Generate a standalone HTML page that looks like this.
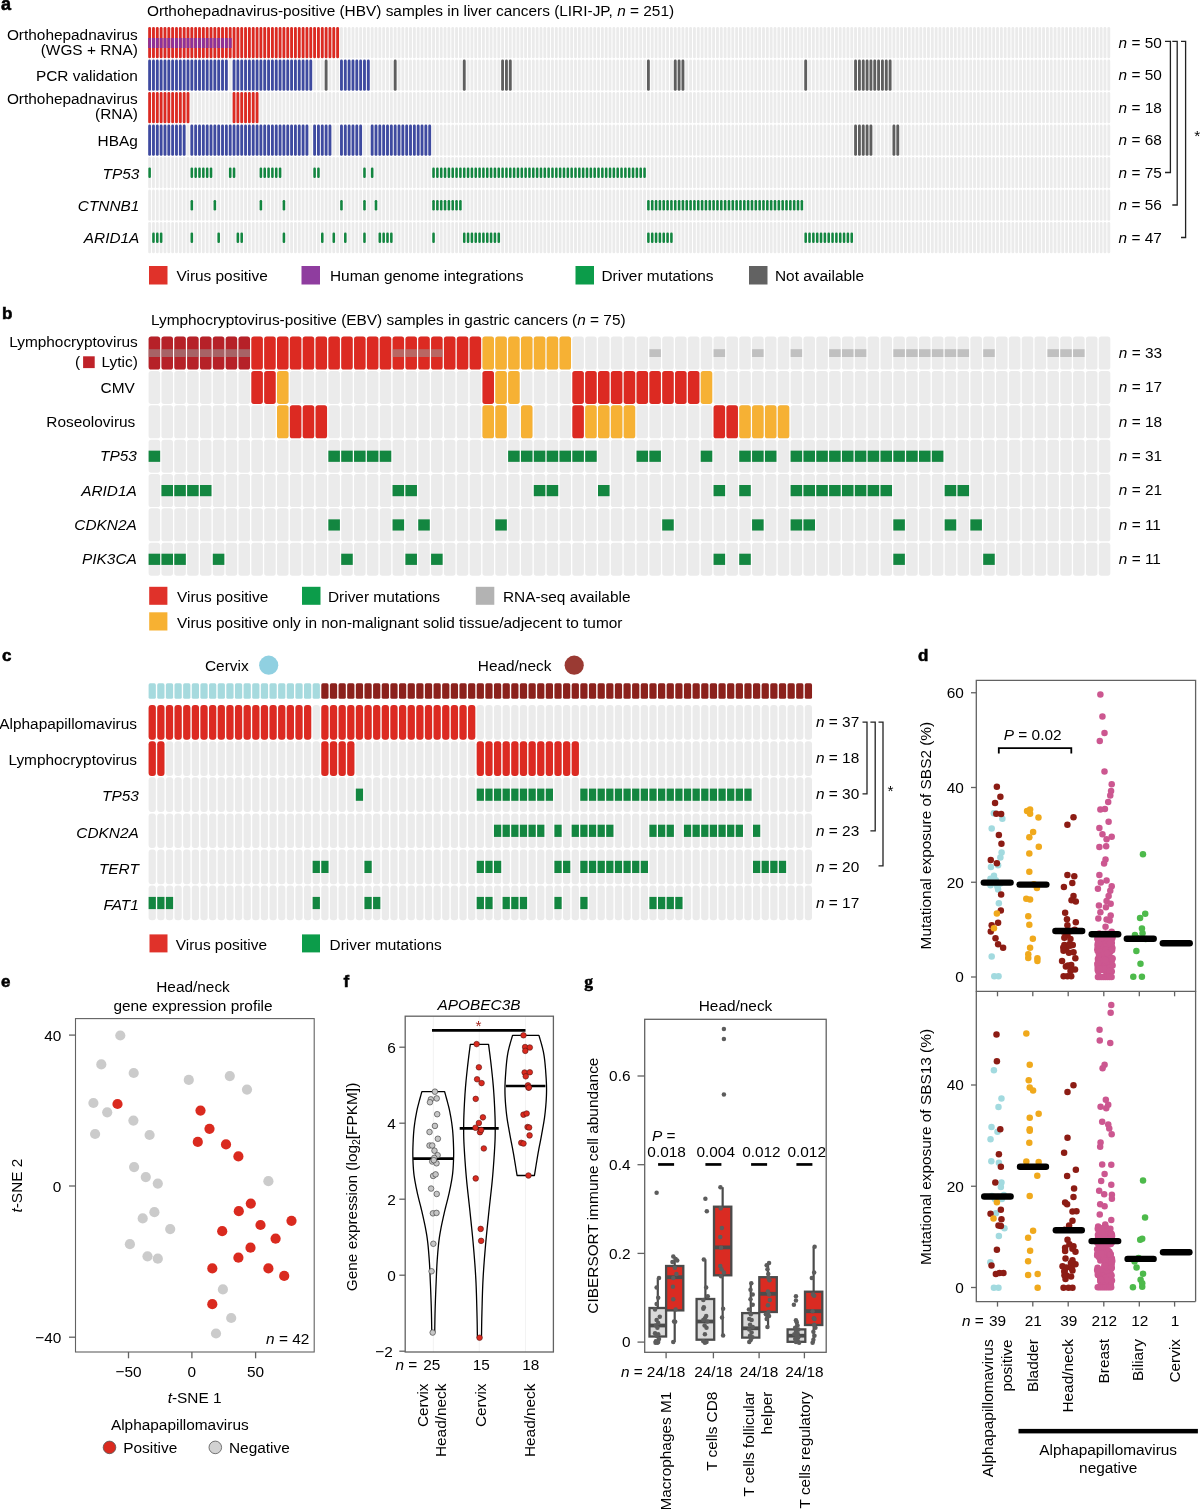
<!DOCTYPE html>
<html><head><meta charset="utf-8"><style>
*{margin:0;padding:0}
html,body{width:1200px;height:1509px;background:#fff;overflow:hidden}
svg{display:block;will-change:transform;font-family:"Liberation Sans",sans-serif;font-size:15.4px}
.ba{width:2.85px;height:31.3px;rx:1.42px;ry:1.42px;fill:#ebebeb}
.am{width:2.55px;height:10.4px;rx:1.2px;ry:1.2px;fill:#138640}
.bb{width:11.55px;height:33px;rx:2.6px;ry:2.6px;fill:#ebebeb}
.bm{width:11.55px;height:11.2px;fill:#138640}
.cb{width:7.25px;height:34.7px;rx:3px;ry:3px;fill:#ebebeb}
.cm{width:7.25px;height:12.2px;fill:#138640}
.dd{r:3.25px}
.fg{r:2.8px;fill:#c6c6c6;stroke:#333;stroke-width:.6px}
.fr{r:2.8px;fill:#da2a1f;stroke:#5a1410;stroke-width:.6px}
.gp{r:2.25px;fill:#5c5c5c}
.k0{fill:#dc2a22}.k1{fill:#3e4aa0}.k2{fill:#5e5e5e}.k3{fill:#b62128}.k4{fill:#f6b134}.k5{fill:#a2dadf}.k6{fill:#8c1c14}.k7{fill:#f0a91c}.k8{fill:#cc5790}.k9{fill:#4dba4b}</style></head><body>
<svg width="1200" height="1509" viewBox="0 0 1200 1509">
<text x="1" y="10" font-size="18" font-weight="bold" stroke="#000" stroke-width="0.55">a</text>
<text x="147" y="16.3">Orthohepadnavirus-positive (HBV) samples in liver cancers (LIRI-JP, <tspan font-style="italic">n</tspan> = 251)</text>
<rect class="ba" x="148.2" y="27"/>
<rect class="ba" x="152.04" y="27"/>
<rect class="ba" x="155.87" y="27"/>
<rect class="ba" x="159.71" y="27"/>
<rect class="ba" x="163.55" y="27"/>
<rect class="ba" x="167.38" y="27"/>
<rect class="ba" x="171.22" y="27"/>
<rect class="ba" x="175.06" y="27"/>
<rect class="ba" x="178.89" y="27"/>
<rect class="ba" x="182.73" y="27"/>
<rect class="ba" x="186.57" y="27"/>
<rect class="ba" x="190.4" y="27"/>
<rect class="ba" x="194.24" y="27"/>
<rect class="ba" x="198.08" y="27"/>
<rect class="ba" x="201.91" y="27"/>
<rect class="ba" x="205.75" y="27"/>
<rect class="ba" x="209.59" y="27"/>
<rect class="ba" x="213.42" y="27"/>
<rect class="ba" x="217.26" y="27"/>
<rect class="ba" x="221.1" y="27"/>
<rect class="ba" x="224.93" y="27"/>
<rect class="ba" x="228.77" y="27"/>
<rect class="ba" x="232.61" y="27"/>
<rect class="ba" x="236.44" y="27"/>
<rect class="ba" x="240.28" y="27"/>
<rect class="ba" x="244.12" y="27"/>
<rect class="ba" x="247.95" y="27"/>
<rect class="ba" x="251.79" y="27"/>
<rect class="ba" x="255.63" y="27"/>
<rect class="ba" x="259.46" y="27"/>
<rect class="ba" x="263.3" y="27"/>
<rect class="ba" x="267.14" y="27"/>
<rect class="ba" x="270.97" y="27"/>
<rect class="ba" x="274.81" y="27"/>
<rect class="ba" x="278.65" y="27"/>
<rect class="ba" x="282.48" y="27"/>
<rect class="ba" x="286.32" y="27"/>
<rect class="ba" x="290.16" y="27"/>
<rect class="ba" x="293.99" y="27"/>
<rect class="ba" x="297.83" y="27"/>
<rect class="ba" x="301.67" y="27"/>
<rect class="ba" x="305.5" y="27"/>
<rect class="ba" x="309.34" y="27"/>
<rect class="ba" x="313.18" y="27"/>
<rect class="ba" x="317.01" y="27"/>
<rect class="ba" x="320.85" y="27"/>
<rect class="ba" x="324.69" y="27"/>
<rect class="ba" x="328.52" y="27"/>
<rect class="ba" x="332.36" y="27"/>
<rect class="ba" x="336.2" y="27"/>
<rect class="ba" x="340.03" y="27"/>
<rect class="ba" x="343.87" y="27"/>
<rect class="ba" x="347.71" y="27"/>
<rect class="ba" x="351.54" y="27"/>
<rect class="ba" x="355.38" y="27"/>
<rect class="ba" x="359.22" y="27"/>
<rect class="ba" x="363.05" y="27"/>
<rect class="ba" x="366.89" y="27"/>
<rect class="ba" x="370.73" y="27"/>
<rect class="ba" x="374.56" y="27"/>
<rect class="ba" x="378.4" y="27"/>
<rect class="ba" x="382.24" y="27"/>
<rect class="ba" x="386.07" y="27"/>
<rect class="ba" x="389.91" y="27"/>
<rect class="ba" x="393.75" y="27"/>
<rect class="ba" x="397.58" y="27"/>
<rect class="ba" x="401.42" y="27"/>
<rect class="ba" x="405.26" y="27"/>
<rect class="ba" x="409.09" y="27"/>
<rect class="ba" x="412.93" y="27"/>
<rect class="ba" x="416.77" y="27"/>
<rect class="ba" x="420.6" y="27"/>
<rect class="ba" x="424.44" y="27"/>
<rect class="ba" x="428.28" y="27"/>
<rect class="ba" x="432.11" y="27"/>
<rect class="ba" x="435.95" y="27"/>
<rect class="ba" x="439.79" y="27"/>
<rect class="ba" x="443.62" y="27"/>
<rect class="ba" x="447.46" y="27"/>
<rect class="ba" x="451.3" y="27"/>
<rect class="ba" x="455.13" y="27"/>
<rect class="ba" x="458.97" y="27"/>
<rect class="ba" x="462.81" y="27"/>
<rect class="ba" x="466.64" y="27"/>
<rect class="ba" x="470.48" y="27"/>
<rect class="ba" x="474.32" y="27"/>
<rect class="ba" x="478.15" y="27"/>
<rect class="ba" x="481.99" y="27"/>
<rect class="ba" x="485.83" y="27"/>
<rect class="ba" x="489.66" y="27"/>
<rect class="ba" x="493.5" y="27"/>
<rect class="ba" x="497.34" y="27"/>
<rect class="ba" x="501.17" y="27"/>
<rect class="ba" x="505.01" y="27"/>
<rect class="ba" x="508.85" y="27"/>
<rect class="ba" x="512.68" y="27"/>
<rect class="ba" x="516.52" y="27"/>
<rect class="ba" x="520.36" y="27"/>
<rect class="ba" x="524.19" y="27"/>
<rect class="ba" x="528.03" y="27"/>
<rect class="ba" x="531.87" y="27"/>
<rect class="ba" x="535.7" y="27"/>
<rect class="ba" x="539.54" y="27"/>
<rect class="ba" x="543.38" y="27"/>
<rect class="ba" x="547.21" y="27"/>
<rect class="ba" x="551.05" y="27"/>
<rect class="ba" x="554.89" y="27"/>
<rect class="ba" x="558.72" y="27"/>
<rect class="ba" x="562.56" y="27"/>
<rect class="ba" x="566.4" y="27"/>
<rect class="ba" x="570.23" y="27"/>
<rect class="ba" x="574.07" y="27"/>
<rect class="ba" x="577.91" y="27"/>
<rect class="ba" x="581.74" y="27"/>
<rect class="ba" x="585.58" y="27"/>
<rect class="ba" x="589.42" y="27"/>
<rect class="ba" x="593.25" y="27"/>
<rect class="ba" x="597.09" y="27"/>
<rect class="ba" x="600.93" y="27"/>
<rect class="ba" x="604.76" y="27"/>
<rect class="ba" x="608.6" y="27"/>
<rect class="ba" x="612.44" y="27"/>
<rect class="ba" x="616.27" y="27"/>
<rect class="ba" x="620.11" y="27"/>
<rect class="ba" x="623.95" y="27"/>
<rect class="ba" x="627.78" y="27"/>
<rect class="ba" x="631.62" y="27"/>
<rect class="ba" x="635.45" y="27"/>
<rect class="ba" x="639.29" y="27"/>
<rect class="ba" x="643.13" y="27"/>
<rect class="ba" x="646.96" y="27"/>
<rect class="ba" x="650.8" y="27"/>
<rect class="ba" x="654.64" y="27"/>
<rect class="ba" x="658.47" y="27"/>
<rect class="ba" x="662.31" y="27"/>
<rect class="ba" x="666.15" y="27"/>
<rect class="ba" x="669.98" y="27"/>
<rect class="ba" x="673.82" y="27"/>
<rect class="ba" x="677.66" y="27"/>
<rect class="ba" x="681.49" y="27"/>
<rect class="ba" x="685.33" y="27"/>
<rect class="ba" x="689.17" y="27"/>
<rect class="ba" x="693" y="27"/>
<rect class="ba" x="696.84" y="27"/>
<rect class="ba" x="700.68" y="27"/>
<rect class="ba" x="704.51" y="27"/>
<rect class="ba" x="708.35" y="27"/>
<rect class="ba" x="712.19" y="27"/>
<rect class="ba" x="716.02" y="27"/>
<rect class="ba" x="719.86" y="27"/>
<rect class="ba" x="723.7" y="27"/>
<rect class="ba" x="727.53" y="27"/>
<rect class="ba" x="731.37" y="27"/>
<rect class="ba" x="735.21" y="27"/>
<rect class="ba" x="739.04" y="27"/>
<rect class="ba" x="742.88" y="27"/>
<rect class="ba" x="746.72" y="27"/>
<rect class="ba" x="750.55" y="27"/>
<rect class="ba" x="754.39" y="27"/>
<rect class="ba" x="758.23" y="27"/>
<rect class="ba" x="762.06" y="27"/>
<rect class="ba" x="765.9" y="27"/>
<rect class="ba" x="769.74" y="27"/>
<rect class="ba" x="773.57" y="27"/>
<rect class="ba" x="777.41" y="27"/>
<rect class="ba" x="781.25" y="27"/>
<rect class="ba" x="785.08" y="27"/>
<rect class="ba" x="788.92" y="27"/>
<rect class="ba" x="792.76" y="27"/>
<rect class="ba" x="796.59" y="27"/>
<rect class="ba" x="800.43" y="27"/>
<rect class="ba" x="804.27" y="27"/>
<rect class="ba" x="808.1" y="27"/>
<rect class="ba" x="811.94" y="27"/>
<rect class="ba" x="815.78" y="27"/>
<rect class="ba" x="819.61" y="27"/>
<rect class="ba" x="823.45" y="27"/>
<rect class="ba" x="827.29" y="27"/>
<rect class="ba" x="831.12" y="27"/>
<rect class="ba" x="834.96" y="27"/>
<rect class="ba" x="838.8" y="27"/>
<rect class="ba" x="842.63" y="27"/>
<rect class="ba" x="846.47" y="27"/>
<rect class="ba" x="850.31" y="27"/>
<rect class="ba" x="854.14" y="27"/>
<rect class="ba" x="857.98" y="27"/>
<rect class="ba" x="861.82" y="27"/>
<rect class="ba" x="865.65" y="27"/>
<rect class="ba" x="869.49" y="27"/>
<rect class="ba" x="873.33" y="27"/>
<rect class="ba" x="877.16" y="27"/>
<rect class="ba" x="881" y="27"/>
<rect class="ba" x="884.84" y="27"/>
<rect class="ba" x="888.67" y="27"/>
<rect class="ba" x="892.51" y="27"/>
<rect class="ba" x="896.35" y="27"/>
<rect class="ba" x="900.18" y="27"/>
<rect class="ba" x="904.02" y="27"/>
<rect class="ba" x="907.86" y="27"/>
<rect class="ba" x="911.69" y="27"/>
<rect class="ba" x="915.53" y="27"/>
<rect class="ba" x="919.37" y="27"/>
<rect class="ba" x="923.2" y="27"/>
<rect class="ba" x="927.04" y="27"/>
<rect class="ba" x="930.88" y="27"/>
<rect class="ba" x="934.71" y="27"/>
<rect class="ba" x="938.55" y="27"/>
<rect class="ba" x="942.39" y="27"/>
<rect class="ba" x="946.22" y="27"/>
<rect class="ba" x="950.06" y="27"/>
<rect class="ba" x="953.9" y="27"/>
<rect class="ba" x="957.73" y="27"/>
<rect class="ba" x="961.57" y="27"/>
<rect class="ba" x="965.41" y="27"/>
<rect class="ba" x="969.24" y="27"/>
<rect class="ba" x="973.08" y="27"/>
<rect class="ba" x="976.92" y="27"/>
<rect class="ba" x="980.75" y="27"/>
<rect class="ba" x="984.59" y="27"/>
<rect class="ba" x="988.43" y="27"/>
<rect class="ba" x="992.26" y="27"/>
<rect class="ba" x="996.1" y="27"/>
<rect class="ba" x="999.94" y="27"/>
<rect class="ba" x="1003.77" y="27"/>
<rect class="ba" x="1007.61" y="27"/>
<rect class="ba" x="1011.45" y="27"/>
<rect class="ba" x="1015.28" y="27"/>
<rect class="ba" x="1019.12" y="27"/>
<rect class="ba" x="1022.96" y="27"/>
<rect class="ba" x="1026.79" y="27"/>
<rect class="ba" x="1030.63" y="27"/>
<rect class="ba" x="1034.47" y="27"/>
<rect class="ba" x="1038.3" y="27"/>
<rect class="ba" x="1042.14" y="27"/>
<rect class="ba" x="1045.98" y="27"/>
<rect class="ba" x="1049.81" y="27"/>
<rect class="ba" x="1053.65" y="27"/>
<rect class="ba" x="1057.49" y="27"/>
<rect class="ba" x="1061.32" y="27"/>
<rect class="ba" x="1065.16" y="27"/>
<rect class="ba" x="1069" y="27"/>
<rect class="ba" x="1072.83" y="27"/>
<rect class="ba" x="1076.67" y="27"/>
<rect class="ba" x="1080.51" y="27"/>
<rect class="ba" x="1084.34" y="27"/>
<rect class="ba" x="1088.18" y="27"/>
<rect class="ba" x="1092.02" y="27"/>
<rect class="ba" x="1095.85" y="27"/>
<rect class="ba" x="1099.69" y="27"/>
<rect class="ba" x="1103.53" y="27"/>
<rect class="ba" x="1107.36" y="27"/>
<rect class="ba" x="148.2" y="59.5"/>
<rect class="ba" x="152.04" y="59.5"/>
<rect class="ba" x="155.87" y="59.5"/>
<rect class="ba" x="159.71" y="59.5"/>
<rect class="ba" x="163.55" y="59.5"/>
<rect class="ba" x="167.38" y="59.5"/>
<rect class="ba" x="171.22" y="59.5"/>
<rect class="ba" x="175.06" y="59.5"/>
<rect class="ba" x="178.89" y="59.5"/>
<rect class="ba" x="182.73" y="59.5"/>
<rect class="ba" x="186.57" y="59.5"/>
<rect class="ba" x="190.4" y="59.5"/>
<rect class="ba" x="194.24" y="59.5"/>
<rect class="ba" x="198.08" y="59.5"/>
<rect class="ba" x="201.91" y="59.5"/>
<rect class="ba" x="205.75" y="59.5"/>
<rect class="ba" x="209.59" y="59.5"/>
<rect class="ba" x="213.42" y="59.5"/>
<rect class="ba" x="217.26" y="59.5"/>
<rect class="ba" x="221.1" y="59.5"/>
<rect class="ba" x="224.93" y="59.5"/>
<rect class="ba" x="228.77" y="59.5"/>
<rect class="ba" x="232.61" y="59.5"/>
<rect class="ba" x="236.44" y="59.5"/>
<rect class="ba" x="240.28" y="59.5"/>
<rect class="ba" x="244.12" y="59.5"/>
<rect class="ba" x="247.95" y="59.5"/>
<rect class="ba" x="251.79" y="59.5"/>
<rect class="ba" x="255.63" y="59.5"/>
<rect class="ba" x="259.46" y="59.5"/>
<rect class="ba" x="263.3" y="59.5"/>
<rect class="ba" x="267.14" y="59.5"/>
<rect class="ba" x="270.97" y="59.5"/>
<rect class="ba" x="274.81" y="59.5"/>
<rect class="ba" x="278.65" y="59.5"/>
<rect class="ba" x="282.48" y="59.5"/>
<rect class="ba" x="286.32" y="59.5"/>
<rect class="ba" x="290.16" y="59.5"/>
<rect class="ba" x="293.99" y="59.5"/>
<rect class="ba" x="297.83" y="59.5"/>
<rect class="ba" x="301.67" y="59.5"/>
<rect class="ba" x="305.5" y="59.5"/>
<rect class="ba" x="309.34" y="59.5"/>
<rect class="ba" x="313.18" y="59.5"/>
<rect class="ba" x="317.01" y="59.5"/>
<rect class="ba" x="320.85" y="59.5"/>
<rect class="ba" x="324.69" y="59.5"/>
<rect class="ba" x="328.52" y="59.5"/>
<rect class="ba" x="332.36" y="59.5"/>
<rect class="ba" x="336.2" y="59.5"/>
<rect class="ba" x="340.03" y="59.5"/>
<rect class="ba" x="343.87" y="59.5"/>
<rect class="ba" x="347.71" y="59.5"/>
<rect class="ba" x="351.54" y="59.5"/>
<rect class="ba" x="355.38" y="59.5"/>
<rect class="ba" x="359.22" y="59.5"/>
<rect class="ba" x="363.05" y="59.5"/>
<rect class="ba" x="366.89" y="59.5"/>
<rect class="ba" x="370.73" y="59.5"/>
<rect class="ba" x="374.56" y="59.5"/>
<rect class="ba" x="378.4" y="59.5"/>
<rect class="ba" x="382.24" y="59.5"/>
<rect class="ba" x="386.07" y="59.5"/>
<rect class="ba" x="389.91" y="59.5"/>
<rect class="ba" x="393.75" y="59.5"/>
<rect class="ba" x="397.58" y="59.5"/>
<rect class="ba" x="401.42" y="59.5"/>
<rect class="ba" x="405.26" y="59.5"/>
<rect class="ba" x="409.09" y="59.5"/>
<rect class="ba" x="412.93" y="59.5"/>
<rect class="ba" x="416.77" y="59.5"/>
<rect class="ba" x="420.6" y="59.5"/>
<rect class="ba" x="424.44" y="59.5"/>
<rect class="ba" x="428.28" y="59.5"/>
<rect class="ba" x="432.11" y="59.5"/>
<rect class="ba" x="435.95" y="59.5"/>
<rect class="ba" x="439.79" y="59.5"/>
<rect class="ba" x="443.62" y="59.5"/>
<rect class="ba" x="447.46" y="59.5"/>
<rect class="ba" x="451.3" y="59.5"/>
<rect class="ba" x="455.13" y="59.5"/>
<rect class="ba" x="458.97" y="59.5"/>
<rect class="ba" x="462.81" y="59.5"/>
<rect class="ba" x="466.64" y="59.5"/>
<rect class="ba" x="470.48" y="59.5"/>
<rect class="ba" x="474.32" y="59.5"/>
<rect class="ba" x="478.15" y="59.5"/>
<rect class="ba" x="481.99" y="59.5"/>
<rect class="ba" x="485.83" y="59.5"/>
<rect class="ba" x="489.66" y="59.5"/>
<rect class="ba" x="493.5" y="59.5"/>
<rect class="ba" x="497.34" y="59.5"/>
<rect class="ba" x="501.17" y="59.5"/>
<rect class="ba" x="505.01" y="59.5"/>
<rect class="ba" x="508.85" y="59.5"/>
<rect class="ba" x="512.68" y="59.5"/>
<rect class="ba" x="516.52" y="59.5"/>
<rect class="ba" x="520.36" y="59.5"/>
<rect class="ba" x="524.19" y="59.5"/>
<rect class="ba" x="528.03" y="59.5"/>
<rect class="ba" x="531.87" y="59.5"/>
<rect class="ba" x="535.7" y="59.5"/>
<rect class="ba" x="539.54" y="59.5"/>
<rect class="ba" x="543.38" y="59.5"/>
<rect class="ba" x="547.21" y="59.5"/>
<rect class="ba" x="551.05" y="59.5"/>
<rect class="ba" x="554.89" y="59.5"/>
<rect class="ba" x="558.72" y="59.5"/>
<rect class="ba" x="562.56" y="59.5"/>
<rect class="ba" x="566.4" y="59.5"/>
<rect class="ba" x="570.23" y="59.5"/>
<rect class="ba" x="574.07" y="59.5"/>
<rect class="ba" x="577.91" y="59.5"/>
<rect class="ba" x="581.74" y="59.5"/>
<rect class="ba" x="585.58" y="59.5"/>
<rect class="ba" x="589.42" y="59.5"/>
<rect class="ba" x="593.25" y="59.5"/>
<rect class="ba" x="597.09" y="59.5"/>
<rect class="ba" x="600.93" y="59.5"/>
<rect class="ba" x="604.76" y="59.5"/>
<rect class="ba" x="608.6" y="59.5"/>
<rect class="ba" x="612.44" y="59.5"/>
<rect class="ba" x="616.27" y="59.5"/>
<rect class="ba" x="620.11" y="59.5"/>
<rect class="ba" x="623.95" y="59.5"/>
<rect class="ba" x="627.78" y="59.5"/>
<rect class="ba" x="631.62" y="59.5"/>
<rect class="ba" x="635.45" y="59.5"/>
<rect class="ba" x="639.29" y="59.5"/>
<rect class="ba" x="643.13" y="59.5"/>
<rect class="ba" x="646.96" y="59.5"/>
<rect class="ba" x="650.8" y="59.5"/>
<rect class="ba" x="654.64" y="59.5"/>
<rect class="ba" x="658.47" y="59.5"/>
<rect class="ba" x="662.31" y="59.5"/>
<rect class="ba" x="666.15" y="59.5"/>
<rect class="ba" x="669.98" y="59.5"/>
<rect class="ba" x="673.82" y="59.5"/>
<rect class="ba" x="677.66" y="59.5"/>
<rect class="ba" x="681.49" y="59.5"/>
<rect class="ba" x="685.33" y="59.5"/>
<rect class="ba" x="689.17" y="59.5"/>
<rect class="ba" x="693" y="59.5"/>
<rect class="ba" x="696.84" y="59.5"/>
<rect class="ba" x="700.68" y="59.5"/>
<rect class="ba" x="704.51" y="59.5"/>
<rect class="ba" x="708.35" y="59.5"/>
<rect class="ba" x="712.19" y="59.5"/>
<rect class="ba" x="716.02" y="59.5"/>
<rect class="ba" x="719.86" y="59.5"/>
<rect class="ba" x="723.7" y="59.5"/>
<rect class="ba" x="727.53" y="59.5"/>
<rect class="ba" x="731.37" y="59.5"/>
<rect class="ba" x="735.21" y="59.5"/>
<rect class="ba" x="739.04" y="59.5"/>
<rect class="ba" x="742.88" y="59.5"/>
<rect class="ba" x="746.72" y="59.5"/>
<rect class="ba" x="750.55" y="59.5"/>
<rect class="ba" x="754.39" y="59.5"/>
<rect class="ba" x="758.23" y="59.5"/>
<rect class="ba" x="762.06" y="59.5"/>
<rect class="ba" x="765.9" y="59.5"/>
<rect class="ba" x="769.74" y="59.5"/>
<rect class="ba" x="773.57" y="59.5"/>
<rect class="ba" x="777.41" y="59.5"/>
<rect class="ba" x="781.25" y="59.5"/>
<rect class="ba" x="785.08" y="59.5"/>
<rect class="ba" x="788.92" y="59.5"/>
<rect class="ba" x="792.76" y="59.5"/>
<rect class="ba" x="796.59" y="59.5"/>
<rect class="ba" x="800.43" y="59.5"/>
<rect class="ba" x="804.27" y="59.5"/>
<rect class="ba" x="808.1" y="59.5"/>
<rect class="ba" x="811.94" y="59.5"/>
<rect class="ba" x="815.78" y="59.5"/>
<rect class="ba" x="819.61" y="59.5"/>
<rect class="ba" x="823.45" y="59.5"/>
<rect class="ba" x="827.29" y="59.5"/>
<rect class="ba" x="831.12" y="59.5"/>
<rect class="ba" x="834.96" y="59.5"/>
<rect class="ba" x="838.8" y="59.5"/>
<rect class="ba" x="842.63" y="59.5"/>
<rect class="ba" x="846.47" y="59.5"/>
<rect class="ba" x="850.31" y="59.5"/>
<rect class="ba" x="854.14" y="59.5"/>
<rect class="ba" x="857.98" y="59.5"/>
<rect class="ba" x="861.82" y="59.5"/>
<rect class="ba" x="865.65" y="59.5"/>
<rect class="ba" x="869.49" y="59.5"/>
<rect class="ba" x="873.33" y="59.5"/>
<rect class="ba" x="877.16" y="59.5"/>
<rect class="ba" x="881" y="59.5"/>
<rect class="ba" x="884.84" y="59.5"/>
<rect class="ba" x="888.67" y="59.5"/>
<rect class="ba" x="892.51" y="59.5"/>
<rect class="ba" x="896.35" y="59.5"/>
<rect class="ba" x="900.18" y="59.5"/>
<rect class="ba" x="904.02" y="59.5"/>
<rect class="ba" x="907.86" y="59.5"/>
<rect class="ba" x="911.69" y="59.5"/>
<rect class="ba" x="915.53" y="59.5"/>
<rect class="ba" x="919.37" y="59.5"/>
<rect class="ba" x="923.2" y="59.5"/>
<rect class="ba" x="927.04" y="59.5"/>
<rect class="ba" x="930.88" y="59.5"/>
<rect class="ba" x="934.71" y="59.5"/>
<rect class="ba" x="938.55" y="59.5"/>
<rect class="ba" x="942.39" y="59.5"/>
<rect class="ba" x="946.22" y="59.5"/>
<rect class="ba" x="950.06" y="59.5"/>
<rect class="ba" x="953.9" y="59.5"/>
<rect class="ba" x="957.73" y="59.5"/>
<rect class="ba" x="961.57" y="59.5"/>
<rect class="ba" x="965.41" y="59.5"/>
<rect class="ba" x="969.24" y="59.5"/>
<rect class="ba" x="973.08" y="59.5"/>
<rect class="ba" x="976.92" y="59.5"/>
<rect class="ba" x="980.75" y="59.5"/>
<rect class="ba" x="984.59" y="59.5"/>
<rect class="ba" x="988.43" y="59.5"/>
<rect class="ba" x="992.26" y="59.5"/>
<rect class="ba" x="996.1" y="59.5"/>
<rect class="ba" x="999.94" y="59.5"/>
<rect class="ba" x="1003.77" y="59.5"/>
<rect class="ba" x="1007.61" y="59.5"/>
<rect class="ba" x="1011.45" y="59.5"/>
<rect class="ba" x="1015.28" y="59.5"/>
<rect class="ba" x="1019.12" y="59.5"/>
<rect class="ba" x="1022.96" y="59.5"/>
<rect class="ba" x="1026.79" y="59.5"/>
<rect class="ba" x="1030.63" y="59.5"/>
<rect class="ba" x="1034.47" y="59.5"/>
<rect class="ba" x="1038.3" y="59.5"/>
<rect class="ba" x="1042.14" y="59.5"/>
<rect class="ba" x="1045.98" y="59.5"/>
<rect class="ba" x="1049.81" y="59.5"/>
<rect class="ba" x="1053.65" y="59.5"/>
<rect class="ba" x="1057.49" y="59.5"/>
<rect class="ba" x="1061.32" y="59.5"/>
<rect class="ba" x="1065.16" y="59.5"/>
<rect class="ba" x="1069" y="59.5"/>
<rect class="ba" x="1072.83" y="59.5"/>
<rect class="ba" x="1076.67" y="59.5"/>
<rect class="ba" x="1080.51" y="59.5"/>
<rect class="ba" x="1084.34" y="59.5"/>
<rect class="ba" x="1088.18" y="59.5"/>
<rect class="ba" x="1092.02" y="59.5"/>
<rect class="ba" x="1095.85" y="59.5"/>
<rect class="ba" x="1099.69" y="59.5"/>
<rect class="ba" x="1103.53" y="59.5"/>
<rect class="ba" x="1107.36" y="59.5"/>
<rect class="ba" x="148.2" y="92"/>
<rect class="ba" x="152.04" y="92"/>
<rect class="ba" x="155.87" y="92"/>
<rect class="ba" x="159.71" y="92"/>
<rect class="ba" x="163.55" y="92"/>
<rect class="ba" x="167.38" y="92"/>
<rect class="ba" x="171.22" y="92"/>
<rect class="ba" x="175.06" y="92"/>
<rect class="ba" x="178.89" y="92"/>
<rect class="ba" x="182.73" y="92"/>
<rect class="ba" x="186.57" y="92"/>
<rect class="ba" x="190.4" y="92"/>
<rect class="ba" x="194.24" y="92"/>
<rect class="ba" x="198.08" y="92"/>
<rect class="ba" x="201.91" y="92"/>
<rect class="ba" x="205.75" y="92"/>
<rect class="ba" x="209.59" y="92"/>
<rect class="ba" x="213.42" y="92"/>
<rect class="ba" x="217.26" y="92"/>
<rect class="ba" x="221.1" y="92"/>
<rect class="ba" x="224.93" y="92"/>
<rect class="ba" x="228.77" y="92"/>
<rect class="ba" x="232.61" y="92"/>
<rect class="ba" x="236.44" y="92"/>
<rect class="ba" x="240.28" y="92"/>
<rect class="ba" x="244.12" y="92"/>
<rect class="ba" x="247.95" y="92"/>
<rect class="ba" x="251.79" y="92"/>
<rect class="ba" x="255.63" y="92"/>
<rect class="ba" x="259.46" y="92"/>
<rect class="ba" x="263.3" y="92"/>
<rect class="ba" x="267.14" y="92"/>
<rect class="ba" x="270.97" y="92"/>
<rect class="ba" x="274.81" y="92"/>
<rect class="ba" x="278.65" y="92"/>
<rect class="ba" x="282.48" y="92"/>
<rect class="ba" x="286.32" y="92"/>
<rect class="ba" x="290.16" y="92"/>
<rect class="ba" x="293.99" y="92"/>
<rect class="ba" x="297.83" y="92"/>
<rect class="ba" x="301.67" y="92"/>
<rect class="ba" x="305.5" y="92"/>
<rect class="ba" x="309.34" y="92"/>
<rect class="ba" x="313.18" y="92"/>
<rect class="ba" x="317.01" y="92"/>
<rect class="ba" x="320.85" y="92"/>
<rect class="ba" x="324.69" y="92"/>
<rect class="ba" x="328.52" y="92"/>
<rect class="ba" x="332.36" y="92"/>
<rect class="ba" x="336.2" y="92"/>
<rect class="ba" x="340.03" y="92"/>
<rect class="ba" x="343.87" y="92"/>
<rect class="ba" x="347.71" y="92"/>
<rect class="ba" x="351.54" y="92"/>
<rect class="ba" x="355.38" y="92"/>
<rect class="ba" x="359.22" y="92"/>
<rect class="ba" x="363.05" y="92"/>
<rect class="ba" x="366.89" y="92"/>
<rect class="ba" x="370.73" y="92"/>
<rect class="ba" x="374.56" y="92"/>
<rect class="ba" x="378.4" y="92"/>
<rect class="ba" x="382.24" y="92"/>
<rect class="ba" x="386.07" y="92"/>
<rect class="ba" x="389.91" y="92"/>
<rect class="ba" x="393.75" y="92"/>
<rect class="ba" x="397.58" y="92"/>
<rect class="ba" x="401.42" y="92"/>
<rect class="ba" x="405.26" y="92"/>
<rect class="ba" x="409.09" y="92"/>
<rect class="ba" x="412.93" y="92"/>
<rect class="ba" x="416.77" y="92"/>
<rect class="ba" x="420.6" y="92"/>
<rect class="ba" x="424.44" y="92"/>
<rect class="ba" x="428.28" y="92"/>
<rect class="ba" x="432.11" y="92"/>
<rect class="ba" x="435.95" y="92"/>
<rect class="ba" x="439.79" y="92"/>
<rect class="ba" x="443.62" y="92"/>
<rect class="ba" x="447.46" y="92"/>
<rect class="ba" x="451.3" y="92"/>
<rect class="ba" x="455.13" y="92"/>
<rect class="ba" x="458.97" y="92"/>
<rect class="ba" x="462.81" y="92"/>
<rect class="ba" x="466.64" y="92"/>
<rect class="ba" x="470.48" y="92"/>
<rect class="ba" x="474.32" y="92"/>
<rect class="ba" x="478.15" y="92"/>
<rect class="ba" x="481.99" y="92"/>
<rect class="ba" x="485.83" y="92"/>
<rect class="ba" x="489.66" y="92"/>
<rect class="ba" x="493.5" y="92"/>
<rect class="ba" x="497.34" y="92"/>
<rect class="ba" x="501.17" y="92"/>
<rect class="ba" x="505.01" y="92"/>
<rect class="ba" x="508.85" y="92"/>
<rect class="ba" x="512.68" y="92"/>
<rect class="ba" x="516.52" y="92"/>
<rect class="ba" x="520.36" y="92"/>
<rect class="ba" x="524.19" y="92"/>
<rect class="ba" x="528.03" y="92"/>
<rect class="ba" x="531.87" y="92"/>
<rect class="ba" x="535.7" y="92"/>
<rect class="ba" x="539.54" y="92"/>
<rect class="ba" x="543.38" y="92"/>
<rect class="ba" x="547.21" y="92"/>
<rect class="ba" x="551.05" y="92"/>
<rect class="ba" x="554.89" y="92"/>
<rect class="ba" x="558.72" y="92"/>
<rect class="ba" x="562.56" y="92"/>
<rect class="ba" x="566.4" y="92"/>
<rect class="ba" x="570.23" y="92"/>
<rect class="ba" x="574.07" y="92"/>
<rect class="ba" x="577.91" y="92"/>
<rect class="ba" x="581.74" y="92"/>
<rect class="ba" x="585.58" y="92"/>
<rect class="ba" x="589.42" y="92"/>
<rect class="ba" x="593.25" y="92"/>
<rect class="ba" x="597.09" y="92"/>
<rect class="ba" x="600.93" y="92"/>
<rect class="ba" x="604.76" y="92"/>
<rect class="ba" x="608.6" y="92"/>
<rect class="ba" x="612.44" y="92"/>
<rect class="ba" x="616.27" y="92"/>
<rect class="ba" x="620.11" y="92"/>
<rect class="ba" x="623.95" y="92"/>
<rect class="ba" x="627.78" y="92"/>
<rect class="ba" x="631.62" y="92"/>
<rect class="ba" x="635.45" y="92"/>
<rect class="ba" x="639.29" y="92"/>
<rect class="ba" x="643.13" y="92"/>
<rect class="ba" x="646.96" y="92"/>
<rect class="ba" x="650.8" y="92"/>
<rect class="ba" x="654.64" y="92"/>
<rect class="ba" x="658.47" y="92"/>
<rect class="ba" x="662.31" y="92"/>
<rect class="ba" x="666.15" y="92"/>
<rect class="ba" x="669.98" y="92"/>
<rect class="ba" x="673.82" y="92"/>
<rect class="ba" x="677.66" y="92"/>
<rect class="ba" x="681.49" y="92"/>
<rect class="ba" x="685.33" y="92"/>
<rect class="ba" x="689.17" y="92"/>
<rect class="ba" x="693" y="92"/>
<rect class="ba" x="696.84" y="92"/>
<rect class="ba" x="700.68" y="92"/>
<rect class="ba" x="704.51" y="92"/>
<rect class="ba" x="708.35" y="92"/>
<rect class="ba" x="712.19" y="92"/>
<rect class="ba" x="716.02" y="92"/>
<rect class="ba" x="719.86" y="92"/>
<rect class="ba" x="723.7" y="92"/>
<rect class="ba" x="727.53" y="92"/>
<rect class="ba" x="731.37" y="92"/>
<rect class="ba" x="735.21" y="92"/>
<rect class="ba" x="739.04" y="92"/>
<rect class="ba" x="742.88" y="92"/>
<rect class="ba" x="746.72" y="92"/>
<rect class="ba" x="750.55" y="92"/>
<rect class="ba" x="754.39" y="92"/>
<rect class="ba" x="758.23" y="92"/>
<rect class="ba" x="762.06" y="92"/>
<rect class="ba" x="765.9" y="92"/>
<rect class="ba" x="769.74" y="92"/>
<rect class="ba" x="773.57" y="92"/>
<rect class="ba" x="777.41" y="92"/>
<rect class="ba" x="781.25" y="92"/>
<rect class="ba" x="785.08" y="92"/>
<rect class="ba" x="788.92" y="92"/>
<rect class="ba" x="792.76" y="92"/>
<rect class="ba" x="796.59" y="92"/>
<rect class="ba" x="800.43" y="92"/>
<rect class="ba" x="804.27" y="92"/>
<rect class="ba" x="808.1" y="92"/>
<rect class="ba" x="811.94" y="92"/>
<rect class="ba" x="815.78" y="92"/>
<rect class="ba" x="819.61" y="92"/>
<rect class="ba" x="823.45" y="92"/>
<rect class="ba" x="827.29" y="92"/>
<rect class="ba" x="831.12" y="92"/>
<rect class="ba" x="834.96" y="92"/>
<rect class="ba" x="838.8" y="92"/>
<rect class="ba" x="842.63" y="92"/>
<rect class="ba" x="846.47" y="92"/>
<rect class="ba" x="850.31" y="92"/>
<rect class="ba" x="854.14" y="92"/>
<rect class="ba" x="857.98" y="92"/>
<rect class="ba" x="861.82" y="92"/>
<rect class="ba" x="865.65" y="92"/>
<rect class="ba" x="869.49" y="92"/>
<rect class="ba" x="873.33" y="92"/>
<rect class="ba" x="877.16" y="92"/>
<rect class="ba" x="881" y="92"/>
<rect class="ba" x="884.84" y="92"/>
<rect class="ba" x="888.67" y="92"/>
<rect class="ba" x="892.51" y="92"/>
<rect class="ba" x="896.35" y="92"/>
<rect class="ba" x="900.18" y="92"/>
<rect class="ba" x="904.02" y="92"/>
<rect class="ba" x="907.86" y="92"/>
<rect class="ba" x="911.69" y="92"/>
<rect class="ba" x="915.53" y="92"/>
<rect class="ba" x="919.37" y="92"/>
<rect class="ba" x="923.2" y="92"/>
<rect class="ba" x="927.04" y="92"/>
<rect class="ba" x="930.88" y="92"/>
<rect class="ba" x="934.71" y="92"/>
<rect class="ba" x="938.55" y="92"/>
<rect class="ba" x="942.39" y="92"/>
<rect class="ba" x="946.22" y="92"/>
<rect class="ba" x="950.06" y="92"/>
<rect class="ba" x="953.9" y="92"/>
<rect class="ba" x="957.73" y="92"/>
<rect class="ba" x="961.57" y="92"/>
<rect class="ba" x="965.41" y="92"/>
<rect class="ba" x="969.24" y="92"/>
<rect class="ba" x="973.08" y="92"/>
<rect class="ba" x="976.92" y="92"/>
<rect class="ba" x="980.75" y="92"/>
<rect class="ba" x="984.59" y="92"/>
<rect class="ba" x="988.43" y="92"/>
<rect class="ba" x="992.26" y="92"/>
<rect class="ba" x="996.1" y="92"/>
<rect class="ba" x="999.94" y="92"/>
<rect class="ba" x="1003.77" y="92"/>
<rect class="ba" x="1007.61" y="92"/>
<rect class="ba" x="1011.45" y="92"/>
<rect class="ba" x="1015.28" y="92"/>
<rect class="ba" x="1019.12" y="92"/>
<rect class="ba" x="1022.96" y="92"/>
<rect class="ba" x="1026.79" y="92"/>
<rect class="ba" x="1030.63" y="92"/>
<rect class="ba" x="1034.47" y="92"/>
<rect class="ba" x="1038.3" y="92"/>
<rect class="ba" x="1042.14" y="92"/>
<rect class="ba" x="1045.98" y="92"/>
<rect class="ba" x="1049.81" y="92"/>
<rect class="ba" x="1053.65" y="92"/>
<rect class="ba" x="1057.49" y="92"/>
<rect class="ba" x="1061.32" y="92"/>
<rect class="ba" x="1065.16" y="92"/>
<rect class="ba" x="1069" y="92"/>
<rect class="ba" x="1072.83" y="92"/>
<rect class="ba" x="1076.67" y="92"/>
<rect class="ba" x="1080.51" y="92"/>
<rect class="ba" x="1084.34" y="92"/>
<rect class="ba" x="1088.18" y="92"/>
<rect class="ba" x="1092.02" y="92"/>
<rect class="ba" x="1095.85" y="92"/>
<rect class="ba" x="1099.69" y="92"/>
<rect class="ba" x="1103.53" y="92"/>
<rect class="ba" x="1107.36" y="92"/>
<rect class="ba" x="148.2" y="124.5"/>
<rect class="ba" x="152.04" y="124.5"/>
<rect class="ba" x="155.87" y="124.5"/>
<rect class="ba" x="159.71" y="124.5"/>
<rect class="ba" x="163.55" y="124.5"/>
<rect class="ba" x="167.38" y="124.5"/>
<rect class="ba" x="171.22" y="124.5"/>
<rect class="ba" x="175.06" y="124.5"/>
<rect class="ba" x="178.89" y="124.5"/>
<rect class="ba" x="182.73" y="124.5"/>
<rect class="ba" x="186.57" y="124.5"/>
<rect class="ba" x="190.4" y="124.5"/>
<rect class="ba" x="194.24" y="124.5"/>
<rect class="ba" x="198.08" y="124.5"/>
<rect class="ba" x="201.91" y="124.5"/>
<rect class="ba" x="205.75" y="124.5"/>
<rect class="ba" x="209.59" y="124.5"/>
<rect class="ba" x="213.42" y="124.5"/>
<rect class="ba" x="217.26" y="124.5"/>
<rect class="ba" x="221.1" y="124.5"/>
<rect class="ba" x="224.93" y="124.5"/>
<rect class="ba" x="228.77" y="124.5"/>
<rect class="ba" x="232.61" y="124.5"/>
<rect class="ba" x="236.44" y="124.5"/>
<rect class="ba" x="240.28" y="124.5"/>
<rect class="ba" x="244.12" y="124.5"/>
<rect class="ba" x="247.95" y="124.5"/>
<rect class="ba" x="251.79" y="124.5"/>
<rect class="ba" x="255.63" y="124.5"/>
<rect class="ba" x="259.46" y="124.5"/>
<rect class="ba" x="263.3" y="124.5"/>
<rect class="ba" x="267.14" y="124.5"/>
<rect class="ba" x="270.97" y="124.5"/>
<rect class="ba" x="274.81" y="124.5"/>
<rect class="ba" x="278.65" y="124.5"/>
<rect class="ba" x="282.48" y="124.5"/>
<rect class="ba" x="286.32" y="124.5"/>
<rect class="ba" x="290.16" y="124.5"/>
<rect class="ba" x="293.99" y="124.5"/>
<rect class="ba" x="297.83" y="124.5"/>
<rect class="ba" x="301.67" y="124.5"/>
<rect class="ba" x="305.5" y="124.5"/>
<rect class="ba" x="309.34" y="124.5"/>
<rect class="ba" x="313.18" y="124.5"/>
<rect class="ba" x="317.01" y="124.5"/>
<rect class="ba" x="320.85" y="124.5"/>
<rect class="ba" x="324.69" y="124.5"/>
<rect class="ba" x="328.52" y="124.5"/>
<rect class="ba" x="332.36" y="124.5"/>
<rect class="ba" x="336.2" y="124.5"/>
<rect class="ba" x="340.03" y="124.5"/>
<rect class="ba" x="343.87" y="124.5"/>
<rect class="ba" x="347.71" y="124.5"/>
<rect class="ba" x="351.54" y="124.5"/>
<rect class="ba" x="355.38" y="124.5"/>
<rect class="ba" x="359.22" y="124.5"/>
<rect class="ba" x="363.05" y="124.5"/>
<rect class="ba" x="366.89" y="124.5"/>
<rect class="ba" x="370.73" y="124.5"/>
<rect class="ba" x="374.56" y="124.5"/>
<rect class="ba" x="378.4" y="124.5"/>
<rect class="ba" x="382.24" y="124.5"/>
<rect class="ba" x="386.07" y="124.5"/>
<rect class="ba" x="389.91" y="124.5"/>
<rect class="ba" x="393.75" y="124.5"/>
<rect class="ba" x="397.58" y="124.5"/>
<rect class="ba" x="401.42" y="124.5"/>
<rect class="ba" x="405.26" y="124.5"/>
<rect class="ba" x="409.09" y="124.5"/>
<rect class="ba" x="412.93" y="124.5"/>
<rect class="ba" x="416.77" y="124.5"/>
<rect class="ba" x="420.6" y="124.5"/>
<rect class="ba" x="424.44" y="124.5"/>
<rect class="ba" x="428.28" y="124.5"/>
<rect class="ba" x="432.11" y="124.5"/>
<rect class="ba" x="435.95" y="124.5"/>
<rect class="ba" x="439.79" y="124.5"/>
<rect class="ba" x="443.62" y="124.5"/>
<rect class="ba" x="447.46" y="124.5"/>
<rect class="ba" x="451.3" y="124.5"/>
<rect class="ba" x="455.13" y="124.5"/>
<rect class="ba" x="458.97" y="124.5"/>
<rect class="ba" x="462.81" y="124.5"/>
<rect class="ba" x="466.64" y="124.5"/>
<rect class="ba" x="470.48" y="124.5"/>
<rect class="ba" x="474.32" y="124.5"/>
<rect class="ba" x="478.15" y="124.5"/>
<rect class="ba" x="481.99" y="124.5"/>
<rect class="ba" x="485.83" y="124.5"/>
<rect class="ba" x="489.66" y="124.5"/>
<rect class="ba" x="493.5" y="124.5"/>
<rect class="ba" x="497.34" y="124.5"/>
<rect class="ba" x="501.17" y="124.5"/>
<rect class="ba" x="505.01" y="124.5"/>
<rect class="ba" x="508.85" y="124.5"/>
<rect class="ba" x="512.68" y="124.5"/>
<rect class="ba" x="516.52" y="124.5"/>
<rect class="ba" x="520.36" y="124.5"/>
<rect class="ba" x="524.19" y="124.5"/>
<rect class="ba" x="528.03" y="124.5"/>
<rect class="ba" x="531.87" y="124.5"/>
<rect class="ba" x="535.7" y="124.5"/>
<rect class="ba" x="539.54" y="124.5"/>
<rect class="ba" x="543.38" y="124.5"/>
<rect class="ba" x="547.21" y="124.5"/>
<rect class="ba" x="551.05" y="124.5"/>
<rect class="ba" x="554.89" y="124.5"/>
<rect class="ba" x="558.72" y="124.5"/>
<rect class="ba" x="562.56" y="124.5"/>
<rect class="ba" x="566.4" y="124.5"/>
<rect class="ba" x="570.23" y="124.5"/>
<rect class="ba" x="574.07" y="124.5"/>
<rect class="ba" x="577.91" y="124.5"/>
<rect class="ba" x="581.74" y="124.5"/>
<rect class="ba" x="585.58" y="124.5"/>
<rect class="ba" x="589.42" y="124.5"/>
<rect class="ba" x="593.25" y="124.5"/>
<rect class="ba" x="597.09" y="124.5"/>
<rect class="ba" x="600.93" y="124.5"/>
<rect class="ba" x="604.76" y="124.5"/>
<rect class="ba" x="608.6" y="124.5"/>
<rect class="ba" x="612.44" y="124.5"/>
<rect class="ba" x="616.27" y="124.5"/>
<rect class="ba" x="620.11" y="124.5"/>
<rect class="ba" x="623.95" y="124.5"/>
<rect class="ba" x="627.78" y="124.5"/>
<rect class="ba" x="631.62" y="124.5"/>
<rect class="ba" x="635.45" y="124.5"/>
<rect class="ba" x="639.29" y="124.5"/>
<rect class="ba" x="643.13" y="124.5"/>
<rect class="ba" x="646.96" y="124.5"/>
<rect class="ba" x="650.8" y="124.5"/>
<rect class="ba" x="654.64" y="124.5"/>
<rect class="ba" x="658.47" y="124.5"/>
<rect class="ba" x="662.31" y="124.5"/>
<rect class="ba" x="666.15" y="124.5"/>
<rect class="ba" x="669.98" y="124.5"/>
<rect class="ba" x="673.82" y="124.5"/>
<rect class="ba" x="677.66" y="124.5"/>
<rect class="ba" x="681.49" y="124.5"/>
<rect class="ba" x="685.33" y="124.5"/>
<rect class="ba" x="689.17" y="124.5"/>
<rect class="ba" x="693" y="124.5"/>
<rect class="ba" x="696.84" y="124.5"/>
<rect class="ba" x="700.68" y="124.5"/>
<rect class="ba" x="704.51" y="124.5"/>
<rect class="ba" x="708.35" y="124.5"/>
<rect class="ba" x="712.19" y="124.5"/>
<rect class="ba" x="716.02" y="124.5"/>
<rect class="ba" x="719.86" y="124.5"/>
<rect class="ba" x="723.7" y="124.5"/>
<rect class="ba" x="727.53" y="124.5"/>
<rect class="ba" x="731.37" y="124.5"/>
<rect class="ba" x="735.21" y="124.5"/>
<rect class="ba" x="739.04" y="124.5"/>
<rect class="ba" x="742.88" y="124.5"/>
<rect class="ba" x="746.72" y="124.5"/>
<rect class="ba" x="750.55" y="124.5"/>
<rect class="ba" x="754.39" y="124.5"/>
<rect class="ba" x="758.23" y="124.5"/>
<rect class="ba" x="762.06" y="124.5"/>
<rect class="ba" x="765.9" y="124.5"/>
<rect class="ba" x="769.74" y="124.5"/>
<rect class="ba" x="773.57" y="124.5"/>
<rect class="ba" x="777.41" y="124.5"/>
<rect class="ba" x="781.25" y="124.5"/>
<rect class="ba" x="785.08" y="124.5"/>
<rect class="ba" x="788.92" y="124.5"/>
<rect class="ba" x="792.76" y="124.5"/>
<rect class="ba" x="796.59" y="124.5"/>
<rect class="ba" x="800.43" y="124.5"/>
<rect class="ba" x="804.27" y="124.5"/>
<rect class="ba" x="808.1" y="124.5"/>
<rect class="ba" x="811.94" y="124.5"/>
<rect class="ba" x="815.78" y="124.5"/>
<rect class="ba" x="819.61" y="124.5"/>
<rect class="ba" x="823.45" y="124.5"/>
<rect class="ba" x="827.29" y="124.5"/>
<rect class="ba" x="831.12" y="124.5"/>
<rect class="ba" x="834.96" y="124.5"/>
<rect class="ba" x="838.8" y="124.5"/>
<rect class="ba" x="842.63" y="124.5"/>
<rect class="ba" x="846.47" y="124.5"/>
<rect class="ba" x="850.31" y="124.5"/>
<rect class="ba" x="854.14" y="124.5"/>
<rect class="ba" x="857.98" y="124.5"/>
<rect class="ba" x="861.82" y="124.5"/>
<rect class="ba" x="865.65" y="124.5"/>
<rect class="ba" x="869.49" y="124.5"/>
<rect class="ba" x="873.33" y="124.5"/>
<rect class="ba" x="877.16" y="124.5"/>
<rect class="ba" x="881" y="124.5"/>
<rect class="ba" x="884.84" y="124.5"/>
<rect class="ba" x="888.67" y="124.5"/>
<rect class="ba" x="892.51" y="124.5"/>
<rect class="ba" x="896.35" y="124.5"/>
<rect class="ba" x="900.18" y="124.5"/>
<rect class="ba" x="904.02" y="124.5"/>
<rect class="ba" x="907.86" y="124.5"/>
<rect class="ba" x="911.69" y="124.5"/>
<rect class="ba" x="915.53" y="124.5"/>
<rect class="ba" x="919.37" y="124.5"/>
<rect class="ba" x="923.2" y="124.5"/>
<rect class="ba" x="927.04" y="124.5"/>
<rect class="ba" x="930.88" y="124.5"/>
<rect class="ba" x="934.71" y="124.5"/>
<rect class="ba" x="938.55" y="124.5"/>
<rect class="ba" x="942.39" y="124.5"/>
<rect class="ba" x="946.22" y="124.5"/>
<rect class="ba" x="950.06" y="124.5"/>
<rect class="ba" x="953.9" y="124.5"/>
<rect class="ba" x="957.73" y="124.5"/>
<rect class="ba" x="961.57" y="124.5"/>
<rect class="ba" x="965.41" y="124.5"/>
<rect class="ba" x="969.24" y="124.5"/>
<rect class="ba" x="973.08" y="124.5"/>
<rect class="ba" x="976.92" y="124.5"/>
<rect class="ba" x="980.75" y="124.5"/>
<rect class="ba" x="984.59" y="124.5"/>
<rect class="ba" x="988.43" y="124.5"/>
<rect class="ba" x="992.26" y="124.5"/>
<rect class="ba" x="996.1" y="124.5"/>
<rect class="ba" x="999.94" y="124.5"/>
<rect class="ba" x="1003.77" y="124.5"/>
<rect class="ba" x="1007.61" y="124.5"/>
<rect class="ba" x="1011.45" y="124.5"/>
<rect class="ba" x="1015.28" y="124.5"/>
<rect class="ba" x="1019.12" y="124.5"/>
<rect class="ba" x="1022.96" y="124.5"/>
<rect class="ba" x="1026.79" y="124.5"/>
<rect class="ba" x="1030.63" y="124.5"/>
<rect class="ba" x="1034.47" y="124.5"/>
<rect class="ba" x="1038.3" y="124.5"/>
<rect class="ba" x="1042.14" y="124.5"/>
<rect class="ba" x="1045.98" y="124.5"/>
<rect class="ba" x="1049.81" y="124.5"/>
<rect class="ba" x="1053.65" y="124.5"/>
<rect class="ba" x="1057.49" y="124.5"/>
<rect class="ba" x="1061.32" y="124.5"/>
<rect class="ba" x="1065.16" y="124.5"/>
<rect class="ba" x="1069" y="124.5"/>
<rect class="ba" x="1072.83" y="124.5"/>
<rect class="ba" x="1076.67" y="124.5"/>
<rect class="ba" x="1080.51" y="124.5"/>
<rect class="ba" x="1084.34" y="124.5"/>
<rect class="ba" x="1088.18" y="124.5"/>
<rect class="ba" x="1092.02" y="124.5"/>
<rect class="ba" x="1095.85" y="124.5"/>
<rect class="ba" x="1099.69" y="124.5"/>
<rect class="ba" x="1103.53" y="124.5"/>
<rect class="ba" x="1107.36" y="124.5"/>
<rect class="ba" x="148.2" y="157"/>
<rect class="ba" x="152.04" y="157"/>
<rect class="ba" x="155.87" y="157"/>
<rect class="ba" x="159.71" y="157"/>
<rect class="ba" x="163.55" y="157"/>
<rect class="ba" x="167.38" y="157"/>
<rect class="ba" x="171.22" y="157"/>
<rect class="ba" x="175.06" y="157"/>
<rect class="ba" x="178.89" y="157"/>
<rect class="ba" x="182.73" y="157"/>
<rect class="ba" x="186.57" y="157"/>
<rect class="ba" x="190.4" y="157"/>
<rect class="ba" x="194.24" y="157"/>
<rect class="ba" x="198.08" y="157"/>
<rect class="ba" x="201.91" y="157"/>
<rect class="ba" x="205.75" y="157"/>
<rect class="ba" x="209.59" y="157"/>
<rect class="ba" x="213.42" y="157"/>
<rect class="ba" x="217.26" y="157"/>
<rect class="ba" x="221.1" y="157"/>
<rect class="ba" x="224.93" y="157"/>
<rect class="ba" x="228.77" y="157"/>
<rect class="ba" x="232.61" y="157"/>
<rect class="ba" x="236.44" y="157"/>
<rect class="ba" x="240.28" y="157"/>
<rect class="ba" x="244.12" y="157"/>
<rect class="ba" x="247.95" y="157"/>
<rect class="ba" x="251.79" y="157"/>
<rect class="ba" x="255.63" y="157"/>
<rect class="ba" x="259.46" y="157"/>
<rect class="ba" x="263.3" y="157"/>
<rect class="ba" x="267.14" y="157"/>
<rect class="ba" x="270.97" y="157"/>
<rect class="ba" x="274.81" y="157"/>
<rect class="ba" x="278.65" y="157"/>
<rect class="ba" x="282.48" y="157"/>
<rect class="ba" x="286.32" y="157"/>
<rect class="ba" x="290.16" y="157"/>
<rect class="ba" x="293.99" y="157"/>
<rect class="ba" x="297.83" y="157"/>
<rect class="ba" x="301.67" y="157"/>
<rect class="ba" x="305.5" y="157"/>
<rect class="ba" x="309.34" y="157"/>
<rect class="ba" x="313.18" y="157"/>
<rect class="ba" x="317.01" y="157"/>
<rect class="ba" x="320.85" y="157"/>
<rect class="ba" x="324.69" y="157"/>
<rect class="ba" x="328.52" y="157"/>
<rect class="ba" x="332.36" y="157"/>
<rect class="ba" x="336.2" y="157"/>
<rect class="ba" x="340.03" y="157"/>
<rect class="ba" x="343.87" y="157"/>
<rect class="ba" x="347.71" y="157"/>
<rect class="ba" x="351.54" y="157"/>
<rect class="ba" x="355.38" y="157"/>
<rect class="ba" x="359.22" y="157"/>
<rect class="ba" x="363.05" y="157"/>
<rect class="ba" x="366.89" y="157"/>
<rect class="ba" x="370.73" y="157"/>
<rect class="ba" x="374.56" y="157"/>
<rect class="ba" x="378.4" y="157"/>
<rect class="ba" x="382.24" y="157"/>
<rect class="ba" x="386.07" y="157"/>
<rect class="ba" x="389.91" y="157"/>
<rect class="ba" x="393.75" y="157"/>
<rect class="ba" x="397.58" y="157"/>
<rect class="ba" x="401.42" y="157"/>
<rect class="ba" x="405.26" y="157"/>
<rect class="ba" x="409.09" y="157"/>
<rect class="ba" x="412.93" y="157"/>
<rect class="ba" x="416.77" y="157"/>
<rect class="ba" x="420.6" y="157"/>
<rect class="ba" x="424.44" y="157"/>
<rect class="ba" x="428.28" y="157"/>
<rect class="ba" x="432.11" y="157"/>
<rect class="ba" x="435.95" y="157"/>
<rect class="ba" x="439.79" y="157"/>
<rect class="ba" x="443.62" y="157"/>
<rect class="ba" x="447.46" y="157"/>
<rect class="ba" x="451.3" y="157"/>
<rect class="ba" x="455.13" y="157"/>
<rect class="ba" x="458.97" y="157"/>
<rect class="ba" x="462.81" y="157"/>
<rect class="ba" x="466.64" y="157"/>
<rect class="ba" x="470.48" y="157"/>
<rect class="ba" x="474.32" y="157"/>
<rect class="ba" x="478.15" y="157"/>
<rect class="ba" x="481.99" y="157"/>
<rect class="ba" x="485.83" y="157"/>
<rect class="ba" x="489.66" y="157"/>
<rect class="ba" x="493.5" y="157"/>
<rect class="ba" x="497.34" y="157"/>
<rect class="ba" x="501.17" y="157"/>
<rect class="ba" x="505.01" y="157"/>
<rect class="ba" x="508.85" y="157"/>
<rect class="ba" x="512.68" y="157"/>
<rect class="ba" x="516.52" y="157"/>
<rect class="ba" x="520.36" y="157"/>
<rect class="ba" x="524.19" y="157"/>
<rect class="ba" x="528.03" y="157"/>
<rect class="ba" x="531.87" y="157"/>
<rect class="ba" x="535.7" y="157"/>
<rect class="ba" x="539.54" y="157"/>
<rect class="ba" x="543.38" y="157"/>
<rect class="ba" x="547.21" y="157"/>
<rect class="ba" x="551.05" y="157"/>
<rect class="ba" x="554.89" y="157"/>
<rect class="ba" x="558.72" y="157"/>
<rect class="ba" x="562.56" y="157"/>
<rect class="ba" x="566.4" y="157"/>
<rect class="ba" x="570.23" y="157"/>
<rect class="ba" x="574.07" y="157"/>
<rect class="ba" x="577.91" y="157"/>
<rect class="ba" x="581.74" y="157"/>
<rect class="ba" x="585.58" y="157"/>
<rect class="ba" x="589.42" y="157"/>
<rect class="ba" x="593.25" y="157"/>
<rect class="ba" x="597.09" y="157"/>
<rect class="ba" x="600.93" y="157"/>
<rect class="ba" x="604.76" y="157"/>
<rect class="ba" x="608.6" y="157"/>
<rect class="ba" x="612.44" y="157"/>
<rect class="ba" x="616.27" y="157"/>
<rect class="ba" x="620.11" y="157"/>
<rect class="ba" x="623.95" y="157"/>
<rect class="ba" x="627.78" y="157"/>
<rect class="ba" x="631.62" y="157"/>
<rect class="ba" x="635.45" y="157"/>
<rect class="ba" x="639.29" y="157"/>
<rect class="ba" x="643.13" y="157"/>
<rect class="ba" x="646.96" y="157"/>
<rect class="ba" x="650.8" y="157"/>
<rect class="ba" x="654.64" y="157"/>
<rect class="ba" x="658.47" y="157"/>
<rect class="ba" x="662.31" y="157"/>
<rect class="ba" x="666.15" y="157"/>
<rect class="ba" x="669.98" y="157"/>
<rect class="ba" x="673.82" y="157"/>
<rect class="ba" x="677.66" y="157"/>
<rect class="ba" x="681.49" y="157"/>
<rect class="ba" x="685.33" y="157"/>
<rect class="ba" x="689.17" y="157"/>
<rect class="ba" x="693" y="157"/>
<rect class="ba" x="696.84" y="157"/>
<rect class="ba" x="700.68" y="157"/>
<rect class="ba" x="704.51" y="157"/>
<rect class="ba" x="708.35" y="157"/>
<rect class="ba" x="712.19" y="157"/>
<rect class="ba" x="716.02" y="157"/>
<rect class="ba" x="719.86" y="157"/>
<rect class="ba" x="723.7" y="157"/>
<rect class="ba" x="727.53" y="157"/>
<rect class="ba" x="731.37" y="157"/>
<rect class="ba" x="735.21" y="157"/>
<rect class="ba" x="739.04" y="157"/>
<rect class="ba" x="742.88" y="157"/>
<rect class="ba" x="746.72" y="157"/>
<rect class="ba" x="750.55" y="157"/>
<rect class="ba" x="754.39" y="157"/>
<rect class="ba" x="758.23" y="157"/>
<rect class="ba" x="762.06" y="157"/>
<rect class="ba" x="765.9" y="157"/>
<rect class="ba" x="769.74" y="157"/>
<rect class="ba" x="773.57" y="157"/>
<rect class="ba" x="777.41" y="157"/>
<rect class="ba" x="781.25" y="157"/>
<rect class="ba" x="785.08" y="157"/>
<rect class="ba" x="788.92" y="157"/>
<rect class="ba" x="792.76" y="157"/>
<rect class="ba" x="796.59" y="157"/>
<rect class="ba" x="800.43" y="157"/>
<rect class="ba" x="804.27" y="157"/>
<rect class="ba" x="808.1" y="157"/>
<rect class="ba" x="811.94" y="157"/>
<rect class="ba" x="815.78" y="157"/>
<rect class="ba" x="819.61" y="157"/>
<rect class="ba" x="823.45" y="157"/>
<rect class="ba" x="827.29" y="157"/>
<rect class="ba" x="831.12" y="157"/>
<rect class="ba" x="834.96" y="157"/>
<rect class="ba" x="838.8" y="157"/>
<rect class="ba" x="842.63" y="157"/>
<rect class="ba" x="846.47" y="157"/>
<rect class="ba" x="850.31" y="157"/>
<rect class="ba" x="854.14" y="157"/>
<rect class="ba" x="857.98" y="157"/>
<rect class="ba" x="861.82" y="157"/>
<rect class="ba" x="865.65" y="157"/>
<rect class="ba" x="869.49" y="157"/>
<rect class="ba" x="873.33" y="157"/>
<rect class="ba" x="877.16" y="157"/>
<rect class="ba" x="881" y="157"/>
<rect class="ba" x="884.84" y="157"/>
<rect class="ba" x="888.67" y="157"/>
<rect class="ba" x="892.51" y="157"/>
<rect class="ba" x="896.35" y="157"/>
<rect class="ba" x="900.18" y="157"/>
<rect class="ba" x="904.02" y="157"/>
<rect class="ba" x="907.86" y="157"/>
<rect class="ba" x="911.69" y="157"/>
<rect class="ba" x="915.53" y="157"/>
<rect class="ba" x="919.37" y="157"/>
<rect class="ba" x="923.2" y="157"/>
<rect class="ba" x="927.04" y="157"/>
<rect class="ba" x="930.88" y="157"/>
<rect class="ba" x="934.71" y="157"/>
<rect class="ba" x="938.55" y="157"/>
<rect class="ba" x="942.39" y="157"/>
<rect class="ba" x="946.22" y="157"/>
<rect class="ba" x="950.06" y="157"/>
<rect class="ba" x="953.9" y="157"/>
<rect class="ba" x="957.73" y="157"/>
<rect class="ba" x="961.57" y="157"/>
<rect class="ba" x="965.41" y="157"/>
<rect class="ba" x="969.24" y="157"/>
<rect class="ba" x="973.08" y="157"/>
<rect class="ba" x="976.92" y="157"/>
<rect class="ba" x="980.75" y="157"/>
<rect class="ba" x="984.59" y="157"/>
<rect class="ba" x="988.43" y="157"/>
<rect class="ba" x="992.26" y="157"/>
<rect class="ba" x="996.1" y="157"/>
<rect class="ba" x="999.94" y="157"/>
<rect class="ba" x="1003.77" y="157"/>
<rect class="ba" x="1007.61" y="157"/>
<rect class="ba" x="1011.45" y="157"/>
<rect class="ba" x="1015.28" y="157"/>
<rect class="ba" x="1019.12" y="157"/>
<rect class="ba" x="1022.96" y="157"/>
<rect class="ba" x="1026.79" y="157"/>
<rect class="ba" x="1030.63" y="157"/>
<rect class="ba" x="1034.47" y="157"/>
<rect class="ba" x="1038.3" y="157"/>
<rect class="ba" x="1042.14" y="157"/>
<rect class="ba" x="1045.98" y="157"/>
<rect class="ba" x="1049.81" y="157"/>
<rect class="ba" x="1053.65" y="157"/>
<rect class="ba" x="1057.49" y="157"/>
<rect class="ba" x="1061.32" y="157"/>
<rect class="ba" x="1065.16" y="157"/>
<rect class="ba" x="1069" y="157"/>
<rect class="ba" x="1072.83" y="157"/>
<rect class="ba" x="1076.67" y="157"/>
<rect class="ba" x="1080.51" y="157"/>
<rect class="ba" x="1084.34" y="157"/>
<rect class="ba" x="1088.18" y="157"/>
<rect class="ba" x="1092.02" y="157"/>
<rect class="ba" x="1095.85" y="157"/>
<rect class="ba" x="1099.69" y="157"/>
<rect class="ba" x="1103.53" y="157"/>
<rect class="ba" x="1107.36" y="157"/>
<rect class="ba" x="148.2" y="189.5"/>
<rect class="ba" x="152.04" y="189.5"/>
<rect class="ba" x="155.87" y="189.5"/>
<rect class="ba" x="159.71" y="189.5"/>
<rect class="ba" x="163.55" y="189.5"/>
<rect class="ba" x="167.38" y="189.5"/>
<rect class="ba" x="171.22" y="189.5"/>
<rect class="ba" x="175.06" y="189.5"/>
<rect class="ba" x="178.89" y="189.5"/>
<rect class="ba" x="182.73" y="189.5"/>
<rect class="ba" x="186.57" y="189.5"/>
<rect class="ba" x="190.4" y="189.5"/>
<rect class="ba" x="194.24" y="189.5"/>
<rect class="ba" x="198.08" y="189.5"/>
<rect class="ba" x="201.91" y="189.5"/>
<rect class="ba" x="205.75" y="189.5"/>
<rect class="ba" x="209.59" y="189.5"/>
<rect class="ba" x="213.42" y="189.5"/>
<rect class="ba" x="217.26" y="189.5"/>
<rect class="ba" x="221.1" y="189.5"/>
<rect class="ba" x="224.93" y="189.5"/>
<rect class="ba" x="228.77" y="189.5"/>
<rect class="ba" x="232.61" y="189.5"/>
<rect class="ba" x="236.44" y="189.5"/>
<rect class="ba" x="240.28" y="189.5"/>
<rect class="ba" x="244.12" y="189.5"/>
<rect class="ba" x="247.95" y="189.5"/>
<rect class="ba" x="251.79" y="189.5"/>
<rect class="ba" x="255.63" y="189.5"/>
<rect class="ba" x="259.46" y="189.5"/>
<rect class="ba" x="263.3" y="189.5"/>
<rect class="ba" x="267.14" y="189.5"/>
<rect class="ba" x="270.97" y="189.5"/>
<rect class="ba" x="274.81" y="189.5"/>
<rect class="ba" x="278.65" y="189.5"/>
<rect class="ba" x="282.48" y="189.5"/>
<rect class="ba" x="286.32" y="189.5"/>
<rect class="ba" x="290.16" y="189.5"/>
<rect class="ba" x="293.99" y="189.5"/>
<rect class="ba" x="297.83" y="189.5"/>
<rect class="ba" x="301.67" y="189.5"/>
<rect class="ba" x="305.5" y="189.5"/>
<rect class="ba" x="309.34" y="189.5"/>
<rect class="ba" x="313.18" y="189.5"/>
<rect class="ba" x="317.01" y="189.5"/>
<rect class="ba" x="320.85" y="189.5"/>
<rect class="ba" x="324.69" y="189.5"/>
<rect class="ba" x="328.52" y="189.5"/>
<rect class="ba" x="332.36" y="189.5"/>
<rect class="ba" x="336.2" y="189.5"/>
<rect class="ba" x="340.03" y="189.5"/>
<rect class="ba" x="343.87" y="189.5"/>
<rect class="ba" x="347.71" y="189.5"/>
<rect class="ba" x="351.54" y="189.5"/>
<rect class="ba" x="355.38" y="189.5"/>
<rect class="ba" x="359.22" y="189.5"/>
<rect class="ba" x="363.05" y="189.5"/>
<rect class="ba" x="366.89" y="189.5"/>
<rect class="ba" x="370.73" y="189.5"/>
<rect class="ba" x="374.56" y="189.5"/>
<rect class="ba" x="378.4" y="189.5"/>
<rect class="ba" x="382.24" y="189.5"/>
<rect class="ba" x="386.07" y="189.5"/>
<rect class="ba" x="389.91" y="189.5"/>
<rect class="ba" x="393.75" y="189.5"/>
<rect class="ba" x="397.58" y="189.5"/>
<rect class="ba" x="401.42" y="189.5"/>
<rect class="ba" x="405.26" y="189.5"/>
<rect class="ba" x="409.09" y="189.5"/>
<rect class="ba" x="412.93" y="189.5"/>
<rect class="ba" x="416.77" y="189.5"/>
<rect class="ba" x="420.6" y="189.5"/>
<rect class="ba" x="424.44" y="189.5"/>
<rect class="ba" x="428.28" y="189.5"/>
<rect class="ba" x="432.11" y="189.5"/>
<rect class="ba" x="435.95" y="189.5"/>
<rect class="ba" x="439.79" y="189.5"/>
<rect class="ba" x="443.62" y="189.5"/>
<rect class="ba" x="447.46" y="189.5"/>
<rect class="ba" x="451.3" y="189.5"/>
<rect class="ba" x="455.13" y="189.5"/>
<rect class="ba" x="458.97" y="189.5"/>
<rect class="ba" x="462.81" y="189.5"/>
<rect class="ba" x="466.64" y="189.5"/>
<rect class="ba" x="470.48" y="189.5"/>
<rect class="ba" x="474.32" y="189.5"/>
<rect class="ba" x="478.15" y="189.5"/>
<rect class="ba" x="481.99" y="189.5"/>
<rect class="ba" x="485.83" y="189.5"/>
<rect class="ba" x="489.66" y="189.5"/>
<rect class="ba" x="493.5" y="189.5"/>
<rect class="ba" x="497.34" y="189.5"/>
<rect class="ba" x="501.17" y="189.5"/>
<rect class="ba" x="505.01" y="189.5"/>
<rect class="ba" x="508.85" y="189.5"/>
<rect class="ba" x="512.68" y="189.5"/>
<rect class="ba" x="516.52" y="189.5"/>
<rect class="ba" x="520.36" y="189.5"/>
<rect class="ba" x="524.19" y="189.5"/>
<rect class="ba" x="528.03" y="189.5"/>
<rect class="ba" x="531.87" y="189.5"/>
<rect class="ba" x="535.7" y="189.5"/>
<rect class="ba" x="539.54" y="189.5"/>
<rect class="ba" x="543.38" y="189.5"/>
<rect class="ba" x="547.21" y="189.5"/>
<rect class="ba" x="551.05" y="189.5"/>
<rect class="ba" x="554.89" y="189.5"/>
<rect class="ba" x="558.72" y="189.5"/>
<rect class="ba" x="562.56" y="189.5"/>
<rect class="ba" x="566.4" y="189.5"/>
<rect class="ba" x="570.23" y="189.5"/>
<rect class="ba" x="574.07" y="189.5"/>
<rect class="ba" x="577.91" y="189.5"/>
<rect class="ba" x="581.74" y="189.5"/>
<rect class="ba" x="585.58" y="189.5"/>
<rect class="ba" x="589.42" y="189.5"/>
<rect class="ba" x="593.25" y="189.5"/>
<rect class="ba" x="597.09" y="189.5"/>
<rect class="ba" x="600.93" y="189.5"/>
<rect class="ba" x="604.76" y="189.5"/>
<rect class="ba" x="608.6" y="189.5"/>
<rect class="ba" x="612.44" y="189.5"/>
<rect class="ba" x="616.27" y="189.5"/>
<rect class="ba" x="620.11" y="189.5"/>
<rect class="ba" x="623.95" y="189.5"/>
<rect class="ba" x="627.78" y="189.5"/>
<rect class="ba" x="631.62" y="189.5"/>
<rect class="ba" x="635.45" y="189.5"/>
<rect class="ba" x="639.29" y="189.5"/>
<rect class="ba" x="643.13" y="189.5"/>
<rect class="ba" x="646.96" y="189.5"/>
<rect class="ba" x="650.8" y="189.5"/>
<rect class="ba" x="654.64" y="189.5"/>
<rect class="ba" x="658.47" y="189.5"/>
<rect class="ba" x="662.31" y="189.5"/>
<rect class="ba" x="666.15" y="189.5"/>
<rect class="ba" x="669.98" y="189.5"/>
<rect class="ba" x="673.82" y="189.5"/>
<rect class="ba" x="677.66" y="189.5"/>
<rect class="ba" x="681.49" y="189.5"/>
<rect class="ba" x="685.33" y="189.5"/>
<rect class="ba" x="689.17" y="189.5"/>
<rect class="ba" x="693" y="189.5"/>
<rect class="ba" x="696.84" y="189.5"/>
<rect class="ba" x="700.68" y="189.5"/>
<rect class="ba" x="704.51" y="189.5"/>
<rect class="ba" x="708.35" y="189.5"/>
<rect class="ba" x="712.19" y="189.5"/>
<rect class="ba" x="716.02" y="189.5"/>
<rect class="ba" x="719.86" y="189.5"/>
<rect class="ba" x="723.7" y="189.5"/>
<rect class="ba" x="727.53" y="189.5"/>
<rect class="ba" x="731.37" y="189.5"/>
<rect class="ba" x="735.21" y="189.5"/>
<rect class="ba" x="739.04" y="189.5"/>
<rect class="ba" x="742.88" y="189.5"/>
<rect class="ba" x="746.72" y="189.5"/>
<rect class="ba" x="750.55" y="189.5"/>
<rect class="ba" x="754.39" y="189.5"/>
<rect class="ba" x="758.23" y="189.5"/>
<rect class="ba" x="762.06" y="189.5"/>
<rect class="ba" x="765.9" y="189.5"/>
<rect class="ba" x="769.74" y="189.5"/>
<rect class="ba" x="773.57" y="189.5"/>
<rect class="ba" x="777.41" y="189.5"/>
<rect class="ba" x="781.25" y="189.5"/>
<rect class="ba" x="785.08" y="189.5"/>
<rect class="ba" x="788.92" y="189.5"/>
<rect class="ba" x="792.76" y="189.5"/>
<rect class="ba" x="796.59" y="189.5"/>
<rect class="ba" x="800.43" y="189.5"/>
<rect class="ba" x="804.27" y="189.5"/>
<rect class="ba" x="808.1" y="189.5"/>
<rect class="ba" x="811.94" y="189.5"/>
<rect class="ba" x="815.78" y="189.5"/>
<rect class="ba" x="819.61" y="189.5"/>
<rect class="ba" x="823.45" y="189.5"/>
<rect class="ba" x="827.29" y="189.5"/>
<rect class="ba" x="831.12" y="189.5"/>
<rect class="ba" x="834.96" y="189.5"/>
<rect class="ba" x="838.8" y="189.5"/>
<rect class="ba" x="842.63" y="189.5"/>
<rect class="ba" x="846.47" y="189.5"/>
<rect class="ba" x="850.31" y="189.5"/>
<rect class="ba" x="854.14" y="189.5"/>
<rect class="ba" x="857.98" y="189.5"/>
<rect class="ba" x="861.82" y="189.5"/>
<rect class="ba" x="865.65" y="189.5"/>
<rect class="ba" x="869.49" y="189.5"/>
<rect class="ba" x="873.33" y="189.5"/>
<rect class="ba" x="877.16" y="189.5"/>
<rect class="ba" x="881" y="189.5"/>
<rect class="ba" x="884.84" y="189.5"/>
<rect class="ba" x="888.67" y="189.5"/>
<rect class="ba" x="892.51" y="189.5"/>
<rect class="ba" x="896.35" y="189.5"/>
<rect class="ba" x="900.18" y="189.5"/>
<rect class="ba" x="904.02" y="189.5"/>
<rect class="ba" x="907.86" y="189.5"/>
<rect class="ba" x="911.69" y="189.5"/>
<rect class="ba" x="915.53" y="189.5"/>
<rect class="ba" x="919.37" y="189.5"/>
<rect class="ba" x="923.2" y="189.5"/>
<rect class="ba" x="927.04" y="189.5"/>
<rect class="ba" x="930.88" y="189.5"/>
<rect class="ba" x="934.71" y="189.5"/>
<rect class="ba" x="938.55" y="189.5"/>
<rect class="ba" x="942.39" y="189.5"/>
<rect class="ba" x="946.22" y="189.5"/>
<rect class="ba" x="950.06" y="189.5"/>
<rect class="ba" x="953.9" y="189.5"/>
<rect class="ba" x="957.73" y="189.5"/>
<rect class="ba" x="961.57" y="189.5"/>
<rect class="ba" x="965.41" y="189.5"/>
<rect class="ba" x="969.24" y="189.5"/>
<rect class="ba" x="973.08" y="189.5"/>
<rect class="ba" x="976.92" y="189.5"/>
<rect class="ba" x="980.75" y="189.5"/>
<rect class="ba" x="984.59" y="189.5"/>
<rect class="ba" x="988.43" y="189.5"/>
<rect class="ba" x="992.26" y="189.5"/>
<rect class="ba" x="996.1" y="189.5"/>
<rect class="ba" x="999.94" y="189.5"/>
<rect class="ba" x="1003.77" y="189.5"/>
<rect class="ba" x="1007.61" y="189.5"/>
<rect class="ba" x="1011.45" y="189.5"/>
<rect class="ba" x="1015.28" y="189.5"/>
<rect class="ba" x="1019.12" y="189.5"/>
<rect class="ba" x="1022.96" y="189.5"/>
<rect class="ba" x="1026.79" y="189.5"/>
<rect class="ba" x="1030.63" y="189.5"/>
<rect class="ba" x="1034.47" y="189.5"/>
<rect class="ba" x="1038.3" y="189.5"/>
<rect class="ba" x="1042.14" y="189.5"/>
<rect class="ba" x="1045.98" y="189.5"/>
<rect class="ba" x="1049.81" y="189.5"/>
<rect class="ba" x="1053.65" y="189.5"/>
<rect class="ba" x="1057.49" y="189.5"/>
<rect class="ba" x="1061.32" y="189.5"/>
<rect class="ba" x="1065.16" y="189.5"/>
<rect class="ba" x="1069" y="189.5"/>
<rect class="ba" x="1072.83" y="189.5"/>
<rect class="ba" x="1076.67" y="189.5"/>
<rect class="ba" x="1080.51" y="189.5"/>
<rect class="ba" x="1084.34" y="189.5"/>
<rect class="ba" x="1088.18" y="189.5"/>
<rect class="ba" x="1092.02" y="189.5"/>
<rect class="ba" x="1095.85" y="189.5"/>
<rect class="ba" x="1099.69" y="189.5"/>
<rect class="ba" x="1103.53" y="189.5"/>
<rect class="ba" x="1107.36" y="189.5"/>
<rect class="ba" x="148.2" y="222"/>
<rect class="ba" x="152.04" y="222"/>
<rect class="ba" x="155.87" y="222"/>
<rect class="ba" x="159.71" y="222"/>
<rect class="ba" x="163.55" y="222"/>
<rect class="ba" x="167.38" y="222"/>
<rect class="ba" x="171.22" y="222"/>
<rect class="ba" x="175.06" y="222"/>
<rect class="ba" x="178.89" y="222"/>
<rect class="ba" x="182.73" y="222"/>
<rect class="ba" x="186.57" y="222"/>
<rect class="ba" x="190.4" y="222"/>
<rect class="ba" x="194.24" y="222"/>
<rect class="ba" x="198.08" y="222"/>
<rect class="ba" x="201.91" y="222"/>
<rect class="ba" x="205.75" y="222"/>
<rect class="ba" x="209.59" y="222"/>
<rect class="ba" x="213.42" y="222"/>
<rect class="ba" x="217.26" y="222"/>
<rect class="ba" x="221.1" y="222"/>
<rect class="ba" x="224.93" y="222"/>
<rect class="ba" x="228.77" y="222"/>
<rect class="ba" x="232.61" y="222"/>
<rect class="ba" x="236.44" y="222"/>
<rect class="ba" x="240.28" y="222"/>
<rect class="ba" x="244.12" y="222"/>
<rect class="ba" x="247.95" y="222"/>
<rect class="ba" x="251.79" y="222"/>
<rect class="ba" x="255.63" y="222"/>
<rect class="ba" x="259.46" y="222"/>
<rect class="ba" x="263.3" y="222"/>
<rect class="ba" x="267.14" y="222"/>
<rect class="ba" x="270.97" y="222"/>
<rect class="ba" x="274.81" y="222"/>
<rect class="ba" x="278.65" y="222"/>
<rect class="ba" x="282.48" y="222"/>
<rect class="ba" x="286.32" y="222"/>
<rect class="ba" x="290.16" y="222"/>
<rect class="ba" x="293.99" y="222"/>
<rect class="ba" x="297.83" y="222"/>
<rect class="ba" x="301.67" y="222"/>
<rect class="ba" x="305.5" y="222"/>
<rect class="ba" x="309.34" y="222"/>
<rect class="ba" x="313.18" y="222"/>
<rect class="ba" x="317.01" y="222"/>
<rect class="ba" x="320.85" y="222"/>
<rect class="ba" x="324.69" y="222"/>
<rect class="ba" x="328.52" y="222"/>
<rect class="ba" x="332.36" y="222"/>
<rect class="ba" x="336.2" y="222"/>
<rect class="ba" x="340.03" y="222"/>
<rect class="ba" x="343.87" y="222"/>
<rect class="ba" x="347.71" y="222"/>
<rect class="ba" x="351.54" y="222"/>
<rect class="ba" x="355.38" y="222"/>
<rect class="ba" x="359.22" y="222"/>
<rect class="ba" x="363.05" y="222"/>
<rect class="ba" x="366.89" y="222"/>
<rect class="ba" x="370.73" y="222"/>
<rect class="ba" x="374.56" y="222"/>
<rect class="ba" x="378.4" y="222"/>
<rect class="ba" x="382.24" y="222"/>
<rect class="ba" x="386.07" y="222"/>
<rect class="ba" x="389.91" y="222"/>
<rect class="ba" x="393.75" y="222"/>
<rect class="ba" x="397.58" y="222"/>
<rect class="ba" x="401.42" y="222"/>
<rect class="ba" x="405.26" y="222"/>
<rect class="ba" x="409.09" y="222"/>
<rect class="ba" x="412.93" y="222"/>
<rect class="ba" x="416.77" y="222"/>
<rect class="ba" x="420.6" y="222"/>
<rect class="ba" x="424.44" y="222"/>
<rect class="ba" x="428.28" y="222"/>
<rect class="ba" x="432.11" y="222"/>
<rect class="ba" x="435.95" y="222"/>
<rect class="ba" x="439.79" y="222"/>
<rect class="ba" x="443.62" y="222"/>
<rect class="ba" x="447.46" y="222"/>
<rect class="ba" x="451.3" y="222"/>
<rect class="ba" x="455.13" y="222"/>
<rect class="ba" x="458.97" y="222"/>
<rect class="ba" x="462.81" y="222"/>
<rect class="ba" x="466.64" y="222"/>
<rect class="ba" x="470.48" y="222"/>
<rect class="ba" x="474.32" y="222"/>
<rect class="ba" x="478.15" y="222"/>
<rect class="ba" x="481.99" y="222"/>
<rect class="ba" x="485.83" y="222"/>
<rect class="ba" x="489.66" y="222"/>
<rect class="ba" x="493.5" y="222"/>
<rect class="ba" x="497.34" y="222"/>
<rect class="ba" x="501.17" y="222"/>
<rect class="ba" x="505.01" y="222"/>
<rect class="ba" x="508.85" y="222"/>
<rect class="ba" x="512.68" y="222"/>
<rect class="ba" x="516.52" y="222"/>
<rect class="ba" x="520.36" y="222"/>
<rect class="ba" x="524.19" y="222"/>
<rect class="ba" x="528.03" y="222"/>
<rect class="ba" x="531.87" y="222"/>
<rect class="ba" x="535.7" y="222"/>
<rect class="ba" x="539.54" y="222"/>
<rect class="ba" x="543.38" y="222"/>
<rect class="ba" x="547.21" y="222"/>
<rect class="ba" x="551.05" y="222"/>
<rect class="ba" x="554.89" y="222"/>
<rect class="ba" x="558.72" y="222"/>
<rect class="ba" x="562.56" y="222"/>
<rect class="ba" x="566.4" y="222"/>
<rect class="ba" x="570.23" y="222"/>
<rect class="ba" x="574.07" y="222"/>
<rect class="ba" x="577.91" y="222"/>
<rect class="ba" x="581.74" y="222"/>
<rect class="ba" x="585.58" y="222"/>
<rect class="ba" x="589.42" y="222"/>
<rect class="ba" x="593.25" y="222"/>
<rect class="ba" x="597.09" y="222"/>
<rect class="ba" x="600.93" y="222"/>
<rect class="ba" x="604.76" y="222"/>
<rect class="ba" x="608.6" y="222"/>
<rect class="ba" x="612.44" y="222"/>
<rect class="ba" x="616.27" y="222"/>
<rect class="ba" x="620.11" y="222"/>
<rect class="ba" x="623.95" y="222"/>
<rect class="ba" x="627.78" y="222"/>
<rect class="ba" x="631.62" y="222"/>
<rect class="ba" x="635.45" y="222"/>
<rect class="ba" x="639.29" y="222"/>
<rect class="ba" x="643.13" y="222"/>
<rect class="ba" x="646.96" y="222"/>
<rect class="ba" x="650.8" y="222"/>
<rect class="ba" x="654.64" y="222"/>
<rect class="ba" x="658.47" y="222"/>
<rect class="ba" x="662.31" y="222"/>
<rect class="ba" x="666.15" y="222"/>
<rect class="ba" x="669.98" y="222"/>
<rect class="ba" x="673.82" y="222"/>
<rect class="ba" x="677.66" y="222"/>
<rect class="ba" x="681.49" y="222"/>
<rect class="ba" x="685.33" y="222"/>
<rect class="ba" x="689.17" y="222"/>
<rect class="ba" x="693" y="222"/>
<rect class="ba" x="696.84" y="222"/>
<rect class="ba" x="700.68" y="222"/>
<rect class="ba" x="704.51" y="222"/>
<rect class="ba" x="708.35" y="222"/>
<rect class="ba" x="712.19" y="222"/>
<rect class="ba" x="716.02" y="222"/>
<rect class="ba" x="719.86" y="222"/>
<rect class="ba" x="723.7" y="222"/>
<rect class="ba" x="727.53" y="222"/>
<rect class="ba" x="731.37" y="222"/>
<rect class="ba" x="735.21" y="222"/>
<rect class="ba" x="739.04" y="222"/>
<rect class="ba" x="742.88" y="222"/>
<rect class="ba" x="746.72" y="222"/>
<rect class="ba" x="750.55" y="222"/>
<rect class="ba" x="754.39" y="222"/>
<rect class="ba" x="758.23" y="222"/>
<rect class="ba" x="762.06" y="222"/>
<rect class="ba" x="765.9" y="222"/>
<rect class="ba" x="769.74" y="222"/>
<rect class="ba" x="773.57" y="222"/>
<rect class="ba" x="777.41" y="222"/>
<rect class="ba" x="781.25" y="222"/>
<rect class="ba" x="785.08" y="222"/>
<rect class="ba" x="788.92" y="222"/>
<rect class="ba" x="792.76" y="222"/>
<rect class="ba" x="796.59" y="222"/>
<rect class="ba" x="800.43" y="222"/>
<rect class="ba" x="804.27" y="222"/>
<rect class="ba" x="808.1" y="222"/>
<rect class="ba" x="811.94" y="222"/>
<rect class="ba" x="815.78" y="222"/>
<rect class="ba" x="819.61" y="222"/>
<rect class="ba" x="823.45" y="222"/>
<rect class="ba" x="827.29" y="222"/>
<rect class="ba" x="831.12" y="222"/>
<rect class="ba" x="834.96" y="222"/>
<rect class="ba" x="838.8" y="222"/>
<rect class="ba" x="842.63" y="222"/>
<rect class="ba" x="846.47" y="222"/>
<rect class="ba" x="850.31" y="222"/>
<rect class="ba" x="854.14" y="222"/>
<rect class="ba" x="857.98" y="222"/>
<rect class="ba" x="861.82" y="222"/>
<rect class="ba" x="865.65" y="222"/>
<rect class="ba" x="869.49" y="222"/>
<rect class="ba" x="873.33" y="222"/>
<rect class="ba" x="877.16" y="222"/>
<rect class="ba" x="881" y="222"/>
<rect class="ba" x="884.84" y="222"/>
<rect class="ba" x="888.67" y="222"/>
<rect class="ba" x="892.51" y="222"/>
<rect class="ba" x="896.35" y="222"/>
<rect class="ba" x="900.18" y="222"/>
<rect class="ba" x="904.02" y="222"/>
<rect class="ba" x="907.86" y="222"/>
<rect class="ba" x="911.69" y="222"/>
<rect class="ba" x="915.53" y="222"/>
<rect class="ba" x="919.37" y="222"/>
<rect class="ba" x="923.2" y="222"/>
<rect class="ba" x="927.04" y="222"/>
<rect class="ba" x="930.88" y="222"/>
<rect class="ba" x="934.71" y="222"/>
<rect class="ba" x="938.55" y="222"/>
<rect class="ba" x="942.39" y="222"/>
<rect class="ba" x="946.22" y="222"/>
<rect class="ba" x="950.06" y="222"/>
<rect class="ba" x="953.9" y="222"/>
<rect class="ba" x="957.73" y="222"/>
<rect class="ba" x="961.57" y="222"/>
<rect class="ba" x="965.41" y="222"/>
<rect class="ba" x="969.24" y="222"/>
<rect class="ba" x="973.08" y="222"/>
<rect class="ba" x="976.92" y="222"/>
<rect class="ba" x="980.75" y="222"/>
<rect class="ba" x="984.59" y="222"/>
<rect class="ba" x="988.43" y="222"/>
<rect class="ba" x="992.26" y="222"/>
<rect class="ba" x="996.1" y="222"/>
<rect class="ba" x="999.94" y="222"/>
<rect class="ba" x="1003.77" y="222"/>
<rect class="ba" x="1007.61" y="222"/>
<rect class="ba" x="1011.45" y="222"/>
<rect class="ba" x="1015.28" y="222"/>
<rect class="ba" x="1019.12" y="222"/>
<rect class="ba" x="1022.96" y="222"/>
<rect class="ba" x="1026.79" y="222"/>
<rect class="ba" x="1030.63" y="222"/>
<rect class="ba" x="1034.47" y="222"/>
<rect class="ba" x="1038.3" y="222"/>
<rect class="ba" x="1042.14" y="222"/>
<rect class="ba" x="1045.98" y="222"/>
<rect class="ba" x="1049.81" y="222"/>
<rect class="ba" x="1053.65" y="222"/>
<rect class="ba" x="1057.49" y="222"/>
<rect class="ba" x="1061.32" y="222"/>
<rect class="ba" x="1065.16" y="222"/>
<rect class="ba" x="1069" y="222"/>
<rect class="ba" x="1072.83" y="222"/>
<rect class="ba" x="1076.67" y="222"/>
<rect class="ba" x="1080.51" y="222"/>
<rect class="ba" x="1084.34" y="222"/>
<rect class="ba" x="1088.18" y="222"/>
<rect class="ba" x="1092.02" y="222"/>
<rect class="ba" x="1095.85" y="222"/>
<rect class="ba" x="1099.69" y="222"/>
<rect class="ba" x="1103.53" y="222"/>
<rect class="ba" x="1107.36" y="222"/>
<rect class="ba k0" x="148.2" y="27"/>
<rect class="ba k0" x="152.04" y="27"/>
<rect class="ba k0" x="155.87" y="27"/>
<rect class="ba k0" x="159.71" y="27"/>
<rect class="ba k0" x="163.55" y="27"/>
<rect class="ba k0" x="167.38" y="27"/>
<rect class="ba k0" x="171.22" y="27"/>
<rect class="ba k0" x="175.06" y="27"/>
<rect class="ba k0" x="178.89" y="27"/>
<rect class="ba k0" x="182.73" y="27"/>
<rect class="ba k0" x="186.57" y="27"/>
<rect class="ba k0" x="190.4" y="27"/>
<rect class="ba k0" x="194.24" y="27"/>
<rect class="ba k0" x="198.08" y="27"/>
<rect class="ba k0" x="201.91" y="27"/>
<rect class="ba k0" x="205.75" y="27"/>
<rect class="ba k0" x="209.59" y="27"/>
<rect class="ba k0" x="213.42" y="27"/>
<rect class="ba k0" x="217.26" y="27"/>
<rect class="ba k0" x="221.1" y="27"/>
<rect class="ba k0" x="224.93" y="27"/>
<rect class="ba k0" x="228.77" y="27"/>
<rect class="ba k0" x="232.61" y="27"/>
<rect class="ba k0" x="236.44" y="27"/>
<rect class="ba k0" x="240.28" y="27"/>
<rect class="ba k0" x="244.12" y="27"/>
<rect class="ba k0" x="247.95" y="27"/>
<rect class="ba k0" x="251.79" y="27"/>
<rect class="ba k0" x="255.63" y="27"/>
<rect class="ba k0" x="259.46" y="27"/>
<rect class="ba k0" x="263.3" y="27"/>
<rect class="ba k0" x="267.14" y="27"/>
<rect class="ba k0" x="270.97" y="27"/>
<rect class="ba k0" x="274.81" y="27"/>
<rect class="ba k0" x="278.65" y="27"/>
<rect class="ba k0" x="282.48" y="27"/>
<rect class="ba k0" x="286.32" y="27"/>
<rect class="ba k0" x="290.16" y="27"/>
<rect class="ba k0" x="293.99" y="27"/>
<rect class="ba k0" x="297.83" y="27"/>
<rect class="ba k0" x="301.67" y="27"/>
<rect class="ba k0" x="305.5" y="27"/>
<rect class="ba k0" x="309.34" y="27"/>
<rect class="ba k0" x="313.18" y="27"/>
<rect class="ba k0" x="317.01" y="27"/>
<rect class="ba k0" x="320.85" y="27"/>
<rect class="ba k0" x="324.69" y="27"/>
<rect class="ba k0" x="328.52" y="27"/>
<rect class="ba k0" x="332.36" y="27"/>
<rect class="ba k0" x="336.2" y="27"/>
<rect x="148.2" y="38" width="2.85" height="10" fill="#8c3199"/>
<rect x="152.04" y="38" width="2.85" height="10" fill="#8c3199"/>
<rect x="155.87" y="38" width="2.85" height="10" fill="#8c3199"/>
<rect x="159.71" y="38" width="2.85" height="10" fill="#8c3199"/>
<rect x="163.55" y="38" width="2.85" height="10" fill="#8c3199"/>
<rect x="167.38" y="38" width="2.85" height="10" fill="#8c3199"/>
<rect x="171.22" y="38" width="2.85" height="10" fill="#8c3199"/>
<rect x="175.06" y="38" width="2.85" height="10" fill="#8c3199"/>
<rect x="178.89" y="38" width="2.85" height="10" fill="#8c3199"/>
<rect x="182.73" y="38" width="2.85" height="10" fill="#8c3199"/>
<rect x="186.57" y="38" width="2.85" height="10" fill="#8c3199"/>
<rect x="190.4" y="38" width="2.85" height="10" fill="#8c3199"/>
<rect x="194.24" y="38" width="2.85" height="10" fill="#8c3199"/>
<rect x="198.08" y="38" width="2.85" height="10" fill="#8c3199"/>
<rect x="201.91" y="38" width="2.85" height="10" fill="#8c3199"/>
<rect x="205.75" y="38" width="2.85" height="10" fill="#8c3199"/>
<rect x="209.59" y="38" width="2.85" height="10" fill="#8c3199"/>
<rect x="213.42" y="38" width="2.85" height="10" fill="#8c3199"/>
<rect x="217.26" y="38" width="2.85" height="10" fill="#8c3199"/>
<rect x="221.1" y="38" width="2.85" height="10" fill="#8c3199"/>
<rect x="224.93" y="38" width="2.85" height="10" fill="#8c3199"/>
<rect x="228.77" y="38" width="2.85" height="10" fill="#8c3199"/>
<rect class="ba k1" x="148.2" y="59.5"/>
<rect class="ba k1" x="152.04" y="59.5"/>
<rect class="ba k1" x="155.87" y="59.5"/>
<rect class="ba k1" x="159.71" y="59.5"/>
<rect class="ba k1" x="163.55" y="59.5"/>
<rect class="ba k1" x="167.38" y="59.5"/>
<rect class="ba k1" x="171.22" y="59.5"/>
<rect class="ba k1" x="175.06" y="59.5"/>
<rect class="ba k1" x="178.89" y="59.5"/>
<rect class="ba k1" x="182.73" y="59.5"/>
<rect class="ba k1" x="186.57" y="59.5"/>
<rect class="ba k1" x="190.4" y="59.5"/>
<rect class="ba k1" x="194.24" y="59.5"/>
<rect class="ba k1" x="198.08" y="59.5"/>
<rect class="ba k1" x="201.91" y="59.5"/>
<rect class="ba k1" x="205.75" y="59.5"/>
<rect class="ba k1" x="209.59" y="59.5"/>
<rect class="ba k1" x="213.42" y="59.5"/>
<rect class="ba k1" x="217.26" y="59.5"/>
<rect class="ba k1" x="221.1" y="59.5"/>
<rect class="ba k1" x="224.93" y="59.5"/>
<rect class="ba k1" x="232.61" y="59.5"/>
<rect class="ba k1" x="236.44" y="59.5"/>
<rect class="ba k1" x="240.28" y="59.5"/>
<rect class="ba k1" x="244.12" y="59.5"/>
<rect class="ba k1" x="247.95" y="59.5"/>
<rect class="ba k1" x="251.79" y="59.5"/>
<rect class="ba k1" x="255.63" y="59.5"/>
<rect class="ba k1" x="259.46" y="59.5"/>
<rect class="ba k1" x="263.3" y="59.5"/>
<rect class="ba k1" x="267.14" y="59.5"/>
<rect class="ba k1" x="270.97" y="59.5"/>
<rect class="ba k1" x="274.81" y="59.5"/>
<rect class="ba k1" x="278.65" y="59.5"/>
<rect class="ba k1" x="282.48" y="59.5"/>
<rect class="ba k1" x="286.32" y="59.5"/>
<rect class="ba k1" x="290.16" y="59.5"/>
<rect class="ba k1" x="293.99" y="59.5"/>
<rect class="ba k1" x="297.83" y="59.5"/>
<rect class="ba k1" x="301.67" y="59.5"/>
<rect class="ba k1" x="305.5" y="59.5"/>
<rect class="ba k1" x="309.34" y="59.5"/>
<rect class="ba k1" x="340.03" y="59.5"/>
<rect class="ba k1" x="343.87" y="59.5"/>
<rect class="ba k1" x="347.71" y="59.5"/>
<rect class="ba k1" x="351.54" y="59.5"/>
<rect class="ba k1" x="355.38" y="59.5"/>
<rect class="ba k1" x="359.22" y="59.5"/>
<rect class="ba k1" x="363.05" y="59.5"/>
<rect class="ba k1" x="366.89" y="59.5"/>
<rect class="ba k2" x="324.69" y="59.5"/>
<rect class="ba k2" x="393.75" y="59.5"/>
<rect class="ba k2" x="462.81" y="59.5"/>
<rect class="ba k2" x="501.17" y="59.5"/>
<rect class="ba k2" x="505.01" y="59.5"/>
<rect class="ba k2" x="508.85" y="59.5"/>
<rect class="ba k2" x="646.96" y="59.5"/>
<rect class="ba k2" x="673.82" y="59.5"/>
<rect class="ba k2" x="677.66" y="59.5"/>
<rect class="ba k2" x="681.49" y="59.5"/>
<rect class="ba k2" x="804.27" y="59.5"/>
<rect class="ba k2" x="854.14" y="59.5"/>
<rect class="ba k2" x="857.98" y="59.5"/>
<rect class="ba k2" x="861.82" y="59.5"/>
<rect class="ba k2" x="865.65" y="59.5"/>
<rect class="ba k2" x="869.49" y="59.5"/>
<rect class="ba k2" x="873.33" y="59.5"/>
<rect class="ba k2" x="877.16" y="59.5"/>
<rect class="ba k2" x="881" y="59.5"/>
<rect class="ba k2" x="884.84" y="59.5"/>
<rect class="ba k2" x="888.67" y="59.5"/>
<rect class="ba k0" x="148.2" y="92"/>
<rect class="ba k0" x="152.04" y="92"/>
<rect class="ba k0" x="155.87" y="92"/>
<rect class="ba k0" x="159.71" y="92"/>
<rect class="ba k0" x="163.55" y="92"/>
<rect class="ba k0" x="167.38" y="92"/>
<rect class="ba k0" x="171.22" y="92"/>
<rect class="ba k0" x="175.06" y="92"/>
<rect class="ba k0" x="178.89" y="92"/>
<rect class="ba k0" x="182.73" y="92"/>
<rect class="ba k0" x="186.57" y="92"/>
<rect class="ba k0" x="232.61" y="92"/>
<rect class="ba k0" x="236.44" y="92"/>
<rect class="ba k0" x="240.28" y="92"/>
<rect class="ba k0" x="244.12" y="92"/>
<rect class="ba k0" x="247.95" y="92"/>
<rect class="ba k0" x="251.79" y="92"/>
<rect class="ba k0" x="255.63" y="92"/>
<rect class="ba k1" x="148.2" y="124.5"/>
<rect class="ba k1" x="152.04" y="124.5"/>
<rect class="ba k1" x="155.87" y="124.5"/>
<rect class="ba k1" x="159.71" y="124.5"/>
<rect class="ba k1" x="163.55" y="124.5"/>
<rect class="ba k1" x="167.38" y="124.5"/>
<rect class="ba k1" x="171.22" y="124.5"/>
<rect class="ba k1" x="175.06" y="124.5"/>
<rect class="ba k1" x="178.89" y="124.5"/>
<rect class="ba k1" x="182.73" y="124.5"/>
<rect class="ba k1" x="190.4" y="124.5"/>
<rect class="ba k1" x="194.24" y="124.5"/>
<rect class="ba k1" x="198.08" y="124.5"/>
<rect class="ba k1" x="201.91" y="124.5"/>
<rect class="ba k1" x="205.75" y="124.5"/>
<rect class="ba k1" x="209.59" y="124.5"/>
<rect class="ba k1" x="213.42" y="124.5"/>
<rect class="ba k1" x="217.26" y="124.5"/>
<rect class="ba k1" x="221.1" y="124.5"/>
<rect class="ba k1" x="224.93" y="124.5"/>
<rect class="ba k1" x="228.77" y="124.5"/>
<rect class="ba k1" x="232.61" y="124.5"/>
<rect class="ba k1" x="236.44" y="124.5"/>
<rect class="ba k1" x="240.28" y="124.5"/>
<rect class="ba k1" x="244.12" y="124.5"/>
<rect class="ba k1" x="247.95" y="124.5"/>
<rect class="ba k1" x="251.79" y="124.5"/>
<rect class="ba k1" x="255.63" y="124.5"/>
<rect class="ba k1" x="259.46" y="124.5"/>
<rect class="ba k1" x="263.3" y="124.5"/>
<rect class="ba k1" x="267.14" y="124.5"/>
<rect class="ba k1" x="270.97" y="124.5"/>
<rect class="ba k1" x="274.81" y="124.5"/>
<rect class="ba k1" x="278.65" y="124.5"/>
<rect class="ba k1" x="282.48" y="124.5"/>
<rect class="ba k1" x="286.32" y="124.5"/>
<rect class="ba k1" x="290.16" y="124.5"/>
<rect class="ba k1" x="293.99" y="124.5"/>
<rect class="ba k1" x="297.83" y="124.5"/>
<rect class="ba k1" x="301.67" y="124.5"/>
<rect class="ba k1" x="305.5" y="124.5"/>
<rect class="ba k1" x="313.18" y="124.5"/>
<rect class="ba k1" x="317.01" y="124.5"/>
<rect class="ba k1" x="320.85" y="124.5"/>
<rect class="ba k1" x="324.69" y="124.5"/>
<rect class="ba k1" x="328.52" y="124.5"/>
<rect class="ba k1" x="340.03" y="124.5"/>
<rect class="ba k1" x="343.87" y="124.5"/>
<rect class="ba k1" x="347.71" y="124.5"/>
<rect class="ba k1" x="351.54" y="124.5"/>
<rect class="ba k1" x="355.38" y="124.5"/>
<rect class="ba k1" x="359.22" y="124.5"/>
<rect class="ba k1" x="370.73" y="124.5"/>
<rect class="ba k1" x="374.56" y="124.5"/>
<rect class="ba k1" x="378.4" y="124.5"/>
<rect class="ba k1" x="382.24" y="124.5"/>
<rect class="ba k1" x="386.07" y="124.5"/>
<rect class="ba k1" x="389.91" y="124.5"/>
<rect class="ba k1" x="393.75" y="124.5"/>
<rect class="ba k1" x="397.58" y="124.5"/>
<rect class="ba k1" x="401.42" y="124.5"/>
<rect class="ba k1" x="405.26" y="124.5"/>
<rect class="ba k1" x="409.09" y="124.5"/>
<rect class="ba k1" x="412.93" y="124.5"/>
<rect class="ba k1" x="416.77" y="124.5"/>
<rect class="ba k1" x="420.6" y="124.5"/>
<rect class="ba k1" x="424.44" y="124.5"/>
<rect class="ba k1" x="428.28" y="124.5"/>
<rect class="ba k2" x="854.14" y="124.5"/>
<rect class="ba k2" x="857.98" y="124.5"/>
<rect class="ba k2" x="861.82" y="124.5"/>
<rect class="ba k2" x="865.65" y="124.5"/>
<rect class="ba k2" x="869.49" y="124.5"/>
<rect class="ba k2" x="892.51" y="124.5"/>
<rect class="ba k2" x="896.35" y="124.5"/>
<rect class="am" x="148.35" y="167.6"/>
<rect class="am" x="190.55" y="167.6"/>
<rect class="am" x="194.39" y="167.6"/>
<rect class="am" x="198.23" y="167.6"/>
<rect class="am" x="202.06" y="167.6"/>
<rect class="am" x="205.9" y="167.6"/>
<rect class="am" x="209.74" y="167.6"/>
<rect class="am" x="228.92" y="167.6"/>
<rect class="am" x="232.76" y="167.6"/>
<rect class="am" x="259.61" y="167.6"/>
<rect class="am" x="263.45" y="167.6"/>
<rect class="am" x="267.29" y="167.6"/>
<rect class="am" x="271.12" y="167.6"/>
<rect class="am" x="274.96" y="167.6"/>
<rect class="am" x="278.8" y="167.6"/>
<rect class="am" x="313.33" y="167.6"/>
<rect class="am" x="317.16" y="167.6"/>
<rect class="am" x="363.2" y="167.6"/>
<rect class="am" x="370.88" y="167.6"/>
<rect class="am" x="432.26" y="167.6"/>
<rect class="am" x="436.1" y="167.6"/>
<rect class="am" x="439.94" y="167.6"/>
<rect class="am" x="443.77" y="167.6"/>
<rect class="am" x="447.61" y="167.6"/>
<rect class="am" x="451.45" y="167.6"/>
<rect class="am" x="455.28" y="167.6"/>
<rect class="am" x="459.12" y="167.6"/>
<rect class="am" x="462.96" y="167.6"/>
<rect class="am" x="466.79" y="167.6"/>
<rect class="am" x="470.63" y="167.6"/>
<rect class="am" x="474.47" y="167.6"/>
<rect class="am" x="478.3" y="167.6"/>
<rect class="am" x="482.14" y="167.6"/>
<rect class="am" x="485.98" y="167.6"/>
<rect class="am" x="489.81" y="167.6"/>
<rect class="am" x="493.65" y="167.6"/>
<rect class="am" x="497.49" y="167.6"/>
<rect class="am" x="501.32" y="167.6"/>
<rect class="am" x="505.16" y="167.6"/>
<rect class="am" x="509" y="167.6"/>
<rect class="am" x="512.83" y="167.6"/>
<rect class="am" x="516.67" y="167.6"/>
<rect class="am" x="520.51" y="167.6"/>
<rect class="am" x="524.34" y="167.6"/>
<rect class="am" x="528.18" y="167.6"/>
<rect class="am" x="532.02" y="167.6"/>
<rect class="am" x="535.85" y="167.6"/>
<rect class="am" x="539.69" y="167.6"/>
<rect class="am" x="543.53" y="167.6"/>
<rect class="am" x="547.36" y="167.6"/>
<rect class="am" x="551.2" y="167.6"/>
<rect class="am" x="555.04" y="167.6"/>
<rect class="am" x="558.87" y="167.6"/>
<rect class="am" x="562.71" y="167.6"/>
<rect class="am" x="566.55" y="167.6"/>
<rect class="am" x="570.38" y="167.6"/>
<rect class="am" x="574.22" y="167.6"/>
<rect class="am" x="578.06" y="167.6"/>
<rect class="am" x="581.89" y="167.6"/>
<rect class="am" x="585.73" y="167.6"/>
<rect class="am" x="589.57" y="167.6"/>
<rect class="am" x="593.4" y="167.6"/>
<rect class="am" x="597.24" y="167.6"/>
<rect class="am" x="601.08" y="167.6"/>
<rect class="am" x="604.91" y="167.6"/>
<rect class="am" x="608.75" y="167.6"/>
<rect class="am" x="612.59" y="167.6"/>
<rect class="am" x="616.42" y="167.6"/>
<rect class="am" x="620.26" y="167.6"/>
<rect class="am" x="624.1" y="167.6"/>
<rect class="am" x="627.93" y="167.6"/>
<rect class="am" x="631.77" y="167.6"/>
<rect class="am" x="635.6" y="167.6"/>
<rect class="am" x="639.44" y="167.6"/>
<rect class="am" x="643.28" y="167.6"/>
<rect class="am" x="190.55" y="200.1"/>
<rect class="am" x="213.57" y="200.1"/>
<rect class="am" x="259.61" y="200.1"/>
<rect class="am" x="282.63" y="200.1"/>
<rect class="am" x="340.18" y="200.1"/>
<rect class="am" x="363.2" y="200.1"/>
<rect class="am" x="374.71" y="200.1"/>
<rect class="am" x="432.26" y="200.1"/>
<rect class="am" x="436.1" y="200.1"/>
<rect class="am" x="439.94" y="200.1"/>
<rect class="am" x="443.77" y="200.1"/>
<rect class="am" x="447.61" y="200.1"/>
<rect class="am" x="451.45" y="200.1"/>
<rect class="am" x="455.28" y="200.1"/>
<rect class="am" x="459.12" y="200.1"/>
<rect class="am" x="647.11" y="200.1"/>
<rect class="am" x="650.95" y="200.1"/>
<rect class="am" x="654.79" y="200.1"/>
<rect class="am" x="658.62" y="200.1"/>
<rect class="am" x="662.46" y="200.1"/>
<rect class="am" x="666.3" y="200.1"/>
<rect class="am" x="670.13" y="200.1"/>
<rect class="am" x="673.97" y="200.1"/>
<rect class="am" x="677.81" y="200.1"/>
<rect class="am" x="681.64" y="200.1"/>
<rect class="am" x="685.48" y="200.1"/>
<rect class="am" x="689.32" y="200.1"/>
<rect class="am" x="693.15" y="200.1"/>
<rect class="am" x="696.99" y="200.1"/>
<rect class="am" x="700.83" y="200.1"/>
<rect class="am" x="704.66" y="200.1"/>
<rect class="am" x="708.5" y="200.1"/>
<rect class="am" x="712.34" y="200.1"/>
<rect class="am" x="716.17" y="200.1"/>
<rect class="am" x="720.01" y="200.1"/>
<rect class="am" x="723.85" y="200.1"/>
<rect class="am" x="727.68" y="200.1"/>
<rect class="am" x="731.52" y="200.1"/>
<rect class="am" x="735.36" y="200.1"/>
<rect class="am" x="739.19" y="200.1"/>
<rect class="am" x="743.03" y="200.1"/>
<rect class="am" x="746.87" y="200.1"/>
<rect class="am" x="750.7" y="200.1"/>
<rect class="am" x="754.54" y="200.1"/>
<rect class="am" x="758.38" y="200.1"/>
<rect class="am" x="762.21" y="200.1"/>
<rect class="am" x="766.05" y="200.1"/>
<rect class="am" x="769.89" y="200.1"/>
<rect class="am" x="773.72" y="200.1"/>
<rect class="am" x="777.56" y="200.1"/>
<rect class="am" x="781.4" y="200.1"/>
<rect class="am" x="785.23" y="200.1"/>
<rect class="am" x="789.07" y="200.1"/>
<rect class="am" x="792.91" y="200.1"/>
<rect class="am" x="796.74" y="200.1"/>
<rect class="am" x="800.58" y="200.1"/>
<rect class="am" x="152.19" y="232.6"/>
<rect class="am" x="156.02" y="232.6"/>
<rect class="am" x="159.86" y="232.6"/>
<rect class="am" x="190.55" y="232.6"/>
<rect class="am" x="217.41" y="232.6"/>
<rect class="am" x="236.59" y="232.6"/>
<rect class="am" x="240.43" y="232.6"/>
<rect class="am" x="282.63" y="232.6"/>
<rect class="am" x="321" y="232.6"/>
<rect class="am" x="332.51" y="232.6"/>
<rect class="am" x="344.02" y="232.6"/>
<rect class="am" x="363.2" y="232.6"/>
<rect class="am" x="378.55" y="232.6"/>
<rect class="am" x="382.39" y="232.6"/>
<rect class="am" x="386.22" y="232.6"/>
<rect class="am" x="390.06" y="232.6"/>
<rect class="am" x="432.26" y="232.6"/>
<rect class="am" x="462.96" y="232.6"/>
<rect class="am" x="466.79" y="232.6"/>
<rect class="am" x="470.63" y="232.6"/>
<rect class="am" x="474.47" y="232.6"/>
<rect class="am" x="478.3" y="232.6"/>
<rect class="am" x="482.14" y="232.6"/>
<rect class="am" x="485.98" y="232.6"/>
<rect class="am" x="489.81" y="232.6"/>
<rect class="am" x="493.65" y="232.6"/>
<rect class="am" x="497.49" y="232.6"/>
<rect class="am" x="647.11" y="232.6"/>
<rect class="am" x="650.95" y="232.6"/>
<rect class="am" x="654.79" y="232.6"/>
<rect class="am" x="658.62" y="232.6"/>
<rect class="am" x="662.46" y="232.6"/>
<rect class="am" x="666.3" y="232.6"/>
<rect class="am" x="670.13" y="232.6"/>
<rect class="am" x="804.42" y="232.6"/>
<rect class="am" x="808.25" y="232.6"/>
<rect class="am" x="812.09" y="232.6"/>
<rect class="am" x="815.93" y="232.6"/>
<rect class="am" x="819.76" y="232.6"/>
<rect class="am" x="823.6" y="232.6"/>
<rect class="am" x="827.44" y="232.6"/>
<rect class="am" x="831.27" y="232.6"/>
<rect class="am" x="835.11" y="232.6"/>
<rect class="am" x="838.95" y="232.6"/>
<rect class="am" x="842.78" y="232.6"/>
<rect class="am" x="846.62" y="232.6"/>
<rect class="am" x="850.46" y="232.6"/>
<text x="137.8" y="40.3" text-anchor="end">Orthohepadnavirus</text>
<text x="137.8" y="54.8" text-anchor="end">(WGS + RNA)</text>
<text x="137.8" y="81.3" text-anchor="end">PCR validation</text>
<text x="137.8" y="103.8" text-anchor="end">Orthohepadnavirus</text>
<text x="137.8" y="118.6" text-anchor="end">(RNA)</text>
<text x="137.8" y="146.3" text-anchor="end">HBAg</text>
<text x="139.4" y="179.2" text-anchor="end" font-style="italic">TP53</text>
<text x="139.4" y="211.3" text-anchor="end" font-style="italic">CTNNB1</text>
<text x="139.4" y="243.3" text-anchor="end" font-style="italic">ARID1A</text>
<text x="1118.6" y="47.65"><tspan font-style="italic">n</tspan> = 50</text>
<text x="1118.6" y="80.15"><tspan font-style="italic">n</tspan> = 50</text>
<text x="1118.6" y="112.65"><tspan font-style="italic">n</tspan> = 18</text>
<text x="1118.6" y="145.15"><tspan font-style="italic">n</tspan> = 68</text>
<text x="1118.6" y="177.65"><tspan font-style="italic">n</tspan> = 75</text>
<text x="1118.6" y="210.15"><tspan font-style="italic">n</tspan> = 56</text>
<text x="1118.6" y="242.65"><tspan font-style="italic">n</tspan> = 47</text>
<path d="M1165 41.3H1170.4V172.5H1165" stroke="#222" stroke-width="1.3" fill="none"/>
<path d="M1172.3 41.3H1177.2V205H1172.3" stroke="#222" stroke-width="1.3" fill="none"/>
<path d="M1181 41.3H1185.6V237.5H1181" stroke="#222" stroke-width="1.3" fill="none"/>
<text x="1194.2" y="140.5">*</text>
<rect x="149" y="266" width="18.5" height="18.5" fill="#e0322a"/>
<text x="176.5" y="281.1">Virus positive</text>
<rect x="301.5" y="266" width="18.5" height="18.5" fill="#8f3d9f"/>
<text x="330" y="281.1">Human genome integrations</text>
<rect x="575.5" y="266" width="18.5" height="18.5" fill="#0c9c4a"/>
<text x="601.5" y="281.1">Driver mutations</text>
<rect x="749" y="266" width="18.5" height="18.5" fill="#626262"/>
<text x="775" y="281.1">Not available</text>
<text x="2" y="319" font-size="17" font-weight="bold" stroke="#000" stroke-width="0.55">b</text>
<text x="151" y="325.3">Lymphocryptovirus-positive (EBV) samples in gastric cancers (<tspan font-style="italic">n</tspan> = 75)</text>
<rect class="bb" x="148.6" y="336.6"/>
<rect class="bb" x="161.44" y="336.6"/>
<rect class="bb" x="174.28" y="336.6"/>
<rect class="bb" x="187.12" y="336.6"/>
<rect class="bb" x="199.96" y="336.6"/>
<rect class="bb" x="212.8" y="336.6"/>
<rect class="bb" x="225.64" y="336.6"/>
<rect class="bb" x="238.48" y="336.6"/>
<rect class="bb" x="251.32" y="336.6"/>
<rect class="bb" x="264.16" y="336.6"/>
<rect class="bb" x="277" y="336.6"/>
<rect class="bb" x="289.84" y="336.6"/>
<rect class="bb" x="302.68" y="336.6"/>
<rect class="bb" x="315.52" y="336.6"/>
<rect class="bb" x="328.36" y="336.6"/>
<rect class="bb" x="341.2" y="336.6"/>
<rect class="bb" x="354.04" y="336.6"/>
<rect class="bb" x="366.88" y="336.6"/>
<rect class="bb" x="379.72" y="336.6"/>
<rect class="bb" x="392.56" y="336.6"/>
<rect class="bb" x="405.4" y="336.6"/>
<rect class="bb" x="418.24" y="336.6"/>
<rect class="bb" x="431.08" y="336.6"/>
<rect class="bb" x="443.92" y="336.6"/>
<rect class="bb" x="456.76" y="336.6"/>
<rect class="bb" x="469.6" y="336.6"/>
<rect class="bb" x="482.44" y="336.6"/>
<rect class="bb" x="495.28" y="336.6"/>
<rect class="bb" x="508.12" y="336.6"/>
<rect class="bb" x="520.96" y="336.6"/>
<rect class="bb" x="533.8" y="336.6"/>
<rect class="bb" x="546.64" y="336.6"/>
<rect class="bb" x="559.48" y="336.6"/>
<rect class="bb" x="572.32" y="336.6"/>
<rect class="bb" x="585.16" y="336.6"/>
<rect class="bb" x="598" y="336.6"/>
<rect class="bb" x="610.84" y="336.6"/>
<rect class="bb" x="623.68" y="336.6"/>
<rect class="bb" x="636.52" y="336.6"/>
<rect class="bb" x="649.36" y="336.6"/>
<rect class="bb" x="662.2" y="336.6"/>
<rect class="bb" x="675.04" y="336.6"/>
<rect class="bb" x="687.88" y="336.6"/>
<rect class="bb" x="700.72" y="336.6"/>
<rect class="bb" x="713.56" y="336.6"/>
<rect class="bb" x="726.4" y="336.6"/>
<rect class="bb" x="739.24" y="336.6"/>
<rect class="bb" x="752.08" y="336.6"/>
<rect class="bb" x="764.92" y="336.6"/>
<rect class="bb" x="777.76" y="336.6"/>
<rect class="bb" x="790.6" y="336.6"/>
<rect class="bb" x="803.44" y="336.6"/>
<rect class="bb" x="816.28" y="336.6"/>
<rect class="bb" x="829.12" y="336.6"/>
<rect class="bb" x="841.96" y="336.6"/>
<rect class="bb" x="854.8" y="336.6"/>
<rect class="bb" x="867.64" y="336.6"/>
<rect class="bb" x="880.48" y="336.6"/>
<rect class="bb" x="893.32" y="336.6"/>
<rect class="bb" x="906.16" y="336.6"/>
<rect class="bb" x="919" y="336.6"/>
<rect class="bb" x="931.84" y="336.6"/>
<rect class="bb" x="944.68" y="336.6"/>
<rect class="bb" x="957.52" y="336.6"/>
<rect class="bb" x="970.36" y="336.6"/>
<rect class="bb" x="983.2" y="336.6"/>
<rect class="bb" x="996.04" y="336.6"/>
<rect class="bb" x="1008.88" y="336.6"/>
<rect class="bb" x="1021.72" y="336.6"/>
<rect class="bb" x="1034.56" y="336.6"/>
<rect class="bb" x="1047.4" y="336.6"/>
<rect class="bb" x="1060.24" y="336.6"/>
<rect class="bb" x="1073.08" y="336.6"/>
<rect class="bb" x="1085.92" y="336.6"/>
<rect class="bb" x="1098.76" y="336.6"/>
<rect class="bb" x="148.6" y="370.95"/>
<rect class="bb" x="161.44" y="370.95"/>
<rect class="bb" x="174.28" y="370.95"/>
<rect class="bb" x="187.12" y="370.95"/>
<rect class="bb" x="199.96" y="370.95"/>
<rect class="bb" x="212.8" y="370.95"/>
<rect class="bb" x="225.64" y="370.95"/>
<rect class="bb" x="238.48" y="370.95"/>
<rect class="bb" x="251.32" y="370.95"/>
<rect class="bb" x="264.16" y="370.95"/>
<rect class="bb" x="277" y="370.95"/>
<rect class="bb" x="289.84" y="370.95"/>
<rect class="bb" x="302.68" y="370.95"/>
<rect class="bb" x="315.52" y="370.95"/>
<rect class="bb" x="328.36" y="370.95"/>
<rect class="bb" x="341.2" y="370.95"/>
<rect class="bb" x="354.04" y="370.95"/>
<rect class="bb" x="366.88" y="370.95"/>
<rect class="bb" x="379.72" y="370.95"/>
<rect class="bb" x="392.56" y="370.95"/>
<rect class="bb" x="405.4" y="370.95"/>
<rect class="bb" x="418.24" y="370.95"/>
<rect class="bb" x="431.08" y="370.95"/>
<rect class="bb" x="443.92" y="370.95"/>
<rect class="bb" x="456.76" y="370.95"/>
<rect class="bb" x="469.6" y="370.95"/>
<rect class="bb" x="482.44" y="370.95"/>
<rect class="bb" x="495.28" y="370.95"/>
<rect class="bb" x="508.12" y="370.95"/>
<rect class="bb" x="520.96" y="370.95"/>
<rect class="bb" x="533.8" y="370.95"/>
<rect class="bb" x="546.64" y="370.95"/>
<rect class="bb" x="559.48" y="370.95"/>
<rect class="bb" x="572.32" y="370.95"/>
<rect class="bb" x="585.16" y="370.95"/>
<rect class="bb" x="598" y="370.95"/>
<rect class="bb" x="610.84" y="370.95"/>
<rect class="bb" x="623.68" y="370.95"/>
<rect class="bb" x="636.52" y="370.95"/>
<rect class="bb" x="649.36" y="370.95"/>
<rect class="bb" x="662.2" y="370.95"/>
<rect class="bb" x="675.04" y="370.95"/>
<rect class="bb" x="687.88" y="370.95"/>
<rect class="bb" x="700.72" y="370.95"/>
<rect class="bb" x="713.56" y="370.95"/>
<rect class="bb" x="726.4" y="370.95"/>
<rect class="bb" x="739.24" y="370.95"/>
<rect class="bb" x="752.08" y="370.95"/>
<rect class="bb" x="764.92" y="370.95"/>
<rect class="bb" x="777.76" y="370.95"/>
<rect class="bb" x="790.6" y="370.95"/>
<rect class="bb" x="803.44" y="370.95"/>
<rect class="bb" x="816.28" y="370.95"/>
<rect class="bb" x="829.12" y="370.95"/>
<rect class="bb" x="841.96" y="370.95"/>
<rect class="bb" x="854.8" y="370.95"/>
<rect class="bb" x="867.64" y="370.95"/>
<rect class="bb" x="880.48" y="370.95"/>
<rect class="bb" x="893.32" y="370.95"/>
<rect class="bb" x="906.16" y="370.95"/>
<rect class="bb" x="919" y="370.95"/>
<rect class="bb" x="931.84" y="370.95"/>
<rect class="bb" x="944.68" y="370.95"/>
<rect class="bb" x="957.52" y="370.95"/>
<rect class="bb" x="970.36" y="370.95"/>
<rect class="bb" x="983.2" y="370.95"/>
<rect class="bb" x="996.04" y="370.95"/>
<rect class="bb" x="1008.88" y="370.95"/>
<rect class="bb" x="1021.72" y="370.95"/>
<rect class="bb" x="1034.56" y="370.95"/>
<rect class="bb" x="1047.4" y="370.95"/>
<rect class="bb" x="1060.24" y="370.95"/>
<rect class="bb" x="1073.08" y="370.95"/>
<rect class="bb" x="1085.92" y="370.95"/>
<rect class="bb" x="1098.76" y="370.95"/>
<rect class="bb" x="148.6" y="405.3"/>
<rect class="bb" x="161.44" y="405.3"/>
<rect class="bb" x="174.28" y="405.3"/>
<rect class="bb" x="187.12" y="405.3"/>
<rect class="bb" x="199.96" y="405.3"/>
<rect class="bb" x="212.8" y="405.3"/>
<rect class="bb" x="225.64" y="405.3"/>
<rect class="bb" x="238.48" y="405.3"/>
<rect class="bb" x="251.32" y="405.3"/>
<rect class="bb" x="264.16" y="405.3"/>
<rect class="bb" x="277" y="405.3"/>
<rect class="bb" x="289.84" y="405.3"/>
<rect class="bb" x="302.68" y="405.3"/>
<rect class="bb" x="315.52" y="405.3"/>
<rect class="bb" x="328.36" y="405.3"/>
<rect class="bb" x="341.2" y="405.3"/>
<rect class="bb" x="354.04" y="405.3"/>
<rect class="bb" x="366.88" y="405.3"/>
<rect class="bb" x="379.72" y="405.3"/>
<rect class="bb" x="392.56" y="405.3"/>
<rect class="bb" x="405.4" y="405.3"/>
<rect class="bb" x="418.24" y="405.3"/>
<rect class="bb" x="431.08" y="405.3"/>
<rect class="bb" x="443.92" y="405.3"/>
<rect class="bb" x="456.76" y="405.3"/>
<rect class="bb" x="469.6" y="405.3"/>
<rect class="bb" x="482.44" y="405.3"/>
<rect class="bb" x="495.28" y="405.3"/>
<rect class="bb" x="508.12" y="405.3"/>
<rect class="bb" x="520.96" y="405.3"/>
<rect class="bb" x="533.8" y="405.3"/>
<rect class="bb" x="546.64" y="405.3"/>
<rect class="bb" x="559.48" y="405.3"/>
<rect class="bb" x="572.32" y="405.3"/>
<rect class="bb" x="585.16" y="405.3"/>
<rect class="bb" x="598" y="405.3"/>
<rect class="bb" x="610.84" y="405.3"/>
<rect class="bb" x="623.68" y="405.3"/>
<rect class="bb" x="636.52" y="405.3"/>
<rect class="bb" x="649.36" y="405.3"/>
<rect class="bb" x="662.2" y="405.3"/>
<rect class="bb" x="675.04" y="405.3"/>
<rect class="bb" x="687.88" y="405.3"/>
<rect class="bb" x="700.72" y="405.3"/>
<rect class="bb" x="713.56" y="405.3"/>
<rect class="bb" x="726.4" y="405.3"/>
<rect class="bb" x="739.24" y="405.3"/>
<rect class="bb" x="752.08" y="405.3"/>
<rect class="bb" x="764.92" y="405.3"/>
<rect class="bb" x="777.76" y="405.3"/>
<rect class="bb" x="790.6" y="405.3"/>
<rect class="bb" x="803.44" y="405.3"/>
<rect class="bb" x="816.28" y="405.3"/>
<rect class="bb" x="829.12" y="405.3"/>
<rect class="bb" x="841.96" y="405.3"/>
<rect class="bb" x="854.8" y="405.3"/>
<rect class="bb" x="867.64" y="405.3"/>
<rect class="bb" x="880.48" y="405.3"/>
<rect class="bb" x="893.32" y="405.3"/>
<rect class="bb" x="906.16" y="405.3"/>
<rect class="bb" x="919" y="405.3"/>
<rect class="bb" x="931.84" y="405.3"/>
<rect class="bb" x="944.68" y="405.3"/>
<rect class="bb" x="957.52" y="405.3"/>
<rect class="bb" x="970.36" y="405.3"/>
<rect class="bb" x="983.2" y="405.3"/>
<rect class="bb" x="996.04" y="405.3"/>
<rect class="bb" x="1008.88" y="405.3"/>
<rect class="bb" x="1021.72" y="405.3"/>
<rect class="bb" x="1034.56" y="405.3"/>
<rect class="bb" x="1047.4" y="405.3"/>
<rect class="bb" x="1060.24" y="405.3"/>
<rect class="bb" x="1073.08" y="405.3"/>
<rect class="bb" x="1085.92" y="405.3"/>
<rect class="bb" x="1098.76" y="405.3"/>
<rect class="bb" x="148.6" y="439.65"/>
<rect class="bb" x="161.44" y="439.65"/>
<rect class="bb" x="174.28" y="439.65"/>
<rect class="bb" x="187.12" y="439.65"/>
<rect class="bb" x="199.96" y="439.65"/>
<rect class="bb" x="212.8" y="439.65"/>
<rect class="bb" x="225.64" y="439.65"/>
<rect class="bb" x="238.48" y="439.65"/>
<rect class="bb" x="251.32" y="439.65"/>
<rect class="bb" x="264.16" y="439.65"/>
<rect class="bb" x="277" y="439.65"/>
<rect class="bb" x="289.84" y="439.65"/>
<rect class="bb" x="302.68" y="439.65"/>
<rect class="bb" x="315.52" y="439.65"/>
<rect class="bb" x="328.36" y="439.65"/>
<rect class="bb" x="341.2" y="439.65"/>
<rect class="bb" x="354.04" y="439.65"/>
<rect class="bb" x="366.88" y="439.65"/>
<rect class="bb" x="379.72" y="439.65"/>
<rect class="bb" x="392.56" y="439.65"/>
<rect class="bb" x="405.4" y="439.65"/>
<rect class="bb" x="418.24" y="439.65"/>
<rect class="bb" x="431.08" y="439.65"/>
<rect class="bb" x="443.92" y="439.65"/>
<rect class="bb" x="456.76" y="439.65"/>
<rect class="bb" x="469.6" y="439.65"/>
<rect class="bb" x="482.44" y="439.65"/>
<rect class="bb" x="495.28" y="439.65"/>
<rect class="bb" x="508.12" y="439.65"/>
<rect class="bb" x="520.96" y="439.65"/>
<rect class="bb" x="533.8" y="439.65"/>
<rect class="bb" x="546.64" y="439.65"/>
<rect class="bb" x="559.48" y="439.65"/>
<rect class="bb" x="572.32" y="439.65"/>
<rect class="bb" x="585.16" y="439.65"/>
<rect class="bb" x="598" y="439.65"/>
<rect class="bb" x="610.84" y="439.65"/>
<rect class="bb" x="623.68" y="439.65"/>
<rect class="bb" x="636.52" y="439.65"/>
<rect class="bb" x="649.36" y="439.65"/>
<rect class="bb" x="662.2" y="439.65"/>
<rect class="bb" x="675.04" y="439.65"/>
<rect class="bb" x="687.88" y="439.65"/>
<rect class="bb" x="700.72" y="439.65"/>
<rect class="bb" x="713.56" y="439.65"/>
<rect class="bb" x="726.4" y="439.65"/>
<rect class="bb" x="739.24" y="439.65"/>
<rect class="bb" x="752.08" y="439.65"/>
<rect class="bb" x="764.92" y="439.65"/>
<rect class="bb" x="777.76" y="439.65"/>
<rect class="bb" x="790.6" y="439.65"/>
<rect class="bb" x="803.44" y="439.65"/>
<rect class="bb" x="816.28" y="439.65"/>
<rect class="bb" x="829.12" y="439.65"/>
<rect class="bb" x="841.96" y="439.65"/>
<rect class="bb" x="854.8" y="439.65"/>
<rect class="bb" x="867.64" y="439.65"/>
<rect class="bb" x="880.48" y="439.65"/>
<rect class="bb" x="893.32" y="439.65"/>
<rect class="bb" x="906.16" y="439.65"/>
<rect class="bb" x="919" y="439.65"/>
<rect class="bb" x="931.84" y="439.65"/>
<rect class="bb" x="944.68" y="439.65"/>
<rect class="bb" x="957.52" y="439.65"/>
<rect class="bb" x="970.36" y="439.65"/>
<rect class="bb" x="983.2" y="439.65"/>
<rect class="bb" x="996.04" y="439.65"/>
<rect class="bb" x="1008.88" y="439.65"/>
<rect class="bb" x="1021.72" y="439.65"/>
<rect class="bb" x="1034.56" y="439.65"/>
<rect class="bb" x="1047.4" y="439.65"/>
<rect class="bb" x="1060.24" y="439.65"/>
<rect class="bb" x="1073.08" y="439.65"/>
<rect class="bb" x="1085.92" y="439.65"/>
<rect class="bb" x="1098.76" y="439.65"/>
<rect class="bb" x="148.6" y="474"/>
<rect class="bb" x="161.44" y="474"/>
<rect class="bb" x="174.28" y="474"/>
<rect class="bb" x="187.12" y="474"/>
<rect class="bb" x="199.96" y="474"/>
<rect class="bb" x="212.8" y="474"/>
<rect class="bb" x="225.64" y="474"/>
<rect class="bb" x="238.48" y="474"/>
<rect class="bb" x="251.32" y="474"/>
<rect class="bb" x="264.16" y="474"/>
<rect class="bb" x="277" y="474"/>
<rect class="bb" x="289.84" y="474"/>
<rect class="bb" x="302.68" y="474"/>
<rect class="bb" x="315.52" y="474"/>
<rect class="bb" x="328.36" y="474"/>
<rect class="bb" x="341.2" y="474"/>
<rect class="bb" x="354.04" y="474"/>
<rect class="bb" x="366.88" y="474"/>
<rect class="bb" x="379.72" y="474"/>
<rect class="bb" x="392.56" y="474"/>
<rect class="bb" x="405.4" y="474"/>
<rect class="bb" x="418.24" y="474"/>
<rect class="bb" x="431.08" y="474"/>
<rect class="bb" x="443.92" y="474"/>
<rect class="bb" x="456.76" y="474"/>
<rect class="bb" x="469.6" y="474"/>
<rect class="bb" x="482.44" y="474"/>
<rect class="bb" x="495.28" y="474"/>
<rect class="bb" x="508.12" y="474"/>
<rect class="bb" x="520.96" y="474"/>
<rect class="bb" x="533.8" y="474"/>
<rect class="bb" x="546.64" y="474"/>
<rect class="bb" x="559.48" y="474"/>
<rect class="bb" x="572.32" y="474"/>
<rect class="bb" x="585.16" y="474"/>
<rect class="bb" x="598" y="474"/>
<rect class="bb" x="610.84" y="474"/>
<rect class="bb" x="623.68" y="474"/>
<rect class="bb" x="636.52" y="474"/>
<rect class="bb" x="649.36" y="474"/>
<rect class="bb" x="662.2" y="474"/>
<rect class="bb" x="675.04" y="474"/>
<rect class="bb" x="687.88" y="474"/>
<rect class="bb" x="700.72" y="474"/>
<rect class="bb" x="713.56" y="474"/>
<rect class="bb" x="726.4" y="474"/>
<rect class="bb" x="739.24" y="474"/>
<rect class="bb" x="752.08" y="474"/>
<rect class="bb" x="764.92" y="474"/>
<rect class="bb" x="777.76" y="474"/>
<rect class="bb" x="790.6" y="474"/>
<rect class="bb" x="803.44" y="474"/>
<rect class="bb" x="816.28" y="474"/>
<rect class="bb" x="829.12" y="474"/>
<rect class="bb" x="841.96" y="474"/>
<rect class="bb" x="854.8" y="474"/>
<rect class="bb" x="867.64" y="474"/>
<rect class="bb" x="880.48" y="474"/>
<rect class="bb" x="893.32" y="474"/>
<rect class="bb" x="906.16" y="474"/>
<rect class="bb" x="919" y="474"/>
<rect class="bb" x="931.84" y="474"/>
<rect class="bb" x="944.68" y="474"/>
<rect class="bb" x="957.52" y="474"/>
<rect class="bb" x="970.36" y="474"/>
<rect class="bb" x="983.2" y="474"/>
<rect class="bb" x="996.04" y="474"/>
<rect class="bb" x="1008.88" y="474"/>
<rect class="bb" x="1021.72" y="474"/>
<rect class="bb" x="1034.56" y="474"/>
<rect class="bb" x="1047.4" y="474"/>
<rect class="bb" x="1060.24" y="474"/>
<rect class="bb" x="1073.08" y="474"/>
<rect class="bb" x="1085.92" y="474"/>
<rect class="bb" x="1098.76" y="474"/>
<rect class="bb" x="148.6" y="508.35"/>
<rect class="bb" x="161.44" y="508.35"/>
<rect class="bb" x="174.28" y="508.35"/>
<rect class="bb" x="187.12" y="508.35"/>
<rect class="bb" x="199.96" y="508.35"/>
<rect class="bb" x="212.8" y="508.35"/>
<rect class="bb" x="225.64" y="508.35"/>
<rect class="bb" x="238.48" y="508.35"/>
<rect class="bb" x="251.32" y="508.35"/>
<rect class="bb" x="264.16" y="508.35"/>
<rect class="bb" x="277" y="508.35"/>
<rect class="bb" x="289.84" y="508.35"/>
<rect class="bb" x="302.68" y="508.35"/>
<rect class="bb" x="315.52" y="508.35"/>
<rect class="bb" x="328.36" y="508.35"/>
<rect class="bb" x="341.2" y="508.35"/>
<rect class="bb" x="354.04" y="508.35"/>
<rect class="bb" x="366.88" y="508.35"/>
<rect class="bb" x="379.72" y="508.35"/>
<rect class="bb" x="392.56" y="508.35"/>
<rect class="bb" x="405.4" y="508.35"/>
<rect class="bb" x="418.24" y="508.35"/>
<rect class="bb" x="431.08" y="508.35"/>
<rect class="bb" x="443.92" y="508.35"/>
<rect class="bb" x="456.76" y="508.35"/>
<rect class="bb" x="469.6" y="508.35"/>
<rect class="bb" x="482.44" y="508.35"/>
<rect class="bb" x="495.28" y="508.35"/>
<rect class="bb" x="508.12" y="508.35"/>
<rect class="bb" x="520.96" y="508.35"/>
<rect class="bb" x="533.8" y="508.35"/>
<rect class="bb" x="546.64" y="508.35"/>
<rect class="bb" x="559.48" y="508.35"/>
<rect class="bb" x="572.32" y="508.35"/>
<rect class="bb" x="585.16" y="508.35"/>
<rect class="bb" x="598" y="508.35"/>
<rect class="bb" x="610.84" y="508.35"/>
<rect class="bb" x="623.68" y="508.35"/>
<rect class="bb" x="636.52" y="508.35"/>
<rect class="bb" x="649.36" y="508.35"/>
<rect class="bb" x="662.2" y="508.35"/>
<rect class="bb" x="675.04" y="508.35"/>
<rect class="bb" x="687.88" y="508.35"/>
<rect class="bb" x="700.72" y="508.35"/>
<rect class="bb" x="713.56" y="508.35"/>
<rect class="bb" x="726.4" y="508.35"/>
<rect class="bb" x="739.24" y="508.35"/>
<rect class="bb" x="752.08" y="508.35"/>
<rect class="bb" x="764.92" y="508.35"/>
<rect class="bb" x="777.76" y="508.35"/>
<rect class="bb" x="790.6" y="508.35"/>
<rect class="bb" x="803.44" y="508.35"/>
<rect class="bb" x="816.28" y="508.35"/>
<rect class="bb" x="829.12" y="508.35"/>
<rect class="bb" x="841.96" y="508.35"/>
<rect class="bb" x="854.8" y="508.35"/>
<rect class="bb" x="867.64" y="508.35"/>
<rect class="bb" x="880.48" y="508.35"/>
<rect class="bb" x="893.32" y="508.35"/>
<rect class="bb" x="906.16" y="508.35"/>
<rect class="bb" x="919" y="508.35"/>
<rect class="bb" x="931.84" y="508.35"/>
<rect class="bb" x="944.68" y="508.35"/>
<rect class="bb" x="957.52" y="508.35"/>
<rect class="bb" x="970.36" y="508.35"/>
<rect class="bb" x="983.2" y="508.35"/>
<rect class="bb" x="996.04" y="508.35"/>
<rect class="bb" x="1008.88" y="508.35"/>
<rect class="bb" x="1021.72" y="508.35"/>
<rect class="bb" x="1034.56" y="508.35"/>
<rect class="bb" x="1047.4" y="508.35"/>
<rect class="bb" x="1060.24" y="508.35"/>
<rect class="bb" x="1073.08" y="508.35"/>
<rect class="bb" x="1085.92" y="508.35"/>
<rect class="bb" x="1098.76" y="508.35"/>
<rect class="bb" x="148.6" y="542.7"/>
<rect class="bb" x="161.44" y="542.7"/>
<rect class="bb" x="174.28" y="542.7"/>
<rect class="bb" x="187.12" y="542.7"/>
<rect class="bb" x="199.96" y="542.7"/>
<rect class="bb" x="212.8" y="542.7"/>
<rect class="bb" x="225.64" y="542.7"/>
<rect class="bb" x="238.48" y="542.7"/>
<rect class="bb" x="251.32" y="542.7"/>
<rect class="bb" x="264.16" y="542.7"/>
<rect class="bb" x="277" y="542.7"/>
<rect class="bb" x="289.84" y="542.7"/>
<rect class="bb" x="302.68" y="542.7"/>
<rect class="bb" x="315.52" y="542.7"/>
<rect class="bb" x="328.36" y="542.7"/>
<rect class="bb" x="341.2" y="542.7"/>
<rect class="bb" x="354.04" y="542.7"/>
<rect class="bb" x="366.88" y="542.7"/>
<rect class="bb" x="379.72" y="542.7"/>
<rect class="bb" x="392.56" y="542.7"/>
<rect class="bb" x="405.4" y="542.7"/>
<rect class="bb" x="418.24" y="542.7"/>
<rect class="bb" x="431.08" y="542.7"/>
<rect class="bb" x="443.92" y="542.7"/>
<rect class="bb" x="456.76" y="542.7"/>
<rect class="bb" x="469.6" y="542.7"/>
<rect class="bb" x="482.44" y="542.7"/>
<rect class="bb" x="495.28" y="542.7"/>
<rect class="bb" x="508.12" y="542.7"/>
<rect class="bb" x="520.96" y="542.7"/>
<rect class="bb" x="533.8" y="542.7"/>
<rect class="bb" x="546.64" y="542.7"/>
<rect class="bb" x="559.48" y="542.7"/>
<rect class="bb" x="572.32" y="542.7"/>
<rect class="bb" x="585.16" y="542.7"/>
<rect class="bb" x="598" y="542.7"/>
<rect class="bb" x="610.84" y="542.7"/>
<rect class="bb" x="623.68" y="542.7"/>
<rect class="bb" x="636.52" y="542.7"/>
<rect class="bb" x="649.36" y="542.7"/>
<rect class="bb" x="662.2" y="542.7"/>
<rect class="bb" x="675.04" y="542.7"/>
<rect class="bb" x="687.88" y="542.7"/>
<rect class="bb" x="700.72" y="542.7"/>
<rect class="bb" x="713.56" y="542.7"/>
<rect class="bb" x="726.4" y="542.7"/>
<rect class="bb" x="739.24" y="542.7"/>
<rect class="bb" x="752.08" y="542.7"/>
<rect class="bb" x="764.92" y="542.7"/>
<rect class="bb" x="777.76" y="542.7"/>
<rect class="bb" x="790.6" y="542.7"/>
<rect class="bb" x="803.44" y="542.7"/>
<rect class="bb" x="816.28" y="542.7"/>
<rect class="bb" x="829.12" y="542.7"/>
<rect class="bb" x="841.96" y="542.7"/>
<rect class="bb" x="854.8" y="542.7"/>
<rect class="bb" x="867.64" y="542.7"/>
<rect class="bb" x="880.48" y="542.7"/>
<rect class="bb" x="893.32" y="542.7"/>
<rect class="bb" x="906.16" y="542.7"/>
<rect class="bb" x="919" y="542.7"/>
<rect class="bb" x="931.84" y="542.7"/>
<rect class="bb" x="944.68" y="542.7"/>
<rect class="bb" x="957.52" y="542.7"/>
<rect class="bb" x="970.36" y="542.7"/>
<rect class="bb" x="983.2" y="542.7"/>
<rect class="bb" x="996.04" y="542.7"/>
<rect class="bb" x="1008.88" y="542.7"/>
<rect class="bb" x="1021.72" y="542.7"/>
<rect class="bb" x="1034.56" y="542.7"/>
<rect class="bb" x="1047.4" y="542.7"/>
<rect class="bb" x="1060.24" y="542.7"/>
<rect class="bb" x="1073.08" y="542.7"/>
<rect class="bb" x="1085.92" y="542.7"/>
<rect class="bb" x="1098.76" y="542.7"/>
<rect class="bb k3" x="148.6" y="336.6"/>
<rect class="bb k3" x="161.44" y="336.6"/>
<rect class="bb k3" x="174.28" y="336.6"/>
<rect class="bb k3" x="187.12" y="336.6"/>
<rect class="bb k3" x="199.96" y="336.6"/>
<rect class="bb k3" x="212.8" y="336.6"/>
<rect class="bb k3" x="225.64" y="336.6"/>
<rect class="bb k3" x="238.48" y="336.6"/>
<rect class="bb k0" x="251.32" y="336.6"/>
<rect class="bb k0" x="264.16" y="336.6"/>
<rect class="bb k0" x="277" y="336.6"/>
<rect class="bb k0" x="289.84" y="336.6"/>
<rect class="bb k0" x="302.68" y="336.6"/>
<rect class="bb k0" x="315.52" y="336.6"/>
<rect class="bb k0" x="328.36" y="336.6"/>
<rect class="bb k0" x="341.2" y="336.6"/>
<rect class="bb k0" x="354.04" y="336.6"/>
<rect class="bb k0" x="366.88" y="336.6"/>
<rect class="bb k0" x="379.72" y="336.6"/>
<rect class="bb k0" x="392.56" y="336.6"/>
<rect class="bb k0" x="405.4" y="336.6"/>
<rect class="bb k0" x="418.24" y="336.6"/>
<rect class="bb k0" x="431.08" y="336.6"/>
<rect class="bb k0" x="443.92" y="336.6"/>
<rect class="bb k0" x="456.76" y="336.6"/>
<rect class="bb k0" x="469.6" y="336.6"/>
<rect class="bb k4" x="482.44" y="336.6"/>
<rect class="bb k4" x="495.28" y="336.6"/>
<rect class="bb k4" x="508.12" y="336.6"/>
<rect class="bb k4" x="520.96" y="336.6"/>
<rect class="bb k4" x="533.8" y="336.6"/>
<rect class="bb k4" x="546.64" y="336.6"/>
<rect class="bb k4" x="559.48" y="336.6"/>
<rect x="148.6" y="349.2" width="11.55" height="7.8" fill="#9b9b9b" fill-opacity="0.54"/>
<rect x="161.44" y="349.2" width="11.55" height="7.8" fill="#9b9b9b" fill-opacity="0.54"/>
<rect x="174.28" y="349.2" width="11.55" height="7.8" fill="#9b9b9b" fill-opacity="0.54"/>
<rect x="187.12" y="349.2" width="11.55" height="7.8" fill="#9b9b9b" fill-opacity="0.54"/>
<rect x="199.96" y="349.2" width="11.55" height="7.8" fill="#9b9b9b" fill-opacity="0.54"/>
<rect x="212.8" y="349.2" width="11.55" height="7.8" fill="#9b9b9b" fill-opacity="0.54"/>
<rect x="225.64" y="349.2" width="11.55" height="7.8" fill="#9b9b9b" fill-opacity="0.54"/>
<rect x="238.48" y="349.2" width="11.55" height="7.8" fill="#9b9b9b" fill-opacity="0.54"/>
<rect x="392.56" y="349.2" width="11.55" height="7.8" fill="#9b9b9b" fill-opacity="0.54"/>
<rect x="405.4" y="349.2" width="11.55" height="7.8" fill="#9b9b9b" fill-opacity="0.54"/>
<rect x="418.24" y="349.2" width="11.55" height="7.8" fill="#9b9b9b" fill-opacity="0.54"/>
<rect x="431.08" y="349.2" width="11.55" height="7.8" fill="#9b9b9b" fill-opacity="0.54"/>
<rect x="649.36" y="349.2" width="11.55" height="7.8" fill="#9b9b9b" fill-opacity="0.54"/>
<rect x="713.56" y="349.2" width="11.55" height="7.8" fill="#9b9b9b" fill-opacity="0.54"/>
<rect x="752.08" y="349.2" width="11.55" height="7.8" fill="#9b9b9b" fill-opacity="0.54"/>
<rect x="790.6" y="349.2" width="11.55" height="7.8" fill="#9b9b9b" fill-opacity="0.54"/>
<rect x="829.12" y="349.2" width="11.55" height="7.8" fill="#9b9b9b" fill-opacity="0.54"/>
<rect x="841.96" y="349.2" width="11.55" height="7.8" fill="#9b9b9b" fill-opacity="0.54"/>
<rect x="854.8" y="349.2" width="11.55" height="7.8" fill="#9b9b9b" fill-opacity="0.54"/>
<rect x="893.32" y="349.2" width="11.55" height="7.8" fill="#9b9b9b" fill-opacity="0.54"/>
<rect x="906.16" y="349.2" width="11.55" height="7.8" fill="#9b9b9b" fill-opacity="0.54"/>
<rect x="919" y="349.2" width="11.55" height="7.8" fill="#9b9b9b" fill-opacity="0.54"/>
<rect x="931.84" y="349.2" width="11.55" height="7.8" fill="#9b9b9b" fill-opacity="0.54"/>
<rect x="944.68" y="349.2" width="11.55" height="7.8" fill="#9b9b9b" fill-opacity="0.54"/>
<rect x="957.52" y="349.2" width="11.55" height="7.8" fill="#9b9b9b" fill-opacity="0.54"/>
<rect x="983.2" y="349.2" width="11.55" height="7.8" fill="#9b9b9b" fill-opacity="0.54"/>
<rect x="1047.4" y="349.2" width="11.55" height="7.8" fill="#9b9b9b" fill-opacity="0.54"/>
<rect x="1060.24" y="349.2" width="11.55" height="7.8" fill="#9b9b9b" fill-opacity="0.54"/>
<rect x="1073.08" y="349.2" width="11.55" height="7.8" fill="#9b9b9b" fill-opacity="0.54"/>
<rect class="bb k0" x="251.32" y="370.95"/>
<rect class="bb k0" x="264.16" y="370.95"/>
<rect class="bb k0" x="482.44" y="370.95"/>
<rect class="bb k0" x="572.32" y="370.95"/>
<rect class="bb k0" x="585.16" y="370.95"/>
<rect class="bb k0" x="598" y="370.95"/>
<rect class="bb k0" x="610.84" y="370.95"/>
<rect class="bb k0" x="623.68" y="370.95"/>
<rect class="bb k0" x="636.52" y="370.95"/>
<rect class="bb k0" x="649.36" y="370.95"/>
<rect class="bb k0" x="662.2" y="370.95"/>
<rect class="bb k0" x="675.04" y="370.95"/>
<rect class="bb k0" x="687.88" y="370.95"/>
<rect class="bb k4" x="277" y="370.95"/>
<rect class="bb k4" x="495.28" y="370.95"/>
<rect class="bb k4" x="508.12" y="370.95"/>
<rect class="bb k4" x="700.72" y="370.95"/>
<rect class="bb k0" x="289.84" y="405.3"/>
<rect class="bb k0" x="302.68" y="405.3"/>
<rect class="bb k0" x="315.52" y="405.3"/>
<rect class="bb k0" x="572.32" y="405.3"/>
<rect class="bb k0" x="713.56" y="405.3"/>
<rect class="bb k0" x="726.4" y="405.3"/>
<rect class="bb k4" x="277" y="405.3"/>
<rect class="bb k4" x="482.44" y="405.3"/>
<rect class="bb k4" x="495.28" y="405.3"/>
<rect class="bb k4" x="520.96" y="405.3"/>
<rect class="bb k4" x="585.16" y="405.3"/>
<rect class="bb k4" x="598" y="405.3"/>
<rect class="bb k4" x="610.84" y="405.3"/>
<rect class="bb k4" x="623.68" y="405.3"/>
<rect class="bb k4" x="739.24" y="405.3"/>
<rect class="bb k4" x="752.08" y="405.3"/>
<rect class="bb k4" x="764.92" y="405.3"/>
<rect class="bb k4" x="777.76" y="405.3"/>
<rect class="bm" x="148.6" y="450.65"/>
<rect class="bm" x="328.36" y="450.65"/>
<rect class="bm" x="341.2" y="450.65"/>
<rect class="bm" x="354.04" y="450.65"/>
<rect class="bm" x="366.88" y="450.65"/>
<rect class="bm" x="379.72" y="450.65"/>
<rect class="bm" x="508.12" y="450.65"/>
<rect class="bm" x="520.96" y="450.65"/>
<rect class="bm" x="533.8" y="450.65"/>
<rect class="bm" x="546.64" y="450.65"/>
<rect class="bm" x="559.48" y="450.65"/>
<rect class="bm" x="572.32" y="450.65"/>
<rect class="bm" x="585.16" y="450.65"/>
<rect class="bm" x="636.52" y="450.65"/>
<rect class="bm" x="649.36" y="450.65"/>
<rect class="bm" x="700.72" y="450.65"/>
<rect class="bm" x="739.24" y="450.65"/>
<rect class="bm" x="752.08" y="450.65"/>
<rect class="bm" x="764.92" y="450.65"/>
<rect class="bm" x="790.6" y="450.65"/>
<rect class="bm" x="803.44" y="450.65"/>
<rect class="bm" x="816.28" y="450.65"/>
<rect class="bm" x="829.12" y="450.65"/>
<rect class="bm" x="841.96" y="450.65"/>
<rect class="bm" x="854.8" y="450.65"/>
<rect class="bm" x="867.64" y="450.65"/>
<rect class="bm" x="880.48" y="450.65"/>
<rect class="bm" x="893.32" y="450.65"/>
<rect class="bm" x="906.16" y="450.65"/>
<rect class="bm" x="919" y="450.65"/>
<rect class="bm" x="931.84" y="450.65"/>
<rect class="bm" x="161.44" y="485"/>
<rect class="bm" x="174.28" y="485"/>
<rect class="bm" x="187.12" y="485"/>
<rect class="bm" x="199.96" y="485"/>
<rect class="bm" x="392.56" y="485"/>
<rect class="bm" x="405.4" y="485"/>
<rect class="bm" x="533.8" y="485"/>
<rect class="bm" x="546.64" y="485"/>
<rect class="bm" x="598" y="485"/>
<rect class="bm" x="713.56" y="485"/>
<rect class="bm" x="739.24" y="485"/>
<rect class="bm" x="790.6" y="485"/>
<rect class="bm" x="803.44" y="485"/>
<rect class="bm" x="816.28" y="485"/>
<rect class="bm" x="829.12" y="485"/>
<rect class="bm" x="841.96" y="485"/>
<rect class="bm" x="854.8" y="485"/>
<rect class="bm" x="867.64" y="485"/>
<rect class="bm" x="880.48" y="485"/>
<rect class="bm" x="944.68" y="485"/>
<rect class="bm" x="957.52" y="485"/>
<rect class="bm" x="328.36" y="519.35"/>
<rect class="bm" x="392.56" y="519.35"/>
<rect class="bm" x="418.24" y="519.35"/>
<rect class="bm" x="495.28" y="519.35"/>
<rect class="bm" x="662.2" y="519.35"/>
<rect class="bm" x="752.08" y="519.35"/>
<rect class="bm" x="790.6" y="519.35"/>
<rect class="bm" x="803.44" y="519.35"/>
<rect class="bm" x="893.32" y="519.35"/>
<rect class="bm" x="944.68" y="519.35"/>
<rect class="bm" x="970.36" y="519.35"/>
<rect class="bm" x="148.6" y="553.7"/>
<rect class="bm" x="161.44" y="553.7"/>
<rect class="bm" x="174.28" y="553.7"/>
<rect class="bm" x="212.8" y="553.7"/>
<rect class="bm" x="341.2" y="553.7"/>
<rect class="bm" x="405.4" y="553.7"/>
<rect class="bm" x="431.08" y="553.7"/>
<rect class="bm" x="713.56" y="553.7"/>
<rect class="bm" x="739.24" y="553.7"/>
<rect class="bm" x="893.32" y="553.7"/>
<rect class="bm" x="983.2" y="553.7"/>
<text x="137.8" y="346.8" text-anchor="end">Lymphocryptovirus</text>
<text x="137.8" y="367.1" text-anchor="end">Lytic)</text>
<text x="75" y="367.1">(</text>
<rect x="83.1" y="356.3" width="11.6" height="11.8" fill="#bf2229"/>
<text x="134.8" y="392.5" text-anchor="end">CMV</text>
<text x="135.3" y="426.9" text-anchor="end">Roseolovirus</text>
<text x="136.8" y="461.2" text-anchor="end" font-style="italic">TP53</text>
<text x="136.8" y="495.5" text-anchor="end" font-style="italic">ARID1A</text>
<text x="136.8" y="529.8" text-anchor="end" font-style="italic">CDKN2A</text>
<text x="136.8" y="564.2" text-anchor="end" font-style="italic">PIK3CA</text>
<text x="1118.8" y="357.9"><tspan font-style="italic">n</tspan> = 33</text>
<text x="1118.8" y="392.25"><tspan font-style="italic">n</tspan> = 17</text>
<text x="1118.8" y="426.6"><tspan font-style="italic">n</tspan> = 18</text>
<text x="1118.8" y="460.95"><tspan font-style="italic">n</tspan> = 31</text>
<text x="1118.8" y="495.3"><tspan font-style="italic">n</tspan> = 21</text>
<text x="1118.8" y="529.65"><tspan font-style="italic">n</tspan> = 11</text>
<text x="1118.8" y="564"><tspan font-style="italic">n</tspan> = 11</text>
<rect x="149.2" y="586.8" width="18.2" height="18" fill="#e0322a"/>
<text x="177" y="602.3">Virus positive</text>
<rect x="302" y="586.8" width="18.5" height="18" fill="#0c9c4a"/>
<text x="328" y="602.3">Driver mutations</text>
<rect x="475.8" y="586.8" width="18.5" height="18" fill="#b3b3b3"/>
<text x="503" y="602.3">RNA-seq available</text>
<rect x="149.2" y="612.3" width="18.2" height="18.2" fill="#f7b132"/>
<text x="177" y="628">Virus positive only in non-malignant solid tissue/adjecent to tumor</text>
<text x="2" y="661" font-size="17" font-weight="bold" stroke="#000" stroke-width="0.55">c</text>
<text x="205" y="670.8">Cervix</text>
<circle cx="268.7" cy="665.2" r="9.6" fill="#90d0e1"/>
<text x="477.8" y="670.8">Head/neck</text>
<circle cx="574.2" cy="665.2" r="9.6" fill="#9a3a33"/>
<rect x="148.6" y="683.3" width="7.25" height="15.5" rx="1.6" fill="#a6dade"/>
<rect x="157.23" y="683.3" width="7.25" height="15.5" rx="1.6" fill="#a6dade"/>
<rect x="165.87" y="683.3" width="7.25" height="15.5" rx="1.6" fill="#a6dade"/>
<rect x="174.5" y="683.3" width="7.25" height="15.5" rx="1.6" fill="#a6dade"/>
<rect x="183.14" y="683.3" width="7.25" height="15.5" rx="1.6" fill="#a6dade"/>
<rect x="191.77" y="683.3" width="7.25" height="15.5" rx="1.6" fill="#a6dade"/>
<rect x="200.4" y="683.3" width="7.25" height="15.5" rx="1.6" fill="#a6dade"/>
<rect x="209.04" y="683.3" width="7.25" height="15.5" rx="1.6" fill="#a6dade"/>
<rect x="217.67" y="683.3" width="7.25" height="15.5" rx="1.6" fill="#a6dade"/>
<rect x="226.31" y="683.3" width="7.25" height="15.5" rx="1.6" fill="#a6dade"/>
<rect x="234.94" y="683.3" width="7.25" height="15.5" rx="1.6" fill="#a6dade"/>
<rect x="243.57" y="683.3" width="7.25" height="15.5" rx="1.6" fill="#a6dade"/>
<rect x="252.21" y="683.3" width="7.25" height="15.5" rx="1.6" fill="#a6dade"/>
<rect x="260.84" y="683.3" width="7.25" height="15.5" rx="1.6" fill="#a6dade"/>
<rect x="269.48" y="683.3" width="7.25" height="15.5" rx="1.6" fill="#a6dade"/>
<rect x="278.11" y="683.3" width="7.25" height="15.5" rx="1.6" fill="#a6dade"/>
<rect x="286.74" y="683.3" width="7.25" height="15.5" rx="1.6" fill="#a6dade"/>
<rect x="295.38" y="683.3" width="7.25" height="15.5" rx="1.6" fill="#a6dade"/>
<rect x="304.01" y="683.3" width="7.25" height="15.5" rx="1.6" fill="#a6dade"/>
<rect x="312.65" y="683.3" width="7.25" height="15.5" rx="1.6" fill="#a6dade"/>
<rect x="321.28" y="683.3" width="7.25" height="15.5" rx="1.6" fill="#8b211c"/>
<rect x="329.91" y="683.3" width="7.25" height="15.5" rx="1.6" fill="#8b211c"/>
<rect x="338.55" y="683.3" width="7.25" height="15.5" rx="1.6" fill="#8b211c"/>
<rect x="347.18" y="683.3" width="7.25" height="15.5" rx="1.6" fill="#8b211c"/>
<rect x="355.82" y="683.3" width="7.25" height="15.5" rx="1.6" fill="#8b211c"/>
<rect x="364.45" y="683.3" width="7.25" height="15.5" rx="1.6" fill="#8b211c"/>
<rect x="373.08" y="683.3" width="7.25" height="15.5" rx="1.6" fill="#8b211c"/>
<rect x="381.72" y="683.3" width="7.25" height="15.5" rx="1.6" fill="#8b211c"/>
<rect x="390.35" y="683.3" width="7.25" height="15.5" rx="1.6" fill="#8b211c"/>
<rect x="398.99" y="683.3" width="7.25" height="15.5" rx="1.6" fill="#8b211c"/>
<rect x="407.62" y="683.3" width="7.25" height="15.5" rx="1.6" fill="#8b211c"/>
<rect x="416.25" y="683.3" width="7.25" height="15.5" rx="1.6" fill="#8b211c"/>
<rect x="424.89" y="683.3" width="7.25" height="15.5" rx="1.6" fill="#8b211c"/>
<rect x="433.52" y="683.3" width="7.25" height="15.5" rx="1.6" fill="#8b211c"/>
<rect x="442.16" y="683.3" width="7.25" height="15.5" rx="1.6" fill="#8b211c"/>
<rect x="450.79" y="683.3" width="7.25" height="15.5" rx="1.6" fill="#8b211c"/>
<rect x="459.42" y="683.3" width="7.25" height="15.5" rx="1.6" fill="#8b211c"/>
<rect x="468.06" y="683.3" width="7.25" height="15.5" rx="1.6" fill="#8b211c"/>
<rect x="476.69" y="683.3" width="7.25" height="15.5" rx="1.6" fill="#8b211c"/>
<rect x="485.33" y="683.3" width="7.25" height="15.5" rx="1.6" fill="#8b211c"/>
<rect x="493.96" y="683.3" width="7.25" height="15.5" rx="1.6" fill="#8b211c"/>
<rect x="502.59" y="683.3" width="7.25" height="15.5" rx="1.6" fill="#8b211c"/>
<rect x="511.23" y="683.3" width="7.25" height="15.5" rx="1.6" fill="#8b211c"/>
<rect x="519.86" y="683.3" width="7.25" height="15.5" rx="1.6" fill="#8b211c"/>
<rect x="528.5" y="683.3" width="7.25" height="15.5" rx="1.6" fill="#8b211c"/>
<rect x="537.13" y="683.3" width="7.25" height="15.5" rx="1.6" fill="#8b211c"/>
<rect x="545.76" y="683.3" width="7.25" height="15.5" rx="1.6" fill="#8b211c"/>
<rect x="554.4" y="683.3" width="7.25" height="15.5" rx="1.6" fill="#8b211c"/>
<rect x="563.03" y="683.3" width="7.25" height="15.5" rx="1.6" fill="#8b211c"/>
<rect x="571.67" y="683.3" width="7.25" height="15.5" rx="1.6" fill="#8b211c"/>
<rect x="580.3" y="683.3" width="7.25" height="15.5" rx="1.6" fill="#8b211c"/>
<rect x="588.93" y="683.3" width="7.25" height="15.5" rx="1.6" fill="#8b211c"/>
<rect x="597.57" y="683.3" width="7.25" height="15.5" rx="1.6" fill="#8b211c"/>
<rect x="606.2" y="683.3" width="7.25" height="15.5" rx="1.6" fill="#8b211c"/>
<rect x="614.84" y="683.3" width="7.25" height="15.5" rx="1.6" fill="#8b211c"/>
<rect x="623.47" y="683.3" width="7.25" height="15.5" rx="1.6" fill="#8b211c"/>
<rect x="632.1" y="683.3" width="7.25" height="15.5" rx="1.6" fill="#8b211c"/>
<rect x="640.74" y="683.3" width="7.25" height="15.5" rx="1.6" fill="#8b211c"/>
<rect x="649.37" y="683.3" width="7.25" height="15.5" rx="1.6" fill="#8b211c"/>
<rect x="658.01" y="683.3" width="7.25" height="15.5" rx="1.6" fill="#8b211c"/>
<rect x="666.64" y="683.3" width="7.25" height="15.5" rx="1.6" fill="#8b211c"/>
<rect x="675.27" y="683.3" width="7.25" height="15.5" rx="1.6" fill="#8b211c"/>
<rect x="683.91" y="683.3" width="7.25" height="15.5" rx="1.6" fill="#8b211c"/>
<rect x="692.54" y="683.3" width="7.25" height="15.5" rx="1.6" fill="#8b211c"/>
<rect x="701.18" y="683.3" width="7.25" height="15.5" rx="1.6" fill="#8b211c"/>
<rect x="709.81" y="683.3" width="7.25" height="15.5" rx="1.6" fill="#8b211c"/>
<rect x="718.44" y="683.3" width="7.25" height="15.5" rx="1.6" fill="#8b211c"/>
<rect x="727.08" y="683.3" width="7.25" height="15.5" rx="1.6" fill="#8b211c"/>
<rect x="735.71" y="683.3" width="7.25" height="15.5" rx="1.6" fill="#8b211c"/>
<rect x="744.35" y="683.3" width="7.25" height="15.5" rx="1.6" fill="#8b211c"/>
<rect x="752.98" y="683.3" width="7.25" height="15.5" rx="1.6" fill="#8b211c"/>
<rect x="761.61" y="683.3" width="7.25" height="15.5" rx="1.6" fill="#8b211c"/>
<rect x="770.25" y="683.3" width="7.25" height="15.5" rx="1.6" fill="#8b211c"/>
<rect x="778.88" y="683.3" width="7.25" height="15.5" rx="1.6" fill="#8b211c"/>
<rect x="787.52" y="683.3" width="7.25" height="15.5" rx="1.6" fill="#8b211c"/>
<rect x="796.15" y="683.3" width="7.25" height="15.5" rx="1.6" fill="#8b211c"/>
<rect x="804.78" y="683.3" width="7.25" height="15.5" rx="1.6" fill="#8b211c"/>
<rect class="cb" x="148.6" y="705.1"/>
<rect class="cb" x="157.23" y="705.1"/>
<rect class="cb" x="165.87" y="705.1"/>
<rect class="cb" x="174.5" y="705.1"/>
<rect class="cb" x="183.14" y="705.1"/>
<rect class="cb" x="191.77" y="705.1"/>
<rect class="cb" x="200.4" y="705.1"/>
<rect class="cb" x="209.04" y="705.1"/>
<rect class="cb" x="217.67" y="705.1"/>
<rect class="cb" x="226.31" y="705.1"/>
<rect class="cb" x="234.94" y="705.1"/>
<rect class="cb" x="243.57" y="705.1"/>
<rect class="cb" x="252.21" y="705.1"/>
<rect class="cb" x="260.84" y="705.1"/>
<rect class="cb" x="269.48" y="705.1"/>
<rect class="cb" x="278.11" y="705.1"/>
<rect class="cb" x="286.74" y="705.1"/>
<rect class="cb" x="295.38" y="705.1"/>
<rect class="cb" x="304.01" y="705.1"/>
<rect class="cb" x="312.65" y="705.1"/>
<rect class="cb" x="321.28" y="705.1"/>
<rect class="cb" x="329.91" y="705.1"/>
<rect class="cb" x="338.55" y="705.1"/>
<rect class="cb" x="347.18" y="705.1"/>
<rect class="cb" x="355.82" y="705.1"/>
<rect class="cb" x="364.45" y="705.1"/>
<rect class="cb" x="373.08" y="705.1"/>
<rect class="cb" x="381.72" y="705.1"/>
<rect class="cb" x="390.35" y="705.1"/>
<rect class="cb" x="398.99" y="705.1"/>
<rect class="cb" x="407.62" y="705.1"/>
<rect class="cb" x="416.25" y="705.1"/>
<rect class="cb" x="424.89" y="705.1"/>
<rect class="cb" x="433.52" y="705.1"/>
<rect class="cb" x="442.16" y="705.1"/>
<rect class="cb" x="450.79" y="705.1"/>
<rect class="cb" x="459.42" y="705.1"/>
<rect class="cb" x="468.06" y="705.1"/>
<rect class="cb" x="476.69" y="705.1"/>
<rect class="cb" x="485.33" y="705.1"/>
<rect class="cb" x="493.96" y="705.1"/>
<rect class="cb" x="502.59" y="705.1"/>
<rect class="cb" x="511.23" y="705.1"/>
<rect class="cb" x="519.86" y="705.1"/>
<rect class="cb" x="528.5" y="705.1"/>
<rect class="cb" x="537.13" y="705.1"/>
<rect class="cb" x="545.76" y="705.1"/>
<rect class="cb" x="554.4" y="705.1"/>
<rect class="cb" x="563.03" y="705.1"/>
<rect class="cb" x="571.67" y="705.1"/>
<rect class="cb" x="580.3" y="705.1"/>
<rect class="cb" x="588.93" y="705.1"/>
<rect class="cb" x="597.57" y="705.1"/>
<rect class="cb" x="606.2" y="705.1"/>
<rect class="cb" x="614.84" y="705.1"/>
<rect class="cb" x="623.47" y="705.1"/>
<rect class="cb" x="632.1" y="705.1"/>
<rect class="cb" x="640.74" y="705.1"/>
<rect class="cb" x="649.37" y="705.1"/>
<rect class="cb" x="658.01" y="705.1"/>
<rect class="cb" x="666.64" y="705.1"/>
<rect class="cb" x="675.27" y="705.1"/>
<rect class="cb" x="683.91" y="705.1"/>
<rect class="cb" x="692.54" y="705.1"/>
<rect class="cb" x="701.18" y="705.1"/>
<rect class="cb" x="709.81" y="705.1"/>
<rect class="cb" x="718.44" y="705.1"/>
<rect class="cb" x="727.08" y="705.1"/>
<rect class="cb" x="735.71" y="705.1"/>
<rect class="cb" x="744.35" y="705.1"/>
<rect class="cb" x="752.98" y="705.1"/>
<rect class="cb" x="761.61" y="705.1"/>
<rect class="cb" x="770.25" y="705.1"/>
<rect class="cb" x="778.88" y="705.1"/>
<rect class="cb" x="787.52" y="705.1"/>
<rect class="cb" x="796.15" y="705.1"/>
<rect class="cb" x="804.78" y="705.1"/>
<rect class="cb" x="148.6" y="741.2"/>
<rect class="cb" x="157.23" y="741.2"/>
<rect class="cb" x="165.87" y="741.2"/>
<rect class="cb" x="174.5" y="741.2"/>
<rect class="cb" x="183.14" y="741.2"/>
<rect class="cb" x="191.77" y="741.2"/>
<rect class="cb" x="200.4" y="741.2"/>
<rect class="cb" x="209.04" y="741.2"/>
<rect class="cb" x="217.67" y="741.2"/>
<rect class="cb" x="226.31" y="741.2"/>
<rect class="cb" x="234.94" y="741.2"/>
<rect class="cb" x="243.57" y="741.2"/>
<rect class="cb" x="252.21" y="741.2"/>
<rect class="cb" x="260.84" y="741.2"/>
<rect class="cb" x="269.48" y="741.2"/>
<rect class="cb" x="278.11" y="741.2"/>
<rect class="cb" x="286.74" y="741.2"/>
<rect class="cb" x="295.38" y="741.2"/>
<rect class="cb" x="304.01" y="741.2"/>
<rect class="cb" x="312.65" y="741.2"/>
<rect class="cb" x="321.28" y="741.2"/>
<rect class="cb" x="329.91" y="741.2"/>
<rect class="cb" x="338.55" y="741.2"/>
<rect class="cb" x="347.18" y="741.2"/>
<rect class="cb" x="355.82" y="741.2"/>
<rect class="cb" x="364.45" y="741.2"/>
<rect class="cb" x="373.08" y="741.2"/>
<rect class="cb" x="381.72" y="741.2"/>
<rect class="cb" x="390.35" y="741.2"/>
<rect class="cb" x="398.99" y="741.2"/>
<rect class="cb" x="407.62" y="741.2"/>
<rect class="cb" x="416.25" y="741.2"/>
<rect class="cb" x="424.89" y="741.2"/>
<rect class="cb" x="433.52" y="741.2"/>
<rect class="cb" x="442.16" y="741.2"/>
<rect class="cb" x="450.79" y="741.2"/>
<rect class="cb" x="459.42" y="741.2"/>
<rect class="cb" x="468.06" y="741.2"/>
<rect class="cb" x="476.69" y="741.2"/>
<rect class="cb" x="485.33" y="741.2"/>
<rect class="cb" x="493.96" y="741.2"/>
<rect class="cb" x="502.59" y="741.2"/>
<rect class="cb" x="511.23" y="741.2"/>
<rect class="cb" x="519.86" y="741.2"/>
<rect class="cb" x="528.5" y="741.2"/>
<rect class="cb" x="537.13" y="741.2"/>
<rect class="cb" x="545.76" y="741.2"/>
<rect class="cb" x="554.4" y="741.2"/>
<rect class="cb" x="563.03" y="741.2"/>
<rect class="cb" x="571.67" y="741.2"/>
<rect class="cb" x="580.3" y="741.2"/>
<rect class="cb" x="588.93" y="741.2"/>
<rect class="cb" x="597.57" y="741.2"/>
<rect class="cb" x="606.2" y="741.2"/>
<rect class="cb" x="614.84" y="741.2"/>
<rect class="cb" x="623.47" y="741.2"/>
<rect class="cb" x="632.1" y="741.2"/>
<rect class="cb" x="640.74" y="741.2"/>
<rect class="cb" x="649.37" y="741.2"/>
<rect class="cb" x="658.01" y="741.2"/>
<rect class="cb" x="666.64" y="741.2"/>
<rect class="cb" x="675.27" y="741.2"/>
<rect class="cb" x="683.91" y="741.2"/>
<rect class="cb" x="692.54" y="741.2"/>
<rect class="cb" x="701.18" y="741.2"/>
<rect class="cb" x="709.81" y="741.2"/>
<rect class="cb" x="718.44" y="741.2"/>
<rect class="cb" x="727.08" y="741.2"/>
<rect class="cb" x="735.71" y="741.2"/>
<rect class="cb" x="744.35" y="741.2"/>
<rect class="cb" x="752.98" y="741.2"/>
<rect class="cb" x="761.61" y="741.2"/>
<rect class="cb" x="770.25" y="741.2"/>
<rect class="cb" x="778.88" y="741.2"/>
<rect class="cb" x="787.52" y="741.2"/>
<rect class="cb" x="796.15" y="741.2"/>
<rect class="cb" x="804.78" y="741.2"/>
<rect class="cb" x="148.6" y="777.3"/>
<rect class="cb" x="157.23" y="777.3"/>
<rect class="cb" x="165.87" y="777.3"/>
<rect class="cb" x="174.5" y="777.3"/>
<rect class="cb" x="183.14" y="777.3"/>
<rect class="cb" x="191.77" y="777.3"/>
<rect class="cb" x="200.4" y="777.3"/>
<rect class="cb" x="209.04" y="777.3"/>
<rect class="cb" x="217.67" y="777.3"/>
<rect class="cb" x="226.31" y="777.3"/>
<rect class="cb" x="234.94" y="777.3"/>
<rect class="cb" x="243.57" y="777.3"/>
<rect class="cb" x="252.21" y="777.3"/>
<rect class="cb" x="260.84" y="777.3"/>
<rect class="cb" x="269.48" y="777.3"/>
<rect class="cb" x="278.11" y="777.3"/>
<rect class="cb" x="286.74" y="777.3"/>
<rect class="cb" x="295.38" y="777.3"/>
<rect class="cb" x="304.01" y="777.3"/>
<rect class="cb" x="312.65" y="777.3"/>
<rect class="cb" x="321.28" y="777.3"/>
<rect class="cb" x="329.91" y="777.3"/>
<rect class="cb" x="338.55" y="777.3"/>
<rect class="cb" x="347.18" y="777.3"/>
<rect class="cb" x="355.82" y="777.3"/>
<rect class="cb" x="364.45" y="777.3"/>
<rect class="cb" x="373.08" y="777.3"/>
<rect class="cb" x="381.72" y="777.3"/>
<rect class="cb" x="390.35" y="777.3"/>
<rect class="cb" x="398.99" y="777.3"/>
<rect class="cb" x="407.62" y="777.3"/>
<rect class="cb" x="416.25" y="777.3"/>
<rect class="cb" x="424.89" y="777.3"/>
<rect class="cb" x="433.52" y="777.3"/>
<rect class="cb" x="442.16" y="777.3"/>
<rect class="cb" x="450.79" y="777.3"/>
<rect class="cb" x="459.42" y="777.3"/>
<rect class="cb" x="468.06" y="777.3"/>
<rect class="cb" x="476.69" y="777.3"/>
<rect class="cb" x="485.33" y="777.3"/>
<rect class="cb" x="493.96" y="777.3"/>
<rect class="cb" x="502.59" y="777.3"/>
<rect class="cb" x="511.23" y="777.3"/>
<rect class="cb" x="519.86" y="777.3"/>
<rect class="cb" x="528.5" y="777.3"/>
<rect class="cb" x="537.13" y="777.3"/>
<rect class="cb" x="545.76" y="777.3"/>
<rect class="cb" x="554.4" y="777.3"/>
<rect class="cb" x="563.03" y="777.3"/>
<rect class="cb" x="571.67" y="777.3"/>
<rect class="cb" x="580.3" y="777.3"/>
<rect class="cb" x="588.93" y="777.3"/>
<rect class="cb" x="597.57" y="777.3"/>
<rect class="cb" x="606.2" y="777.3"/>
<rect class="cb" x="614.84" y="777.3"/>
<rect class="cb" x="623.47" y="777.3"/>
<rect class="cb" x="632.1" y="777.3"/>
<rect class="cb" x="640.74" y="777.3"/>
<rect class="cb" x="649.37" y="777.3"/>
<rect class="cb" x="658.01" y="777.3"/>
<rect class="cb" x="666.64" y="777.3"/>
<rect class="cb" x="675.27" y="777.3"/>
<rect class="cb" x="683.91" y="777.3"/>
<rect class="cb" x="692.54" y="777.3"/>
<rect class="cb" x="701.18" y="777.3"/>
<rect class="cb" x="709.81" y="777.3"/>
<rect class="cb" x="718.44" y="777.3"/>
<rect class="cb" x="727.08" y="777.3"/>
<rect class="cb" x="735.71" y="777.3"/>
<rect class="cb" x="744.35" y="777.3"/>
<rect class="cb" x="752.98" y="777.3"/>
<rect class="cb" x="761.61" y="777.3"/>
<rect class="cb" x="770.25" y="777.3"/>
<rect class="cb" x="778.88" y="777.3"/>
<rect class="cb" x="787.52" y="777.3"/>
<rect class="cb" x="796.15" y="777.3"/>
<rect class="cb" x="804.78" y="777.3"/>
<rect class="cb" x="148.6" y="813.4"/>
<rect class="cb" x="157.23" y="813.4"/>
<rect class="cb" x="165.87" y="813.4"/>
<rect class="cb" x="174.5" y="813.4"/>
<rect class="cb" x="183.14" y="813.4"/>
<rect class="cb" x="191.77" y="813.4"/>
<rect class="cb" x="200.4" y="813.4"/>
<rect class="cb" x="209.04" y="813.4"/>
<rect class="cb" x="217.67" y="813.4"/>
<rect class="cb" x="226.31" y="813.4"/>
<rect class="cb" x="234.94" y="813.4"/>
<rect class="cb" x="243.57" y="813.4"/>
<rect class="cb" x="252.21" y="813.4"/>
<rect class="cb" x="260.84" y="813.4"/>
<rect class="cb" x="269.48" y="813.4"/>
<rect class="cb" x="278.11" y="813.4"/>
<rect class="cb" x="286.74" y="813.4"/>
<rect class="cb" x="295.38" y="813.4"/>
<rect class="cb" x="304.01" y="813.4"/>
<rect class="cb" x="312.65" y="813.4"/>
<rect class="cb" x="321.28" y="813.4"/>
<rect class="cb" x="329.91" y="813.4"/>
<rect class="cb" x="338.55" y="813.4"/>
<rect class="cb" x="347.18" y="813.4"/>
<rect class="cb" x="355.82" y="813.4"/>
<rect class="cb" x="364.45" y="813.4"/>
<rect class="cb" x="373.08" y="813.4"/>
<rect class="cb" x="381.72" y="813.4"/>
<rect class="cb" x="390.35" y="813.4"/>
<rect class="cb" x="398.99" y="813.4"/>
<rect class="cb" x="407.62" y="813.4"/>
<rect class="cb" x="416.25" y="813.4"/>
<rect class="cb" x="424.89" y="813.4"/>
<rect class="cb" x="433.52" y="813.4"/>
<rect class="cb" x="442.16" y="813.4"/>
<rect class="cb" x="450.79" y="813.4"/>
<rect class="cb" x="459.42" y="813.4"/>
<rect class="cb" x="468.06" y="813.4"/>
<rect class="cb" x="476.69" y="813.4"/>
<rect class="cb" x="485.33" y="813.4"/>
<rect class="cb" x="493.96" y="813.4"/>
<rect class="cb" x="502.59" y="813.4"/>
<rect class="cb" x="511.23" y="813.4"/>
<rect class="cb" x="519.86" y="813.4"/>
<rect class="cb" x="528.5" y="813.4"/>
<rect class="cb" x="537.13" y="813.4"/>
<rect class="cb" x="545.76" y="813.4"/>
<rect class="cb" x="554.4" y="813.4"/>
<rect class="cb" x="563.03" y="813.4"/>
<rect class="cb" x="571.67" y="813.4"/>
<rect class="cb" x="580.3" y="813.4"/>
<rect class="cb" x="588.93" y="813.4"/>
<rect class="cb" x="597.57" y="813.4"/>
<rect class="cb" x="606.2" y="813.4"/>
<rect class="cb" x="614.84" y="813.4"/>
<rect class="cb" x="623.47" y="813.4"/>
<rect class="cb" x="632.1" y="813.4"/>
<rect class="cb" x="640.74" y="813.4"/>
<rect class="cb" x="649.37" y="813.4"/>
<rect class="cb" x="658.01" y="813.4"/>
<rect class="cb" x="666.64" y="813.4"/>
<rect class="cb" x="675.27" y="813.4"/>
<rect class="cb" x="683.91" y="813.4"/>
<rect class="cb" x="692.54" y="813.4"/>
<rect class="cb" x="701.18" y="813.4"/>
<rect class="cb" x="709.81" y="813.4"/>
<rect class="cb" x="718.44" y="813.4"/>
<rect class="cb" x="727.08" y="813.4"/>
<rect class="cb" x="735.71" y="813.4"/>
<rect class="cb" x="744.35" y="813.4"/>
<rect class="cb" x="752.98" y="813.4"/>
<rect class="cb" x="761.61" y="813.4"/>
<rect class="cb" x="770.25" y="813.4"/>
<rect class="cb" x="778.88" y="813.4"/>
<rect class="cb" x="787.52" y="813.4"/>
<rect class="cb" x="796.15" y="813.4"/>
<rect class="cb" x="804.78" y="813.4"/>
<rect class="cb" x="148.6" y="849.5"/>
<rect class="cb" x="157.23" y="849.5"/>
<rect class="cb" x="165.87" y="849.5"/>
<rect class="cb" x="174.5" y="849.5"/>
<rect class="cb" x="183.14" y="849.5"/>
<rect class="cb" x="191.77" y="849.5"/>
<rect class="cb" x="200.4" y="849.5"/>
<rect class="cb" x="209.04" y="849.5"/>
<rect class="cb" x="217.67" y="849.5"/>
<rect class="cb" x="226.31" y="849.5"/>
<rect class="cb" x="234.94" y="849.5"/>
<rect class="cb" x="243.57" y="849.5"/>
<rect class="cb" x="252.21" y="849.5"/>
<rect class="cb" x="260.84" y="849.5"/>
<rect class="cb" x="269.48" y="849.5"/>
<rect class="cb" x="278.11" y="849.5"/>
<rect class="cb" x="286.74" y="849.5"/>
<rect class="cb" x="295.38" y="849.5"/>
<rect class="cb" x="304.01" y="849.5"/>
<rect class="cb" x="312.65" y="849.5"/>
<rect class="cb" x="321.28" y="849.5"/>
<rect class="cb" x="329.91" y="849.5"/>
<rect class="cb" x="338.55" y="849.5"/>
<rect class="cb" x="347.18" y="849.5"/>
<rect class="cb" x="355.82" y="849.5"/>
<rect class="cb" x="364.45" y="849.5"/>
<rect class="cb" x="373.08" y="849.5"/>
<rect class="cb" x="381.72" y="849.5"/>
<rect class="cb" x="390.35" y="849.5"/>
<rect class="cb" x="398.99" y="849.5"/>
<rect class="cb" x="407.62" y="849.5"/>
<rect class="cb" x="416.25" y="849.5"/>
<rect class="cb" x="424.89" y="849.5"/>
<rect class="cb" x="433.52" y="849.5"/>
<rect class="cb" x="442.16" y="849.5"/>
<rect class="cb" x="450.79" y="849.5"/>
<rect class="cb" x="459.42" y="849.5"/>
<rect class="cb" x="468.06" y="849.5"/>
<rect class="cb" x="476.69" y="849.5"/>
<rect class="cb" x="485.33" y="849.5"/>
<rect class="cb" x="493.96" y="849.5"/>
<rect class="cb" x="502.59" y="849.5"/>
<rect class="cb" x="511.23" y="849.5"/>
<rect class="cb" x="519.86" y="849.5"/>
<rect class="cb" x="528.5" y="849.5"/>
<rect class="cb" x="537.13" y="849.5"/>
<rect class="cb" x="545.76" y="849.5"/>
<rect class="cb" x="554.4" y="849.5"/>
<rect class="cb" x="563.03" y="849.5"/>
<rect class="cb" x="571.67" y="849.5"/>
<rect class="cb" x="580.3" y="849.5"/>
<rect class="cb" x="588.93" y="849.5"/>
<rect class="cb" x="597.57" y="849.5"/>
<rect class="cb" x="606.2" y="849.5"/>
<rect class="cb" x="614.84" y="849.5"/>
<rect class="cb" x="623.47" y="849.5"/>
<rect class="cb" x="632.1" y="849.5"/>
<rect class="cb" x="640.74" y="849.5"/>
<rect class="cb" x="649.37" y="849.5"/>
<rect class="cb" x="658.01" y="849.5"/>
<rect class="cb" x="666.64" y="849.5"/>
<rect class="cb" x="675.27" y="849.5"/>
<rect class="cb" x="683.91" y="849.5"/>
<rect class="cb" x="692.54" y="849.5"/>
<rect class="cb" x="701.18" y="849.5"/>
<rect class="cb" x="709.81" y="849.5"/>
<rect class="cb" x="718.44" y="849.5"/>
<rect class="cb" x="727.08" y="849.5"/>
<rect class="cb" x="735.71" y="849.5"/>
<rect class="cb" x="744.35" y="849.5"/>
<rect class="cb" x="752.98" y="849.5"/>
<rect class="cb" x="761.61" y="849.5"/>
<rect class="cb" x="770.25" y="849.5"/>
<rect class="cb" x="778.88" y="849.5"/>
<rect class="cb" x="787.52" y="849.5"/>
<rect class="cb" x="796.15" y="849.5"/>
<rect class="cb" x="804.78" y="849.5"/>
<rect class="cb" x="148.6" y="885.6"/>
<rect class="cb" x="157.23" y="885.6"/>
<rect class="cb" x="165.87" y="885.6"/>
<rect class="cb" x="174.5" y="885.6"/>
<rect class="cb" x="183.14" y="885.6"/>
<rect class="cb" x="191.77" y="885.6"/>
<rect class="cb" x="200.4" y="885.6"/>
<rect class="cb" x="209.04" y="885.6"/>
<rect class="cb" x="217.67" y="885.6"/>
<rect class="cb" x="226.31" y="885.6"/>
<rect class="cb" x="234.94" y="885.6"/>
<rect class="cb" x="243.57" y="885.6"/>
<rect class="cb" x="252.21" y="885.6"/>
<rect class="cb" x="260.84" y="885.6"/>
<rect class="cb" x="269.48" y="885.6"/>
<rect class="cb" x="278.11" y="885.6"/>
<rect class="cb" x="286.74" y="885.6"/>
<rect class="cb" x="295.38" y="885.6"/>
<rect class="cb" x="304.01" y="885.6"/>
<rect class="cb" x="312.65" y="885.6"/>
<rect class="cb" x="321.28" y="885.6"/>
<rect class="cb" x="329.91" y="885.6"/>
<rect class="cb" x="338.55" y="885.6"/>
<rect class="cb" x="347.18" y="885.6"/>
<rect class="cb" x="355.82" y="885.6"/>
<rect class="cb" x="364.45" y="885.6"/>
<rect class="cb" x="373.08" y="885.6"/>
<rect class="cb" x="381.72" y="885.6"/>
<rect class="cb" x="390.35" y="885.6"/>
<rect class="cb" x="398.99" y="885.6"/>
<rect class="cb" x="407.62" y="885.6"/>
<rect class="cb" x="416.25" y="885.6"/>
<rect class="cb" x="424.89" y="885.6"/>
<rect class="cb" x="433.52" y="885.6"/>
<rect class="cb" x="442.16" y="885.6"/>
<rect class="cb" x="450.79" y="885.6"/>
<rect class="cb" x="459.42" y="885.6"/>
<rect class="cb" x="468.06" y="885.6"/>
<rect class="cb" x="476.69" y="885.6"/>
<rect class="cb" x="485.33" y="885.6"/>
<rect class="cb" x="493.96" y="885.6"/>
<rect class="cb" x="502.59" y="885.6"/>
<rect class="cb" x="511.23" y="885.6"/>
<rect class="cb" x="519.86" y="885.6"/>
<rect class="cb" x="528.5" y="885.6"/>
<rect class="cb" x="537.13" y="885.6"/>
<rect class="cb" x="545.76" y="885.6"/>
<rect class="cb" x="554.4" y="885.6"/>
<rect class="cb" x="563.03" y="885.6"/>
<rect class="cb" x="571.67" y="885.6"/>
<rect class="cb" x="580.3" y="885.6"/>
<rect class="cb" x="588.93" y="885.6"/>
<rect class="cb" x="597.57" y="885.6"/>
<rect class="cb" x="606.2" y="885.6"/>
<rect class="cb" x="614.84" y="885.6"/>
<rect class="cb" x="623.47" y="885.6"/>
<rect class="cb" x="632.1" y="885.6"/>
<rect class="cb" x="640.74" y="885.6"/>
<rect class="cb" x="649.37" y="885.6"/>
<rect class="cb" x="658.01" y="885.6"/>
<rect class="cb" x="666.64" y="885.6"/>
<rect class="cb" x="675.27" y="885.6"/>
<rect class="cb" x="683.91" y="885.6"/>
<rect class="cb" x="692.54" y="885.6"/>
<rect class="cb" x="701.18" y="885.6"/>
<rect class="cb" x="709.81" y="885.6"/>
<rect class="cb" x="718.44" y="885.6"/>
<rect class="cb" x="727.08" y="885.6"/>
<rect class="cb" x="735.71" y="885.6"/>
<rect class="cb" x="744.35" y="885.6"/>
<rect class="cb" x="752.98" y="885.6"/>
<rect class="cb" x="761.61" y="885.6"/>
<rect class="cb" x="770.25" y="885.6"/>
<rect class="cb" x="778.88" y="885.6"/>
<rect class="cb" x="787.52" y="885.6"/>
<rect class="cb" x="796.15" y="885.6"/>
<rect class="cb" x="804.78" y="885.6"/>
<rect class="cb k0" x="148.6" y="705.1"/>
<rect class="cb k0" x="157.23" y="705.1"/>
<rect class="cb k0" x="165.87" y="705.1"/>
<rect class="cb k0" x="174.5" y="705.1"/>
<rect class="cb k0" x="183.14" y="705.1"/>
<rect class="cb k0" x="191.77" y="705.1"/>
<rect class="cb k0" x="200.4" y="705.1"/>
<rect class="cb k0" x="209.04" y="705.1"/>
<rect class="cb k0" x="217.67" y="705.1"/>
<rect class="cb k0" x="226.31" y="705.1"/>
<rect class="cb k0" x="234.94" y="705.1"/>
<rect class="cb k0" x="243.57" y="705.1"/>
<rect class="cb k0" x="252.21" y="705.1"/>
<rect class="cb k0" x="260.84" y="705.1"/>
<rect class="cb k0" x="269.48" y="705.1"/>
<rect class="cb k0" x="278.11" y="705.1"/>
<rect class="cb k0" x="286.74" y="705.1"/>
<rect class="cb k0" x="295.38" y="705.1"/>
<rect class="cb k0" x="304.01" y="705.1"/>
<rect class="cb k0" x="321.28" y="705.1"/>
<rect class="cb k0" x="329.91" y="705.1"/>
<rect class="cb k0" x="338.55" y="705.1"/>
<rect class="cb k0" x="347.18" y="705.1"/>
<rect class="cb k0" x="355.82" y="705.1"/>
<rect class="cb k0" x="364.45" y="705.1"/>
<rect class="cb k0" x="373.08" y="705.1"/>
<rect class="cb k0" x="381.72" y="705.1"/>
<rect class="cb k0" x="390.35" y="705.1"/>
<rect class="cb k0" x="398.99" y="705.1"/>
<rect class="cb k0" x="407.62" y="705.1"/>
<rect class="cb k0" x="416.25" y="705.1"/>
<rect class="cb k0" x="424.89" y="705.1"/>
<rect class="cb k0" x="433.52" y="705.1"/>
<rect class="cb k0" x="442.16" y="705.1"/>
<rect class="cb k0" x="450.79" y="705.1"/>
<rect class="cb k0" x="459.42" y="705.1"/>
<rect class="cb k0" x="468.06" y="705.1"/>
<rect class="cb k0" x="148.6" y="741.2"/>
<rect class="cb k0" x="157.23" y="741.2"/>
<rect class="cb k0" x="321.28" y="741.2"/>
<rect class="cb k0" x="329.91" y="741.2"/>
<rect class="cb k0" x="338.55" y="741.2"/>
<rect class="cb k0" x="347.18" y="741.2"/>
<rect class="cb k0" x="476.69" y="741.2"/>
<rect class="cb k0" x="485.33" y="741.2"/>
<rect class="cb k0" x="493.96" y="741.2"/>
<rect class="cb k0" x="502.59" y="741.2"/>
<rect class="cb k0" x="511.23" y="741.2"/>
<rect class="cb k0" x="519.86" y="741.2"/>
<rect class="cb k0" x="528.5" y="741.2"/>
<rect class="cb k0" x="537.13" y="741.2"/>
<rect class="cb k0" x="545.76" y="741.2"/>
<rect class="cb k0" x="554.4" y="741.2"/>
<rect class="cb k0" x="563.03" y="741.2"/>
<rect class="cb k0" x="571.67" y="741.2"/>
<rect class="cm" x="355.82" y="788.6"/>
<rect class="cm" x="476.69" y="788.6"/>
<rect class="cm" x="485.33" y="788.6"/>
<rect class="cm" x="493.96" y="788.6"/>
<rect class="cm" x="502.59" y="788.6"/>
<rect class="cm" x="511.23" y="788.6"/>
<rect class="cm" x="519.86" y="788.6"/>
<rect class="cm" x="528.5" y="788.6"/>
<rect class="cm" x="537.13" y="788.6"/>
<rect class="cm" x="545.76" y="788.6"/>
<rect class="cm" x="580.3" y="788.6"/>
<rect class="cm" x="588.93" y="788.6"/>
<rect class="cm" x="597.57" y="788.6"/>
<rect class="cm" x="606.2" y="788.6"/>
<rect class="cm" x="614.84" y="788.6"/>
<rect class="cm" x="623.47" y="788.6"/>
<rect class="cm" x="632.1" y="788.6"/>
<rect class="cm" x="640.74" y="788.6"/>
<rect class="cm" x="649.37" y="788.6"/>
<rect class="cm" x="658.01" y="788.6"/>
<rect class="cm" x="666.64" y="788.6"/>
<rect class="cm" x="675.27" y="788.6"/>
<rect class="cm" x="683.91" y="788.6"/>
<rect class="cm" x="692.54" y="788.6"/>
<rect class="cm" x="701.18" y="788.6"/>
<rect class="cm" x="709.81" y="788.6"/>
<rect class="cm" x="718.44" y="788.6"/>
<rect class="cm" x="727.08" y="788.6"/>
<rect class="cm" x="735.71" y="788.6"/>
<rect class="cm" x="744.35" y="788.6"/>
<rect class="cm" x="493.96" y="824.7"/>
<rect class="cm" x="502.59" y="824.7"/>
<rect class="cm" x="511.23" y="824.7"/>
<rect class="cm" x="519.86" y="824.7"/>
<rect class="cm" x="528.5" y="824.7"/>
<rect class="cm" x="537.13" y="824.7"/>
<rect class="cm" x="554.4" y="824.7"/>
<rect class="cm" x="571.67" y="824.7"/>
<rect class="cm" x="580.3" y="824.7"/>
<rect class="cm" x="588.93" y="824.7"/>
<rect class="cm" x="597.57" y="824.7"/>
<rect class="cm" x="606.2" y="824.7"/>
<rect class="cm" x="649.37" y="824.7"/>
<rect class="cm" x="658.01" y="824.7"/>
<rect class="cm" x="666.64" y="824.7"/>
<rect class="cm" x="683.91" y="824.7"/>
<rect class="cm" x="692.54" y="824.7"/>
<rect class="cm" x="701.18" y="824.7"/>
<rect class="cm" x="709.81" y="824.7"/>
<rect class="cm" x="718.44" y="824.7"/>
<rect class="cm" x="727.08" y="824.7"/>
<rect class="cm" x="735.71" y="824.7"/>
<rect class="cm" x="752.98" y="824.7"/>
<rect class="cm" x="312.65" y="860.8"/>
<rect class="cm" x="321.28" y="860.8"/>
<rect class="cm" x="364.45" y="860.8"/>
<rect class="cm" x="476.69" y="860.8"/>
<rect class="cm" x="485.33" y="860.8"/>
<rect class="cm" x="493.96" y="860.8"/>
<rect class="cm" x="554.4" y="860.8"/>
<rect class="cm" x="563.03" y="860.8"/>
<rect class="cm" x="580.3" y="860.8"/>
<rect class="cm" x="588.93" y="860.8"/>
<rect class="cm" x="597.57" y="860.8"/>
<rect class="cm" x="606.2" y="860.8"/>
<rect class="cm" x="614.84" y="860.8"/>
<rect class="cm" x="623.47" y="860.8"/>
<rect class="cm" x="632.1" y="860.8"/>
<rect class="cm" x="640.74" y="860.8"/>
<rect class="cm" x="752.98" y="860.8"/>
<rect class="cm" x="761.61" y="860.8"/>
<rect class="cm" x="770.25" y="860.8"/>
<rect class="cm" x="778.88" y="860.8"/>
<rect class="cm" x="148.6" y="896.9"/>
<rect class="cm" x="157.23" y="896.9"/>
<rect class="cm" x="165.87" y="896.9"/>
<rect class="cm" x="312.65" y="896.9"/>
<rect class="cm" x="364.45" y="896.9"/>
<rect class="cm" x="373.08" y="896.9"/>
<rect class="cm" x="476.69" y="896.9"/>
<rect class="cm" x="485.33" y="896.9"/>
<rect class="cm" x="502.59" y="896.9"/>
<rect class="cm" x="511.23" y="896.9"/>
<rect class="cm" x="519.86" y="896.9"/>
<rect class="cm" x="554.4" y="896.9"/>
<rect class="cm" x="580.3" y="896.9"/>
<rect class="cm" x="649.37" y="896.9"/>
<rect class="cm" x="658.01" y="896.9"/>
<rect class="cm" x="666.64" y="896.9"/>
<rect class="cm" x="675.27" y="896.9"/>
<text x="137" y="729" text-anchor="end">Alphapapillomavirus</text>
<text x="137" y="765.3" text-anchor="end">Lymphocryptovirus</text>
<text x="138.8" y="801.3" text-anchor="end" font-style="italic">TP53</text>
<text x="138.8" y="837.5" text-anchor="end" font-style="italic">CDKN2A</text>
<text x="138.8" y="873.7" text-anchor="end" font-style="italic">TERT</text>
<text x="138.8" y="909.6" text-anchor="end" font-style="italic">FAT1</text>
<text x="816" y="727.25"><tspan font-style="italic">n</tspan> = 37</text>
<text x="816" y="763.35"><tspan font-style="italic">n</tspan> = 18</text>
<text x="816" y="799.45"><tspan font-style="italic">n</tspan> = 30</text>
<text x="816" y="835.55"><tspan font-style="italic">n</tspan> = 23</text>
<text x="816" y="871.65"><tspan font-style="italic">n</tspan> = 20</text>
<text x="816" y="907.75"><tspan font-style="italic">n</tspan> = 17</text>
<path d="M862.5 722.1H867V793.8H862.5" stroke="#222" stroke-width="1.3" fill="none"/>
<path d="M870.4 722.1H875.2V830.8H870.4" stroke="#222" stroke-width="1.3" fill="none"/>
<path d="M878.5 722.1H883V865.9H878.5" stroke="#222" stroke-width="1.3" fill="none"/>
<text x="887.6" y="796.2">*</text>
<rect x="149.5" y="934.4" width="18" height="18" fill="#e0322a"/>
<text x="175.8" y="949.8">Virus positive</text>
<rect x="302" y="934.4" width="18" height="18" fill="#0c9c4a"/>
<text x="329.6" y="949.8">Driver mutations</text>
<text x="918" y="661.2" font-size="17" font-weight="bold" stroke="#000" stroke-width="0.55">d</text>
<path d="M976.3 680.4H1195.6V991.3H976.3Z" stroke="#626262" stroke-width="1.3" fill="none"/>
<path d="M976.3 991.3V1301.6H1195.6" stroke="#626262" stroke-width="1.3" fill="none"/>
<path d="M1195.6 991.3V1301.6" stroke="#626262" stroke-width="1.3" fill="none"/>
<line x1="997.5" y1="991.3" x2="997.5" y2="996.3" stroke="#626262" stroke-width="1.3"/>
<line x1="997.5" y1="1301.6" x2="997.5" y2="1306.6" stroke="#626262" stroke-width="1.3"/>
<line x1="1032.8" y1="991.3" x2="1032.8" y2="996.3" stroke="#626262" stroke-width="1.3"/>
<line x1="1032.8" y1="1301.6" x2="1032.8" y2="1306.6" stroke="#626262" stroke-width="1.3"/>
<line x1="1068.2" y1="991.3" x2="1068.2" y2="996.3" stroke="#626262" stroke-width="1.3"/>
<line x1="1068.2" y1="1301.6" x2="1068.2" y2="1306.6" stroke="#626262" stroke-width="1.3"/>
<line x1="1103.8" y1="991.3" x2="1103.8" y2="996.3" stroke="#626262" stroke-width="1.3"/>
<line x1="1103.8" y1="1301.6" x2="1103.8" y2="1306.6" stroke="#626262" stroke-width="1.3"/>
<line x1="1139.3" y1="991.3" x2="1139.3" y2="996.3" stroke="#626262" stroke-width="1.3"/>
<line x1="1139.3" y1="1301.6" x2="1139.3" y2="1306.6" stroke="#626262" stroke-width="1.3"/>
<line x1="1174.6" y1="991.3" x2="1174.6" y2="996.3" stroke="#626262" stroke-width="1.3"/>
<line x1="1174.6" y1="1301.6" x2="1174.6" y2="1306.6" stroke="#626262" stroke-width="1.3"/>
<line x1="971" y1="977" x2="976.3" y2="977" stroke="#626262" stroke-width="1.3"/>
<text x="963.8" y="982.3" text-anchor="end">0</text>
<line x1="971" y1="882.25" x2="976.3" y2="882.25" stroke="#626262" stroke-width="1.3"/>
<text x="963.8" y="887.55" text-anchor="end">20</text>
<line x1="971" y1="787.5" x2="976.3" y2="787.5" stroke="#626262" stroke-width="1.3"/>
<text x="963.8" y="792.8" text-anchor="end">40</text>
<line x1="971" y1="692.75" x2="976.3" y2="692.75" stroke="#626262" stroke-width="1.3"/>
<text x="963.8" y="698.05" text-anchor="end">60</text>
<line x1="971" y1="1287.5" x2="976.3" y2="1287.5" stroke="#626262" stroke-width="1.3"/>
<text x="963.8" y="1292.8" text-anchor="end">0</text>
<line x1="971" y1="1186.25" x2="976.3" y2="1186.25" stroke="#626262" stroke-width="1.3"/>
<text x="963.8" y="1191.55" text-anchor="end">20</text>
<line x1="971" y1="1085" x2="976.3" y2="1085" stroke="#626262" stroke-width="1.3"/>
<text x="963.8" y="1090.3" text-anchor="end">40</text>
<text x="930.8" y="835.6" text-anchor="middle" transform="rotate(-90 930.8 835.6)">Mutational exposure of SBS2 (%)</text>
<text x="930.8" y="1147" text-anchor="middle" transform="rotate(-90 930.8 1147)">Mutational exposure of SBS13 (%)</text>
<path d="M998.8 753.5V748.2H1071.3V753.5" stroke="#000" stroke-width="1.8" fill="none"/>
<text x="1003.8" y="740.3"><tspan font-style="italic">P</tspan> = 0.02</text>
<circle class="dd k5" cx="993.83" cy="813.32"/>
<circle class="dd k5" cx="1002.36" cy="818.66"/>
<circle class="dd k5" cx="991.69" cy="828.56"/>
<circle class="dd k5" cx="1001.6" cy="852.48"/>
<circle class="dd k5" cx="1000.38" cy="857.51"/>
<circle class="dd k5" cx="998.09" cy="865.13"/>
<circle class="dd k5" cx="990.93" cy="867.11"/>
<circle class="dd k5" cx="993.98" cy="875.79"/>
<circle class="dd k5" cx="990.47" cy="885.24"/>
<circle class="dd k5" cx="998.09" cy="889.5"/>
<circle class="dd k5" cx="998.85" cy="903.21"/>
<circle class="dd k5" cx="991.69" cy="956.54"/>
<circle class="dd k5" cx="994.28" cy="976.34"/>
<circle class="dd k5" cx="998.55" cy="976.34"/>
<circle class="dd k5" cx="991.24" cy="881.88"/>
<circle class="dd k5" cx="995.81" cy="880.36"/>
<circle class="dd k5" cx="1000.38" cy="883.41"/>
<circle class="dd k5" cx="990.47" cy="878.84"/>
<circle class="dd k5" cx="997.33" cy="886.45"/>
<circle class="dd k6" cx="996.87" cy="786.66"/>
<circle class="dd k6" cx="1000.38" cy="796.87"/>
<circle class="dd k6" cx="995.04" cy="802.96"/>
<circle class="dd k6" cx="996.26" cy="813.63"/>
<circle class="dd k6" cx="1001.14" cy="814.09"/>
<circle class="dd k6" cx="998.85" cy="835.11"/>
<circle class="dd k6" cx="1001.44" cy="843.8"/>
<circle class="dd k6" cx="990.78" cy="860.1"/>
<circle class="dd k6" cx="996.87" cy="863.3"/>
<circle class="dd k6" cx="1001.14" cy="894.53"/>
<circle class="dd k6" cx="1000.83" cy="910.53"/>
<circle class="dd k6" cx="998.09" cy="922.72"/>
<circle class="dd k6" cx="991.69" cy="925.31"/>
<circle class="dd k6" cx="990.78" cy="931.4"/>
<circle class="dd k6" cx="995.5" cy="938.26"/>
<circle class="dd k6" cx="998.09" cy="944.35"/>
<circle class="dd k6" cx="1003.12" cy="947.85"/>
<circle class="dd k7" cx="996.87" cy="913.57"/>
<circle class="dd k7" cx="993.98" cy="928.35"/>
<circle class="dd k7" cx="1027.04" cy="811.04"/>
<circle class="dd k7" cx="1030.09" cy="809.52"/>
<circle class="dd k7" cx="1030.09" cy="813.63"/>
<circle class="dd k7" cx="1038.47" cy="817.59"/>
<circle class="dd k7" cx="1033.13" cy="832.06"/>
<circle class="dd k7" cx="1029.32" cy="837.24"/>
<circle class="dd k7" cx="1038.77" cy="846.84"/>
<circle class="dd k7" cx="1029.32" cy="853.39"/>
<circle class="dd k7" cx="1029.32" cy="871.68"/>
<circle class="dd k7" cx="1036.94" cy="887.98"/>
<circle class="dd k7" cx="1026.28" cy="898.64"/>
<circle class="dd k7" cx="1030.09" cy="899.41"/>
<circle class="dd k7" cx="1028.26" cy="916.16"/>
<circle class="dd k7" cx="1029.32" cy="924.85"/>
<circle class="dd k7" cx="1032.83" cy="938.71"/>
<circle class="dd k7" cx="1030.09" cy="947.7"/>
<circle class="dd k7" cx="1028.26" cy="954.25"/>
<circle class="dd k7" cx="1028.26" cy="958.06"/>
<circle class="dd k7" cx="1037.4" cy="958.37"/>
<circle class="dd k7" cx="1037.4" cy="961.11"/>
<circle class="dd k7" cx="1033.9" cy="884.17"/>
<circle class="dd k6" cx="1073.51" cy="817.13"/>
<circle class="dd k6" cx="1067.41" cy="824.75"/>
<circle class="dd k6" cx="1067.41" cy="875.03"/>
<circle class="dd k6" cx="1074.27" cy="876.25"/>
<circle class="dd k6" cx="1072.29" cy="883.1"/>
<circle class="dd k6" cx="1063.91" cy="886.91"/>
<circle class="dd k6" cx="1073.51" cy="896.05"/>
<circle class="dd k6" cx="1071.53" cy="900.17"/>
<circle class="dd k6" cx="1075.79" cy="901.39"/>
<circle class="dd k6" cx="1065.13" cy="912.66"/>
<circle class="dd k6" cx="1066.96" cy="919.21"/>
<circle class="dd k6" cx="1075.79" cy="922.26"/>
<circle class="dd k6" cx="1067.41" cy="925.31"/>
<circle class="dd k6" cx="1067.41" cy="935.21"/>
<circle class="dd k6" cx="1070.46" cy="939.02"/>
<circle class="dd k6" cx="1064.37" cy="945.11"/>
<circle class="dd k6" cx="1072.75" cy="945.11"/>
<circle class="dd k6" cx="1065.89" cy="949.68"/>
<circle class="dd k6" cx="1068.94" cy="952.73"/>
<circle class="dd k6" cx="1073.51" cy="952.27"/>
<circle class="dd k6" cx="1075.34" cy="958.37"/>
<circle class="dd k6" cx="1062.08" cy="961.11"/>
<circle class="dd k6" cx="1065.89" cy="966.44"/>
<circle class="dd k6" cx="1071.22" cy="964.92"/>
<circle class="dd k6" cx="1075.03" cy="969.49"/>
<circle class="dd k6" cx="1063.6" cy="976.34"/>
<circle class="dd k6" cx="1067.41" cy="976.34"/>
<circle class="dd k6" cx="1071.22" cy="976.34"/>
<circle class="dd k6" cx="1066.79" cy="934.49"/>
<circle class="dd k6" cx="1070.78" cy="930.9"/>
<circle class="dd k6" cx="1069.37" cy="944.31"/>
<circle class="dd k6" cx="1063.55" cy="950.78"/>
<circle class="dd k6" cx="1063.3" cy="947.41"/>
<circle class="dd k6" cx="1063.69" cy="931.74"/>
<circle class="dd k6" cx="1068.02" cy="965.38"/>
<circle class="dd k6" cx="1064.35" cy="937.79"/>
<circle class="dd k6" cx="1070.49" cy="970.91"/>
<circle class="dd k6" cx="1069.88" cy="945.72"/>
<circle class="dd k6" cx="1074.74" cy="929.72"/>
<circle class="dd k8" cx="1100.39" cy="694.39"/>
<circle class="dd k8" cx="1102.45" cy="716.6"/>
<circle class="dd k8" cx="1104.5" cy="733.05"/>
<circle class="dd k8" cx="1099.78" cy="741.07"/>
<circle class="dd k8" cx="1104.5" cy="771.5"/>
<circle class="dd k8" cx="1111.7" cy="784.24"/>
<circle class="dd k8" cx="1111.08" cy="791.03"/>
<circle class="dd k8" cx="1110.26" cy="795.55"/>
<circle class="dd k8" cx="1108.21" cy="801.93"/>
<circle class="dd k8" cx="1100.39" cy="809.53"/>
<circle class="dd k8" cx="1104.92" cy="809.12"/>
<circle class="dd k8" cx="1108.62" cy="821.87"/>
<circle class="dd k8" cx="1099.36" cy="828.04"/>
<circle class="dd k8" cx="1102.45" cy="834.21"/>
<circle class="dd k8" cx="1111.7" cy="836.67"/>
<circle class="dd k8" cx="1106.56" cy="839.35"/>
<circle class="dd k8" cx="1099.36" cy="846.95"/>
<circle class="dd k8" cx="1106.15" cy="846.13"/>
<circle class="dd k8" cx="1105.53" cy="859.5"/>
<circle class="dd k8" cx="1104.09" cy="863.61"/>
<circle class="dd k8" cx="1099.36" cy="874.92"/>
<circle class="dd k8" cx="1100.8" cy="882.52"/>
<circle class="dd k8" cx="1106.56" cy="880.47"/>
<circle class="dd k8" cx="1111.7" cy="886.23"/>
<circle class="dd k8" cx="1097.93" cy="888.69"/>
<circle class="dd k8" cx="1110.26" cy="890.75"/>
<circle class="dd k8" cx="1108.62" cy="895.89"/>
<circle class="dd k8" cx="1106.56" cy="901.03"/>
<circle class="dd k8" cx="1110.67" cy="903.7"/>
<circle class="dd k8" cx="1098.95" cy="905.55"/>
<circle class="dd k8" cx="1105.94" cy="907.2"/>
<circle class="dd k8" cx="1100.39" cy="912.34"/>
<circle class="dd k8" cx="1110.67" cy="915.42"/>
<circle class="dd k8" cx="1098.34" cy="918.51"/>
<circle class="dd k8" cx="1106.56" cy="919.53"/>
<circle class="dd k8" cx="1109.65" cy="920.56"/>
<circle class="dd k8" cx="1105.53" cy="926.73"/>
<circle class="dd k8" cx="1111.7" cy="931.87"/>
<circle class="dd k8" cx="1110.55" cy="944.21"/>
<circle class="dd k8" cx="1099.53" cy="937.5"/>
<circle class="dd k8" cx="1102.07" cy="964.78"/>
<circle class="dd k8" cx="1100.1" cy="955.62"/>
<circle class="dd k8" cx="1107.16" cy="947.45"/>
<circle class="dd k8" cx="1105.76" cy="935.35"/>
<circle class="dd k8" cx="1098.23" cy="940.95"/>
<circle class="dd k8" cx="1107.8" cy="949.6"/>
<circle class="dd k8" cx="1102.15" cy="955.77"/>
<circle class="dd k8" cx="1104.3" cy="944.61"/>
<circle class="dd k8" cx="1109.56" cy="960.21"/>
<circle class="dd k8" cx="1101.07" cy="955.34"/>
<circle class="dd k8" cx="1105.41" cy="967.09"/>
<circle class="dd k8" cx="1108.56" cy="944.15"/>
<circle class="dd k8" cx="1112.42" cy="937.51"/>
<circle class="dd k8" cx="1103.76" cy="962.48"/>
<circle class="dd k8" cx="1099.65" cy="952"/>
<circle class="dd k8" cx="1097.91" cy="959"/>
<circle class="dd k8" cx="1109.1" cy="955.28"/>
<circle class="dd k8" cx="1110.81" cy="945.16"/>
<circle class="dd k8" cx="1108.03" cy="956.12"/>
<circle class="dd k8" cx="1106.25" cy="950.72"/>
<circle class="dd k8" cx="1110.26" cy="969.8"/>
<circle class="dd k8" cx="1104.62" cy="958.84"/>
<circle class="dd k8" cx="1098.24" cy="960.3"/>
<circle class="dd k8" cx="1107.29" cy="971.7"/>
<circle class="dd k8" cx="1109.98" cy="944.02"/>
<circle class="dd k8" cx="1103.26" cy="959.02"/>
<circle class="dd k8" cx="1097.66" cy="950.94"/>
<circle class="dd k8" cx="1099.9" cy="937.47"/>
<circle class="dd k8" cx="1098.22" cy="962.91"/>
<circle class="dd k8" cx="1099.3" cy="942.57"/>
<circle class="dd k8" cx="1103.34" cy="966.94"/>
<circle class="dd k8" cx="1098.55" cy="950.45"/>
<circle class="dd k8" cx="1105.78" cy="967.41"/>
<circle class="dd k8" cx="1109.94" cy="966.65"/>
<circle class="dd k8" cx="1101.6" cy="949.12"/>
<circle class="dd k8" cx="1102.84" cy="967.44"/>
<circle class="dd k8" cx="1112.08" cy="938.79"/>
<circle class="dd k8" cx="1100.03" cy="941.96"/>
<circle class="dd k8" cx="1100.91" cy="951.84"/>
<circle class="dd k8" cx="1106.39" cy="943.16"/>
<circle class="dd k8" cx="1097.37" cy="949.27"/>
<circle class="dd k8" cx="1103" cy="955.02"/>
<circle class="dd k8" cx="1112.01" cy="959.87"/>
<circle class="dd k8" cx="1105.26" cy="957.03"/>
<circle class="dd k8" cx="1107.74" cy="935.01"/>
<circle class="dd k8" cx="1111.18" cy="963.37"/>
<circle class="dd k8" cx="1110.79" cy="964.07"/>
<circle class="dd k8" cx="1103.36" cy="948.49"/>
<circle class="dd k8" cx="1098.91" cy="957.68"/>
<circle class="dd k8" cx="1098.27" cy="935.53"/>
<circle class="dd k8" cx="1100.53" cy="939.24"/>
<circle class="dd k8" cx="1102.55" cy="934.95"/>
<circle class="dd k8" cx="1097.31" cy="938.81"/>
<circle class="dd k8" cx="1098.87" cy="947.1"/>
<circle class="dd k8" cx="1097.7" cy="967.06"/>
<circle class="dd k8" cx="1106.78" cy="938.7"/>
<circle class="dd k8" cx="1101.2" cy="946.47"/>
<circle class="dd k8" cx="1102.92" cy="937.7"/>
<circle class="dd k8" cx="1110.4" cy="971.7"/>
<circle class="dd k8" cx="1104.49" cy="951.8"/>
<circle class="dd k8" cx="1098.63" cy="936.89"/>
<circle class="dd k8" cx="1102.59" cy="943.24"/>
<circle class="dd k8" cx="1110.09" cy="939.21"/>
<circle class="dd k8" cx="1097.66" cy="970.05"/>
<circle class="dd k8" cx="1105.45" cy="938.63"/>
<circle class="dd k8" cx="1105.68" cy="933.96"/>
<circle class="dd k8" cx="1105.45" cy="971.12"/>
<circle class="dd k8" cx="1110.62" cy="960.1"/>
<circle class="dd k8" cx="1101.34" cy="947.22"/>
<circle class="dd k8" cx="1099.88" cy="963.06"/>
<circle class="dd k8" cx="1105.52" cy="963.33"/>
<circle class="dd k8" cx="1102.39" cy="941.61"/>
<circle class="dd k8" cx="1109.82" cy="971.38"/>
<circle class="dd k8" cx="1110.46" cy="964.39"/>
<circle class="dd k8" cx="1109.93" cy="961.8"/>
<circle class="dd k8" cx="1100.8" cy="953.12"/>
<circle class="dd k8" cx="1102.79" cy="934.03"/>
<circle class="dd k8" cx="1097.74" cy="943.81"/>
<circle class="dd k8" cx="1101.31" cy="959.95"/>
<circle class="dd k8" cx="1112.06" cy="950.37"/>
<circle class="dd k8" cx="1111.76" cy="971.5"/>
<circle class="dd k8" cx="1112.04" cy="947.14"/>
<circle class="dd k8" cx="1100.71" cy="941.76"/>
<circle class="dd k8" cx="1100.34" cy="940.88"/>
<circle class="dd k8" cx="1106.93" cy="968.07"/>
<circle class="dd k8" cx="1110.27" cy="951.63"/>
<circle class="dd k8" cx="1107.38" cy="964.14"/>
<circle class="dd k8" cx="1098.62" cy="958.71"/>
<circle class="dd k8" cx="1111.34" cy="963.46"/>
<circle class="dd k8" cx="1108.88" cy="951.57"/>
<circle class="dd k8" cx="1100.06" cy="963.73"/>
<circle class="dd k8" cx="1102.44" cy="964.18"/>
<circle class="dd k8" cx="1112.29" cy="948.36"/>
<circle class="dd k8" cx="1103.5" cy="969.89"/>
<circle class="dd k8" cx="1108.49" cy="939.54"/>
<circle class="dd k8" cx="1099.27" cy="938.8"/>
<circle class="dd k8" cx="1111.26" cy="964.41"/>
<circle class="dd k8" cx="1099.56" cy="965.19"/>
<circle class="dd k8" cx="1112.43" cy="958.58"/>
<circle class="dd k8" cx="1102.71" cy="954.33"/>
<circle class="dd k8" cx="1099.33" cy="933.46"/>
<circle class="dd k8" cx="1112.28" cy="958.28"/>
<circle class="dd k8" cx="1105.43" cy="969.37"/>
<circle class="dd k8" cx="1104" cy="966.95"/>
<circle class="dd k8" cx="1110.05" cy="941.14"/>
<circle class="dd k8" cx="1101.19" cy="944.34"/>
<circle class="dd k8" cx="1101.02" cy="955.81"/>
<circle class="dd k8" cx="1101.31" cy="949.27"/>
<circle class="dd k8" cx="1099.33" cy="968.45"/>
<circle class="dd k8" cx="1102.76" cy="950.8"/>
<circle class="dd k8" cx="1106.3" cy="968.23"/>
<circle class="dd k8" cx="1103.79" cy="968.75"/>
<circle class="dd k8" cx="1105.04" cy="953.68"/>
<circle class="dd k8" cx="1105.38" cy="933.63"/>
<circle class="dd k8" cx="1104.1" cy="940.05"/>
<circle class="dd k8" cx="1097.37" cy="964.12"/>
<circle class="dd k8" cx="1099.97" cy="951.4"/>
<circle class="dd k8" cx="1108.49" cy="954.64"/>
<circle class="dd k8" cx="1102.34" cy="953.15"/>
<circle class="dd k8" cx="1105.87" cy="963.54"/>
<circle class="dd k8" cx="1098.94" cy="954.79"/>
<circle class="dd k8" cx="1101.14" cy="943.72"/>
<circle class="dd k8" cx="1109.22" cy="952.73"/>
<circle class="dd k8" cx="1105.97" cy="962.59"/>
<circle class="dd k8" cx="1111.38" cy="950.21"/>
<circle class="dd k8" cx="1106.75" cy="952.65"/>
<circle class="dd k8" cx="1105.21" cy="959.96"/>
<circle class="dd k8" cx="1104.28" cy="953.73"/>
<circle class="dd k8" cx="1104.68" cy="969.68"/>
<circle class="dd k8" cx="1108.09" cy="967.14"/>
<circle class="dd k8" cx="1111.84" cy="943.04"/>
<circle class="dd k8" cx="1105.94" cy="969.75"/>
<circle class="dd k8" cx="1110.26" cy="938.26"/>
<circle class="dd k8" cx="1099.18" cy="950.17"/>
<circle class="dd k8" cx="1098.43" cy="942.3"/>
<circle class="dd k8" cx="1098.44" cy="959.05"/>
<circle class="dd k8" cx="1109.4" cy="967.94"/>
<circle class="dd k8" cx="1099.69" cy="960.87"/>
<circle class="dd k8" cx="1107.49" cy="938.48"/>
<circle class="dd k8" cx="1110.92" cy="970.7"/>
<circle class="dd k8" cx="1100.69" cy="970.11"/>
<circle class="dd k8" cx="1103.45" cy="951.93"/>
<circle class="dd k8" cx="1112.57" cy="965.42"/>
<circle class="dd k8" cx="1099.8" cy="949.76"/>
<circle class="dd k8" cx="1105.26" cy="946.15"/>
<circle class="dd k8" cx="1100.33" cy="945.34"/>
<circle class="dd k8" cx="1108.44" cy="933.66"/>
<circle class="dd k8" cx="1105.85" cy="950.11"/>
<circle class="dd k8" cx="1097.59" cy="945.85"/>
<circle class="dd k8" cx="1106.93" cy="952.91"/>
<circle class="dd k8" cx="1098.3" cy="971.38"/>
<circle class="dd k8" cx="1109.47" cy="970.86"/>
<circle class="dd k8" cx="1098.92" cy="943.27"/>
<circle class="dd k8" cx="1097.92" cy="963.33"/>
<circle class="dd k8" cx="1101.48" cy="937.96"/>
<circle class="dd k8" cx="1103.82" cy="968.5"/>
<circle class="dd k8" cx="1109.94" cy="943"/>
<circle class="dd k8" cx="1099.61" cy="968.81"/>
<circle class="dd k8" cx="1097.93" cy="977.11"/>
<circle class="dd k8" cx="1099.88" cy="977.11"/>
<circle class="dd k8" cx="1101.83" cy="977.11"/>
<circle class="dd k8" cx="1103.79" cy="977.11"/>
<circle class="dd k8" cx="1105.74" cy="977.11"/>
<circle class="dd k8" cx="1107.69" cy="977.11"/>
<circle class="dd k8" cx="1109.65" cy="977.11"/>
<circle class="dd k8" cx="1111.6" cy="977.11"/>
<circle class="dd k9" cx="1142.95" cy="854.15"/>
<circle class="dd k9" cx="1145.22" cy="913.78"/>
<circle class="dd k9" cx="1140.08" cy="918.1"/>
<circle class="dd k9" cx="1141.93" cy="928.38"/>
<circle class="dd k9" cx="1134.93" cy="934.96"/>
<circle class="dd k9" cx="1142.54" cy="933.31"/>
<circle class="dd k9" cx="1136.37" cy="950.99"/>
<circle class="dd k9" cx="1140.49" cy="963.74"/>
<circle class="dd k9" cx="1133.29" cy="976.69"/>
<circle class="dd k9" cx="1141.93" cy="976.69"/>
<circle class="dd k9" cx="1137.4" cy="938.04"/>
<circle class="dd k9" cx="1145.63" cy="939.07"/>
<rect x="980.6" y="879.4" width="33.2" height="6.4" rx="3.2" fill="#000"/>
<rect x="1016.4" y="881.4" width="33.2" height="6.4" rx="3.2" fill="#000"/>
<rect x="1052.2" y="927.8" width="33.2" height="6.4" rx="3.2" fill="#000"/>
<rect x="1088.5" y="931.1" width="32.9" height="6.4" rx="3.2" fill="#000"/>
<rect x="1123.6" y="935.5" width="33.3" height="6.4" rx="3.2" fill="#000"/>
<rect x="1159.6" y="940" width="33.3" height="6.4" rx="3.2" fill="#000"/>
<circle class="dd k5" cx="993.9" cy="1070.22"/>
<circle class="dd k5" cx="1001.46" cy="1098.47"/>
<circle class="dd k5" cx="998.48" cy="1107.02"/>
<circle class="dd k5" cx="991.52" cy="1126.91"/>
<circle class="dd k5" cx="997.48" cy="1131.69"/>
<circle class="dd k5" cx="990.52" cy="1139.25"/>
<circle class="dd k5" cx="991.32" cy="1161.13"/>
<circle class="dd k5" cx="998.88" cy="1162.72"/>
<circle class="dd k5" cx="1001.46" cy="1182.61"/>
<circle class="dd k5" cx="1000.87" cy="1186.99"/>
<circle class="dd k5" cx="995.89" cy="1213.25"/>
<circle class="dd k5" cx="1004.45" cy="1228.37"/>
<circle class="dd k5" cx="998.88" cy="1236.12"/>
<circle class="dd k5" cx="990.32" cy="1262.18"/>
<circle class="dd k5" cx="993.9" cy="1287.85"/>
<circle class="dd k5" cx="998.48" cy="1287.85"/>
<circle class="dd k5" cx="991.91" cy="1195.94"/>
<circle class="dd k5" cx="997.88" cy="1196.94"/>
<circle class="dd k5" cx="1003.85" cy="1194.95"/>
<circle class="dd k5" cx="994.9" cy="1198.93"/>
<circle class="dd k5" cx="1001.86" cy="1198.93"/>
<circle class="dd k6" cx="996.49" cy="1034.41"/>
<circle class="dd k6" cx="996.89" cy="1061.27"/>
<circle class="dd k6" cx="1000.27" cy="1129.3"/>
<circle class="dd k6" cx="998.88" cy="1154.17"/>
<circle class="dd k6" cx="1000.87" cy="1166.7"/>
<circle class="dd k6" cx="995.3" cy="1182.41"/>
<circle class="dd k6" cx="1000.87" cy="1209.87"/>
<circle class="dd k6" cx="990.52" cy="1213.85"/>
<circle class="dd k6" cx="1001.46" cy="1219.22"/>
<circle class="dd k6" cx="998.48" cy="1225.38"/>
<circle class="dd k6" cx="1000.87" cy="1225.98"/>
<circle class="dd k6" cx="996.89" cy="1249.85"/>
<circle class="dd k6" cx="991.52" cy="1265.57"/>
<circle class="dd k6" cx="995.89" cy="1274.12"/>
<circle class="dd k6" cx="999.47" cy="1272.93"/>
<circle class="dd k6" cx="1003.45" cy="1272.93"/>
<circle class="dd k7" cx="996.89" cy="1202.31"/>
<circle class="dd k7" cx="993.51" cy="1218.42"/>
<circle class="dd k7" cx="1026.33" cy="1033.42"/>
<circle class="dd k7" cx="1029.71" cy="1064.65"/>
<circle class="dd k7" cx="1028.72" cy="1080.17"/>
<circle class="dd k7" cx="1029.71" cy="1087.53"/>
<circle class="dd k7" cx="1033.09" cy="1090.51"/>
<circle class="dd k7" cx="1038.66" cy="1113.79"/>
<circle class="dd k7" cx="1029.71" cy="1117.76"/>
<circle class="dd k7" cx="1029.71" cy="1129.3"/>
<circle class="dd k7" cx="1029.71" cy="1130.69"/>
<circle class="dd k7" cx="1029.31" cy="1142.63"/>
<circle class="dd k7" cx="1026.33" cy="1161.53"/>
<circle class="dd k7" cx="1038.66" cy="1162.12"/>
<circle class="dd k7" cx="1037.27" cy="1175.65"/>
<circle class="dd k7" cx="1029.71" cy="1195.94"/>
<circle class="dd k7" cx="1033.09" cy="1230.75"/>
<circle class="dd k7" cx="1028.12" cy="1237.72"/>
<circle class="dd k7" cx="1030.11" cy="1250.85"/>
<circle class="dd k7" cx="1028.12" cy="1261.19"/>
<circle class="dd k7" cx="1028.12" cy="1275.11"/>
<circle class="dd k7" cx="1037.67" cy="1273.92"/>
<circle class="dd k7" cx="1037.67" cy="1287.85"/>
<circle class="dd k6" cx="1073.47" cy="1085.14"/>
<circle class="dd k6" cx="1067.51" cy="1091.9"/>
<circle class="dd k6" cx="1067.51" cy="1137.86"/>
<circle class="dd k6" cx="1064.12" cy="1152.78"/>
<circle class="dd k6" cx="1075.86" cy="1169.68"/>
<circle class="dd k6" cx="1067.11" cy="1176.05"/>
<circle class="dd k6" cx="1074.07" cy="1188.58"/>
<circle class="dd k6" cx="1073.47" cy="1196.94"/>
<circle class="dd k6" cx="1065.12" cy="1202.51"/>
<circle class="dd k6" cx="1067.11" cy="1204.3"/>
<circle class="dd k6" cx="1072.48" cy="1211.46"/>
<circle class="dd k6" cx="1076.46" cy="1211.26"/>
<circle class="dd k6" cx="1072.48" cy="1220.81"/>
<circle class="dd k6" cx="1069.1" cy="1225.38"/>
<circle class="dd k6" cx="1067.51" cy="1239.71"/>
<circle class="dd k6" cx="1065.12" cy="1247.66"/>
<circle class="dd k6" cx="1073.47" cy="1246.27"/>
<circle class="dd k6" cx="1065.12" cy="1251.04"/>
<circle class="dd k6" cx="1075.46" cy="1251.64"/>
<circle class="dd k6" cx="1065.52" cy="1258.6"/>
<circle class="dd k6" cx="1072.48" cy="1260.19"/>
<circle class="dd k6" cx="1075.46" cy="1264.17"/>
<circle class="dd k6" cx="1062.53" cy="1266.16"/>
<circle class="dd k6" cx="1066.51" cy="1267.56"/>
<circle class="dd k6" cx="1072.48" cy="1270.54"/>
<circle class="dd k6" cx="1066.51" cy="1275.51"/>
<circle class="dd k6" cx="1071.09" cy="1276.51"/>
<circle class="dd k6" cx="1065.52" cy="1279.09"/>
<circle class="dd k6" cx="1063.53" cy="1287.85"/>
<circle class="dd k6" cx="1068.5" cy="1287.85"/>
<circle class="dd k6" cx="1072.48" cy="1287.85"/>
<circle class="dd k6" cx="1070.91" cy="1263"/>
<circle class="dd k6" cx="1064.68" cy="1229.75"/>
<circle class="dd k6" cx="1072.43" cy="1248.77"/>
<circle class="dd k6" cx="1064.46" cy="1275.31"/>
<circle class="dd k6" cx="1071.73" cy="1268.24"/>
<circle class="dd k6" cx="1064.61" cy="1271.06"/>
<circle class="dd k6" cx="1064.39" cy="1271.4"/>
<circle class="dd k6" cx="1069.39" cy="1244.32"/>
<circle class="dd k8" cx="1111.28" cy="1005.11"/>
<circle class="dd k8" cx="1110.67" cy="1012.8"/>
<circle class="dd k8" cx="1099.55" cy="1029.78"/>
<circle class="dd k8" cx="1099.75" cy="1040.5"/>
<circle class="dd k8" cx="1110.27" cy="1042.93"/>
<circle class="dd k8" cx="1104.6" cy="1064.77"/>
<circle class="dd k8" cx="1102.58" cy="1068.21"/>
<circle class="dd k8" cx="1105.82" cy="1099.75"/>
<circle class="dd k8" cx="1100.56" cy="1106.83"/>
<circle class="dd k8" cx="1108.24" cy="1104.81"/>
<circle class="dd k8" cx="1106.22" cy="1108.25"/>
<circle class="dd k8" cx="1102.18" cy="1121.79"/>
<circle class="dd k8" cx="1108.24" cy="1124.42"/>
<circle class="dd k8" cx="1109.26" cy="1128.47"/>
<circle class="dd k8" cx="1111.68" cy="1134.13"/>
<circle class="dd k8" cx="1100.56" cy="1142.62"/>
<circle class="dd k8" cx="1100.16" cy="1146.67"/>
<circle class="dd k8" cx="1102.18" cy="1164.46"/>
<circle class="dd k8" cx="1111.28" cy="1164.87"/>
<circle class="dd k8" cx="1104.6" cy="1173.97"/>
<circle class="dd k8" cx="1101.17" cy="1181.05"/>
<circle class="dd k8" cx="1111.28" cy="1184.69"/>
<circle class="dd k8" cx="1099.14" cy="1190.75"/>
<circle class="dd k8" cx="1104.2" cy="1194.19"/>
<circle class="dd k8" cx="1111.88" cy="1194.8"/>
<circle class="dd k8" cx="1111.88" cy="1198.84"/>
<circle class="dd k8" cx="1100.16" cy="1204.3"/>
<circle class="dd k8" cx="1104.6" cy="1206.32"/>
<circle class="dd k8" cx="1099.75" cy="1214.41"/>
<circle class="dd k8" cx="1111.28" cy="1220.08"/>
<circle class="dd k8" cx="1098.13" cy="1226.55"/>
<circle class="dd k8" cx="1105.21" cy="1224.52"/>
<circle class="dd k8" cx="1108.24" cy="1229.58"/>
<circle class="dd k8" cx="1105.51" cy="1280.03"/>
<circle class="dd k8" cx="1101.18" cy="1234.88"/>
<circle class="dd k8" cx="1105.11" cy="1241.06"/>
<circle class="dd k8" cx="1098.78" cy="1236.7"/>
<circle class="dd k8" cx="1097.89" cy="1238.98"/>
<circle class="dd k8" cx="1101.85" cy="1244.83"/>
<circle class="dd k8" cx="1108.64" cy="1243.98"/>
<circle class="dd k8" cx="1104.71" cy="1237.63"/>
<circle class="dd k8" cx="1102.39" cy="1228.59"/>
<circle class="dd k8" cx="1100.92" cy="1228.43"/>
<circle class="dd k8" cx="1108.24" cy="1258.76"/>
<circle class="dd k8" cx="1100" cy="1254.44"/>
<circle class="dd k8" cx="1111.3" cy="1233.58"/>
<circle class="dd k8" cx="1109.54" cy="1252.03"/>
<circle class="dd k8" cx="1104.63" cy="1274.82"/>
<circle class="dd k8" cx="1103.08" cy="1256.25"/>
<circle class="dd k8" cx="1107.55" cy="1283.19"/>
<circle class="dd k8" cx="1102.32" cy="1274.68"/>
<circle class="dd k8" cx="1107.84" cy="1263.57"/>
<circle class="dd k8" cx="1103.26" cy="1247.24"/>
<circle class="dd k8" cx="1097.95" cy="1234.91"/>
<circle class="dd k8" cx="1098.19" cy="1269.51"/>
<circle class="dd k8" cx="1101" cy="1236.8"/>
<circle class="dd k8" cx="1098.4" cy="1275.19"/>
<circle class="dd k8" cx="1110.33" cy="1265.53"/>
<circle class="dd k8" cx="1101.4" cy="1241.27"/>
<circle class="dd k8" cx="1101.57" cy="1253.57"/>
<circle class="dd k8" cx="1099.51" cy="1252.8"/>
<circle class="dd k8" cx="1101.11" cy="1282.02"/>
<circle class="dd k8" cx="1111.87" cy="1258.53"/>
<circle class="dd k8" cx="1100.83" cy="1282.24"/>
<circle class="dd k8" cx="1101.82" cy="1247.75"/>
<circle class="dd k8" cx="1097.14" cy="1249.17"/>
<circle class="dd k8" cx="1104.32" cy="1256.03"/>
<circle class="dd k8" cx="1100.17" cy="1256.14"/>
<circle class="dd k8" cx="1097.2" cy="1242.52"/>
<circle class="dd k8" cx="1098.48" cy="1250.18"/>
<circle class="dd k8" cx="1097.75" cy="1228.83"/>
<circle class="dd k8" cx="1101.74" cy="1240.74"/>
<circle class="dd k8" cx="1106" cy="1257.52"/>
<circle class="dd k8" cx="1108.51" cy="1264.79"/>
<circle class="dd k8" cx="1107.98" cy="1277.33"/>
<circle class="dd k8" cx="1103.03" cy="1246.02"/>
<circle class="dd k8" cx="1112.06" cy="1236.02"/>
<circle class="dd k8" cx="1108.11" cy="1263.98"/>
<circle class="dd k8" cx="1097.79" cy="1274.85"/>
<circle class="dd k8" cx="1110.65" cy="1263.08"/>
<circle class="dd k8" cx="1108.25" cy="1273.55"/>
<circle class="dd k8" cx="1099.24" cy="1257.21"/>
<circle class="dd k8" cx="1104.77" cy="1274.83"/>
<circle class="dd k8" cx="1109.33" cy="1274.35"/>
<circle class="dd k8" cx="1105.98" cy="1278.11"/>
<circle class="dd k8" cx="1107.48" cy="1266.82"/>
<circle class="dd k8" cx="1100.61" cy="1229.32"/>
<circle class="dd k8" cx="1099.14" cy="1247.98"/>
<circle class="dd k8" cx="1098.71" cy="1274.88"/>
<circle class="dd k8" cx="1105.59" cy="1263.1"/>
<circle class="dd k8" cx="1106.62" cy="1266.1"/>
<circle class="dd k8" cx="1104.54" cy="1227.75"/>
<circle class="dd k8" cx="1109.22" cy="1269.93"/>
<circle class="dd k8" cx="1104.75" cy="1257.86"/>
<circle class="dd k8" cx="1107.12" cy="1231.3"/>
<circle class="dd k8" cx="1108.3" cy="1241.84"/>
<circle class="dd k8" cx="1098.25" cy="1242.59"/>
<circle class="dd k8" cx="1108.18" cy="1239.18"/>
<circle class="dd k8" cx="1108.34" cy="1282.81"/>
<circle class="dd k8" cx="1104.61" cy="1249.22"/>
<circle class="dd k8" cx="1104.39" cy="1266.27"/>
<circle class="dd k8" cx="1108.75" cy="1262.49"/>
<circle class="dd k8" cx="1106.87" cy="1231.94"/>
<circle class="dd k8" cx="1099.36" cy="1241.94"/>
<circle class="dd k8" cx="1108.39" cy="1244.8"/>
<circle class="dd k8" cx="1105.73" cy="1228.26"/>
<circle class="dd k8" cx="1098.04" cy="1242.78"/>
<circle class="dd k8" cx="1107.31" cy="1266.75"/>
<circle class="dd k8" cx="1107.37" cy="1244.03"/>
<circle class="dd k8" cx="1104.96" cy="1253.87"/>
<circle class="dd k8" cx="1104.2" cy="1234.27"/>
<circle class="dd k8" cx="1110.68" cy="1238.84"/>
<circle class="dd k8" cx="1111.96" cy="1280.57"/>
<circle class="dd k8" cx="1097.39" cy="1253.55"/>
<circle class="dd k8" cx="1109.56" cy="1282.38"/>
<circle class="dd k8" cx="1103.94" cy="1242.77"/>
<circle class="dd k8" cx="1100.3" cy="1281.1"/>
<circle class="dd k8" cx="1100.32" cy="1260.48"/>
<circle class="dd k8" cx="1099.27" cy="1257.23"/>
<circle class="dd k8" cx="1111.57" cy="1235.07"/>
<circle class="dd k8" cx="1109.56" cy="1256.36"/>
<circle class="dd k8" cx="1110.57" cy="1267.38"/>
<circle class="dd k8" cx="1100.63" cy="1278.39"/>
<circle class="dd k8" cx="1104.5" cy="1228.96"/>
<circle class="dd k8" cx="1097.18" cy="1255.4"/>
<circle class="dd k8" cx="1103.96" cy="1244.66"/>
<circle class="dd k8" cx="1099.26" cy="1247.03"/>
<circle class="dd k8" cx="1101.92" cy="1275.13"/>
<circle class="dd k8" cx="1097.15" cy="1270.07"/>
<circle class="dd k8" cx="1109.85" cy="1234.36"/>
<circle class="dd k8" cx="1111.17" cy="1267.93"/>
<circle class="dd k8" cx="1110.8" cy="1243.97"/>
<circle class="dd k8" cx="1102.77" cy="1249.81"/>
<circle class="dd k8" cx="1112.27" cy="1260.92"/>
<circle class="dd k8" cx="1102.59" cy="1251.8"/>
<circle class="dd k8" cx="1101.3" cy="1230.29"/>
<circle class="dd k8" cx="1098.66" cy="1274.82"/>
<circle class="dd k8" cx="1101.45" cy="1280.53"/>
<circle class="dd k8" cx="1100.9" cy="1242.6"/>
<circle class="dd k8" cx="1104.87" cy="1238.31"/>
<circle class="dd k8" cx="1102.78" cy="1281.7"/>
<circle class="dd k8" cx="1110.53" cy="1273.53"/>
<circle class="dd k8" cx="1106.69" cy="1279.28"/>
<circle class="dd k8" cx="1111.39" cy="1258.66"/>
<circle class="dd k8" cx="1108.04" cy="1230.36"/>
<circle class="dd k8" cx="1108.23" cy="1253.09"/>
<circle class="dd k8" cx="1108.54" cy="1264.05"/>
<circle class="dd k8" cx="1101.46" cy="1230.33"/>
<circle class="dd k8" cx="1111.18" cy="1234.77"/>
<circle class="dd k8" cx="1104.28" cy="1247.02"/>
<circle class="dd k8" cx="1101.64" cy="1269.4"/>
<circle class="dd k8" cx="1111.93" cy="1242.29"/>
<circle class="dd k8" cx="1107.07" cy="1244.59"/>
<circle class="dd k8" cx="1105.58" cy="1249.89"/>
<circle class="dd k8" cx="1099.66" cy="1236.71"/>
<circle class="dd k8" cx="1100.28" cy="1278.86"/>
<circle class="dd k8" cx="1104.66" cy="1240.02"/>
<circle class="dd k8" cx="1110.87" cy="1283.98"/>
<circle class="dd k8" cx="1103.95" cy="1235.46"/>
<circle class="dd k8" cx="1100.04" cy="1232.69"/>
<circle class="dd k8" cx="1102.31" cy="1232.72"/>
<circle class="dd k8" cx="1100.75" cy="1242.19"/>
<circle class="dd k8" cx="1105.76" cy="1277.8"/>
<circle class="dd k8" cx="1108.49" cy="1250.93"/>
<circle class="dd k8" cx="1103.4" cy="1257.24"/>
<circle class="dd k8" cx="1102.84" cy="1246.71"/>
<circle class="dd k8" cx="1098.06" cy="1243.27"/>
<circle class="dd k8" cx="1111.8" cy="1234.69"/>
<circle class="dd k8" cx="1104.76" cy="1263.21"/>
<circle class="dd k8" cx="1110.21" cy="1239.79"/>
<circle class="dd k8" cx="1101.23" cy="1241.63"/>
<circle class="dd k8" cx="1103.19" cy="1252.8"/>
<circle class="dd k8" cx="1111.59" cy="1275.61"/>
<circle class="dd k8" cx="1110.36" cy="1228.79"/>
<circle class="dd k8" cx="1097.61" cy="1267.73"/>
<circle class="dd k8" cx="1110.71" cy="1254.36"/>
<circle class="dd k8" cx="1106.03" cy="1227.57"/>
<circle class="dd k8" cx="1103.06" cy="1280.04"/>
<circle class="dd k8" cx="1109.64" cy="1276"/>
<circle class="dd k8" cx="1111.87" cy="1241.63"/>
<circle class="dd k8" cx="1098.78" cy="1236.3"/>
<circle class="dd k8" cx="1105.04" cy="1266.18"/>
<circle class="dd k8" cx="1111.4" cy="1268.42"/>
<circle class="dd k8" cx="1106.94" cy="1270.86"/>
<circle class="dd k8" cx="1104.06" cy="1258.79"/>
<circle class="dd k8" cx="1097.72" cy="1271.85"/>
<circle class="dd k8" cx="1100.65" cy="1279.65"/>
<circle class="dd k8" cx="1106.91" cy="1244.76"/>
<circle class="dd k8" cx="1099.06" cy="1241.82"/>
<circle class="dd k8" cx="1106.77" cy="1267.11"/>
<circle class="dd k8" cx="1098.82" cy="1231.54"/>
<circle class="dd k8" cx="1105.08" cy="1260.56"/>
<circle class="dd k8" cx="1103.01" cy="1240.22"/>
<circle class="dd k8" cx="1106.24" cy="1228.15"/>
<circle class="dd k8" cx="1101.7" cy="1253.64"/>
<circle class="dd k8" cx="1111.67" cy="1264.06"/>
<circle class="dd k8" cx="1110.53" cy="1254.47"/>
<circle class="dd k8" cx="1100.68" cy="1241.55"/>
<circle class="dd k8" cx="1111.69" cy="1267.46"/>
<circle class="dd k8" cx="1101.78" cy="1228.79"/>
<circle class="dd k8" cx="1104.68" cy="1265.75"/>
<circle class="dd k8" cx="1103.49" cy="1242.12"/>
<circle class="dd k8" cx="1107.24" cy="1279.94"/>
<circle class="dd k8" cx="1097.73" cy="1287.21"/>
<circle class="dd k8" cx="1099.65" cy="1287.21"/>
<circle class="dd k8" cx="1101.57" cy="1287.21"/>
<circle class="dd k8" cx="1103.49" cy="1287.21"/>
<circle class="dd k8" cx="1105.41" cy="1287.21"/>
<circle class="dd k8" cx="1107.33" cy="1287.21"/>
<circle class="dd k8" cx="1109.26" cy="1287.21"/>
<circle class="dd k8" cx="1111.18" cy="1287.21"/>
<circle class="dd k9" cx="1143.03" cy="1180.44"/>
<circle class="dd k9" cx="1145.05" cy="1217.45"/>
<circle class="dd k9" cx="1140.2" cy="1239.69"/>
<circle class="dd k9" cx="1142.22" cy="1238.68"/>
<circle class="dd k9" cx="1134.53" cy="1261.53"/>
<circle class="dd k9" cx="1136.56" cy="1267.6"/>
<circle class="dd k9" cx="1143.03" cy="1273.67"/>
<circle class="dd k9" cx="1140.6" cy="1279.73"/>
<circle class="dd k9" cx="1132.92" cy="1287.21"/>
<circle class="dd k9" cx="1142.22" cy="1286.81"/>
<circle class="dd k9" cx="1142.22" cy="1283.17"/>
<circle class="dd k9" cx="1138.58" cy="1257.89"/>
<rect x="981" y="1193.3" width="32.8" height="6.4" rx="3.2" fill="#000"/>
<rect x="1016.8" y="1163.5" width="32.4" height="6.4" rx="3.2" fill="#000"/>
<rect x="1052.6" y="1227" width="32.4" height="6.4" rx="3.2" fill="#000"/>
<rect x="1088.4" y="1237.9" width="33" height="6.4" rx="3.2" fill="#000"/>
<rect x="1124.4" y="1255.7" width="32.4" height="6.4" rx="3.2" fill="#000"/>
<rect x="1159.8" y="1249" width="32.8" height="6.4" rx="3.2" fill="#000"/>
<text x="962" y="1325.8"><tspan font-style="italic">n</tspan> =</text>
<text x="997.5" y="1325.8" text-anchor="middle">39</text>
<text x="1033.3" y="1325.8" text-anchor="middle">21</text>
<text x="1068.7" y="1325.8" text-anchor="middle">39</text>
<text x="1104.3" y="1325.8" text-anchor="middle">212</text>
<text x="1139.8" y="1325.8" text-anchor="middle">12</text>
<text x="1175.1" y="1325.8" text-anchor="middle">1</text>
<text x="993.4" y="1339.4" text-anchor="end" transform="rotate(-90 993.4 1339.4)">Alphapapillomavirus</text>
<text x="1012.4" y="1339.4" text-anchor="end" transform="rotate(-90 1012.4 1339.4)">positive</text>
<text x="1037.9" y="1339" text-anchor="end" transform="rotate(-90 1037.9 1339)">Bladder</text>
<text x="1073.4" y="1339" text-anchor="end" transform="rotate(-90 1073.4 1339)">Head/neck</text>
<text x="1109" y="1339" text-anchor="end" transform="rotate(-90 1109 1339)">Breast</text>
<text x="1142.5" y="1339" text-anchor="end" transform="rotate(-90 1142.5 1339)">Biliary</text>
<text x="1180" y="1339" text-anchor="end" transform="rotate(-90 1180 1339)">Cervix</text>
<rect x="1018.5" y="1428.9" width="179.4" height="4.5" fill="#000"/>
<text x="1108.2" y="1454.8" text-anchor="middle">Alphapapillomavirus</text>
<text x="1108.2" y="1473.3" text-anchor="middle">negative</text>
<text x="1" y="987" font-size="17" font-weight="bold" stroke="#000" stroke-width="0.55">e</text>
<text x="193" y="992" text-anchor="middle">Head/neck</text>
<text x="193" y="1010.5" text-anchor="middle">gene expression profile</text>
<rect x="75.5" y="1018.6" width="238.7" height="333.4" fill="none" stroke="#626262" stroke-width="1.1"/>
<line x1="69" y1="1035.1" x2="75.5" y2="1035.1" stroke="#626262" stroke-width="1.3"/>
<text x="61.3" y="1040.6" text-anchor="end">40</text>
<line x1="69" y1="1186" x2="75.5" y2="1186" stroke="#626262" stroke-width="1.3"/>
<text x="61.3" y="1191.5" text-anchor="end">0</text>
<line x1="69" y1="1337.2" x2="75.5" y2="1337.2" stroke="#626262" stroke-width="1.3"/>
<text x="61.3" y="1342.7" text-anchor="end">−40</text>
<line x1="128.5" y1="1352" x2="128.5" y2="1358.3" stroke="#626262" stroke-width="1.3"/>
<text x="128.5" y="1377" text-anchor="middle">−50</text>
<line x1="191.9" y1="1352" x2="191.9" y2="1358.3" stroke="#626262" stroke-width="1.3"/>
<text x="191.9" y="1377" text-anchor="middle">0</text>
<line x1="255.6" y1="1352" x2="255.6" y2="1358.3" stroke="#626262" stroke-width="1.3"/>
<text x="255.6" y="1377" text-anchor="middle">50</text>
<text x="22" y="1185.6" text-anchor="middle" transform="rotate(-90 22 1185.6)"><tspan font-style="italic">t</tspan>-SNE 2</text>
<text x="194.6" y="1402.8" text-anchor="middle"><tspan font-style="italic">t</tspan>-SNE 1</text>
<text x="309.3" y="1344.2" text-anchor="end"><tspan font-style="italic">n</tspan> = 42</text>
<circle cx="120.3" cy="1035.5" r="5.1" fill="#cbcbcb"/>
<circle cx="101.3" cy="1064.4" r="5.1" fill="#cbcbcb"/>
<circle cx="133.7" cy="1073" r="5.1" fill="#cbcbcb"/>
<circle cx="188.8" cy="1079.9" r="5.1" fill="#cbcbcb"/>
<circle cx="229.8" cy="1076.1" r="5.1" fill="#cbcbcb"/>
<circle cx="247" cy="1089.6" r="5.1" fill="#cbcbcb"/>
<circle cx="93.4" cy="1103" r="5.1" fill="#cbcbcb"/>
<circle cx="107.2" cy="1112.3" r="5.1" fill="#cbcbcb"/>
<circle cx="133.4" cy="1120.6" r="5.1" fill="#cbcbcb"/>
<circle cx="95.1" cy="1134" r="5.1" fill="#cbcbcb"/>
<circle cx="149.6" cy="1135" r="5.1" fill="#cbcbcb"/>
<circle cx="134.1" cy="1167.1" r="5.1" fill="#cbcbcb"/>
<circle cx="145.8" cy="1177.1" r="5.1" fill="#cbcbcb"/>
<circle cx="157.8" cy="1183.6" r="5.1" fill="#cbcbcb"/>
<circle cx="268.4" cy="1181.2" r="5.1" fill="#cbcbcb"/>
<circle cx="154.4" cy="1212.2" r="5.1" fill="#cbcbcb"/>
<circle cx="142.7" cy="1218.4" r="5.1" fill="#cbcbcb"/>
<circle cx="170.2" cy="1229.1" r="5.1" fill="#cbcbcb"/>
<circle cx="129.9" cy="1244.2" r="5.1" fill="#cbcbcb"/>
<circle cx="147.5" cy="1256.3" r="5.1" fill="#cbcbcb"/>
<circle cx="157.8" cy="1258.7" r="5.1" fill="#cbcbcb"/>
<circle cx="222.9" cy="1289.4" r="5.1" fill="#cbcbcb"/>
<circle cx="231.2" cy="1318" r="5.1" fill="#cbcbcb"/>
<circle cx="216" cy="1333.5" r="5.1" fill="#cbcbcb"/>
<circle cx="117.5" cy="1104" r="5.1" fill="#da2a1f"/>
<circle cx="200.5" cy="1110.6" r="5.1" fill="#da2a1f"/>
<circle cx="209.5" cy="1128.8" r="5.1" fill="#da2a1f"/>
<circle cx="197.8" cy="1141.9" r="5.1" fill="#da2a1f"/>
<circle cx="226" cy="1144.4" r="5.1" fill="#da2a1f"/>
<circle cx="238.4" cy="1156.4" r="5.1" fill="#da2a1f"/>
<circle cx="250.8" cy="1203.6" r="5.1" fill="#da2a1f"/>
<circle cx="238.8" cy="1211.2" r="5.1" fill="#da2a1f"/>
<circle cx="260.5" cy="1225" r="5.1" fill="#da2a1f"/>
<circle cx="291.5" cy="1220.8" r="5.1" fill="#da2a1f"/>
<circle cx="222.2" cy="1231.2" r="5.1" fill="#da2a1f"/>
<circle cx="275.6" cy="1238.7" r="5.1" fill="#da2a1f"/>
<circle cx="250.5" cy="1247.7" r="5.1" fill="#da2a1f"/>
<circle cx="238.4" cy="1257.7" r="5.1" fill="#da2a1f"/>
<circle cx="212.3" cy="1268.4" r="5.1" fill="#da2a1f"/>
<circle cx="268.4" cy="1268.4" r="5.1" fill="#da2a1f"/>
<circle cx="284.2" cy="1275.9" r="5.1" fill="#da2a1f"/>
<circle cx="212.3" cy="1304.2" r="5.1" fill="#da2a1f"/>
<text x="179.8" y="1430.3" text-anchor="middle">Alphapapillomavirus</text>
<circle cx="109.5" cy="1447.4" r="6.3" fill="#da2a1f" stroke="#555" stroke-width="0.8"/>
<text x="123.3" y="1453.4">Positive</text>
<circle cx="215.3" cy="1447.4" r="6.3" fill="#d2d2d2" stroke="#555" stroke-width="0.8"/>
<text x="229" y="1453.4">Negative</text>
<text x="343.5" y="987" font-size="17" font-weight="bold" stroke="#000" stroke-width="0.55">f</text>
<text x="479" y="1010" text-anchor="middle" font-style="italic">APOBEC3B</text>
<line x1="433.4" y1="1016.2" x2="433.4" y2="1352" stroke="#f0f0f0" stroke-width="0.8"/>
<line x1="479.3" y1="1016.2" x2="479.3" y2="1352" stroke="#f0f0f0" stroke-width="0.8"/>
<line x1="525.5" y1="1016.2" x2="525.5" y2="1352" stroke="#f0f0f0" stroke-width="0.8"/>
<rect x="405.2" y="1016.2" width="148.2" height="335.8" fill="none" stroke="#626262" stroke-width="1.3"/>
<line x1="399.3" y1="1047.2" x2="405.2" y2="1047.2" stroke="#626262" stroke-width="1.3"/>
<text x="395.8" y="1052.5" text-anchor="end">6</text>
<line x1="399.3" y1="1123.2" x2="405.2" y2="1123.2" stroke="#626262" stroke-width="1.3"/>
<text x="395.8" y="1128.5" text-anchor="end">4</text>
<line x1="399.3" y1="1199.2" x2="405.2" y2="1199.2" stroke="#626262" stroke-width="1.3"/>
<text x="395.8" y="1204.5" text-anchor="end">2</text>
<line x1="399.3" y1="1275.2" x2="405.2" y2="1275.2" stroke="#626262" stroke-width="1.3"/>
<text x="395.8" y="1280.5" text-anchor="end">0</text>
<line x1="399.3" y1="1351.2" x2="405.2" y2="1351.2" stroke="#626262" stroke-width="1.3"/>
<text x="392.8" y="1356.5" text-anchor="end">−2</text>
<text x="357" y="1187" text-anchor="middle" transform="rotate(-90 357 1187)">Gene expression (log<tspan font-size="10.5" dy="3">2</tspan><tspan dy="-3">[FPKM])</tspan></text>
<path d="M444.62 1091.66 L444.92 1092.76 L445.31 1094.18 L445.78 1095.86 L446.3 1097.74 L446.86 1099.77 L447.43 1101.89 L448 1104.05 L448.54 1106.18 L449.04 1108.23 L449.46 1110.14 L449.84 1111.96 L450.2 1113.78 L450.54 1115.58 L450.86 1117.38 L451.16 1119.18 L451.44 1120.98 L451.71 1122.77 L451.95 1124.57 L452.18 1126.37 L452.39 1128.17 L452.59 1129.99 L452.75 1131.85 L452.9 1133.72 L453.03 1135.6 L453.14 1137.46 L453.24 1139.31 L453.32 1141.12 L453.4 1142.88 L453.46 1144.58 L453.52 1146.2 L453.57 1147.72 L453.61 1149.15 L453.64 1150.51 L453.66 1151.82 L453.66 1153.1 L453.66 1154.36 L453.64 1155.64 L453.61 1156.94 L453.57 1158.3 L453.52 1159.72 L453.46 1161.19 L453.4 1162.69 L453.34 1164.21 L453.26 1165.76 L453.17 1167.32 L453.06 1168.91 L452.93 1170.52 L452.78 1172.16 L452.6 1173.81 L452.39 1175.49 L452.15 1177.19 L451.89 1178.92 L451.6 1180.66 L451.28 1182.43 L450.94 1184.23 L450.59 1186.04 L450.22 1187.88 L449.83 1189.74 L449.43 1191.62 L449.01 1193.52 L448.58 1195.45 L448.12 1197.4 L447.63 1199.37 L447.12 1201.36 L446.61 1203.38 L446.08 1205.42 L445.56 1207.48 L445.04 1209.57 L444.54 1211.67 L444.06 1213.8 L443.58 1215.97 L443.09 1218.17 L442.6 1220.4 L442.11 1222.65 L441.63 1224.93 L441.17 1227.22 L440.72 1229.51 L440.3 1231.79 L439.91 1234.07 L439.55 1236.34 L439.23 1238.59 L438.94 1240.85 L438.67 1243.1 L438.43 1245.35 L438.21 1247.61 L438.01 1249.86 L437.82 1252.11 L437.64 1254.37 L437.47 1256.62 L437.3 1258.87 L437.14 1261.11 L437 1263.31 L436.87 1265.49 L436.76 1267.67 L436.65 1269.86 L436.56 1272.07 L436.46 1274.32 L436.37 1276.61 L436.27 1278.97 L436.17 1281.41 L436.06 1283.95 L435.95 1286.58 L435.84 1289.3 L435.73 1292.06 L435.62 1294.86 L435.51 1297.66 L435.41 1300.44 L435.32 1303.19 L435.23 1305.86 L435.15 1308.45 L435.09 1311.06 L435.02 1313.78 L434.96 1316.54 L434.91 1319.29 L434.87 1321.97 L434.83 1324.51 L434.79 1326.86 L434.76 1328.95 L434.73 1330.72 L434.7 1332.11 L431.77 1332.11 L431.75 1330.72 L431.72 1328.95 L431.69 1326.86 L431.65 1324.51 L431.61 1321.97 L431.57 1319.29 L431.51 1316.54 L431.46 1313.78 L431.39 1311.06 L431.32 1308.45 L431.25 1305.86 L431.16 1303.19 L431.06 1300.44 L430.96 1297.66 L430.86 1294.86 L430.75 1292.06 L430.64 1289.3 L430.53 1286.58 L430.42 1283.95 L430.31 1281.41 L430.21 1278.97 L430.11 1276.61 L430.02 1274.32 L429.92 1272.07 L429.82 1269.86 L429.72 1267.67 L429.61 1265.49 L429.48 1263.31 L429.34 1261.11 L429.18 1258.87 L429.01 1256.62 L428.84 1254.37 L428.66 1252.11 L428.47 1249.86 L428.27 1247.61 L428.05 1245.35 L427.81 1243.1 L427.54 1240.85 L427.25 1238.59 L426.93 1236.34 L426.57 1234.07 L426.18 1231.79 L425.76 1229.51 L425.31 1227.22 L424.85 1224.93 L424.37 1222.65 L423.88 1220.4 L423.39 1218.17 L422.9 1215.97 L422.42 1213.8 L421.94 1211.67 L421.43 1209.57 L420.92 1207.48 L420.4 1205.42 L419.87 1203.38 L419.36 1201.36 L418.85 1199.37 L418.36 1197.4 L417.9 1195.45 L417.46 1193.52 L417.05 1191.62 L416.65 1189.74 L416.26 1187.88 L415.89 1186.04 L415.54 1184.23 L415.2 1182.43 L414.88 1180.66 L414.59 1178.92 L414.32 1177.19 L414.08 1175.49 L413.88 1173.81 L413.7 1172.16 L413.55 1170.52 L413.42 1168.91 L413.31 1167.32 L413.22 1165.76 L413.14 1164.21 L413.07 1162.69 L413.01 1161.19 L412.96 1159.72 L412.91 1158.3 L412.87 1156.94 L412.84 1155.64 L412.82 1154.36 L412.82 1153.1 L412.82 1151.82 L412.84 1150.51 L412.87 1149.15 L412.91 1147.72 L412.96 1146.2 L413.02 1144.58 L413.08 1142.88 L413.16 1141.12 L413.24 1139.31 L413.34 1137.46 L413.45 1135.6 L413.58 1133.72 L413.73 1131.85 L413.89 1129.99 L414.08 1128.17 L414.3 1126.37 L414.52 1124.57 L414.77 1122.77 L415.03 1120.98 L415.32 1119.18 L415.62 1117.38 L415.94 1115.58 L416.28 1113.78 L416.64 1111.96 L417.01 1110.14 L417.44 1108.23 L417.94 1106.18 L418.48 1104.05 L419.05 1101.89 L419.62 1099.77 L420.18 1097.74 L420.7 1095.86 L421.17 1094.18 L421.56 1092.76 L421.86 1091.66Z" stroke="#000" stroke-width="1.3" fill="none" stroke-linejoin="round"/>
<path d="M488.56 1044.34 L488.72 1045.56 L488.92 1047.13 L489.16 1048.98 L489.43 1051.05 L489.72 1053.3 L490.02 1055.65 L490.32 1058.07 L490.62 1060.48 L490.9 1062.83 L491.15 1065.07 L491.4 1067.25 L491.64 1069.46 L491.88 1071.7 L492.12 1073.95 L492.36 1076.23 L492.59 1078.51 L492.81 1080.79 L493.02 1083.07 L493.22 1085.34 L493.41 1087.61 L493.58 1089.88 L493.75 1092.18 L493.91 1094.51 L494.06 1096.84 L494.2 1099.15 L494.33 1101.45 L494.45 1103.71 L494.56 1105.92 L494.67 1108.07 L494.76 1110.14 L494.85 1112.13 L494.92 1114.03 L494.99 1115.88 L495.05 1117.68 L495.1 1119.44 L495.14 1121.17 L495.17 1122.9 L495.19 1124.64 L495.21 1126.39 L495.21 1128.17 L495.21 1129.91 L495.21 1131.56 L495.2 1133.15 L495.18 1134.73 L495.15 1136.34 L495.11 1138.01 L495.06 1139.79 L494.98 1141.73 L494.88 1143.85 L494.76 1146.2 L494.61 1148.79 L494.45 1151.61 L494.26 1154.6 L494.05 1157.74 L493.83 1160.99 L493.59 1164.32 L493.34 1167.69 L493.07 1171.08 L492.8 1174.44 L492.51 1177.75 L492.2 1181.04 L491.87 1184.36 L491.52 1187.72 L491.15 1191.11 L490.77 1194.51 L490.39 1197.92 L490.01 1201.34 L489.63 1204.75 L489.26 1208.16 L488.9 1211.55 L488.55 1214.93 L488.2 1218.31 L487.84 1221.69 L487.49 1225.07 L487.14 1228.45 L486.8 1231.83 L486.46 1235.21 L486.14 1238.59 L485.82 1241.97 L485.52 1245.35 L485.23 1248.73 L484.95 1252.11 L484.67 1255.49 L484.4 1258.87 L484.14 1262.25 L483.89 1265.63 L483.66 1269.01 L483.44 1272.39 L483.23 1275.77 L483.04 1279.15 L482.87 1282.58 L482.72 1286.06 L482.58 1289.58 L482.46 1293.11 L482.35 1296.62 L482.25 1300.09 L482.16 1303.48 L482.08 1306.77 L481.99 1309.94 L481.92 1312.96 L481.84 1315.91 L481.77 1318.89 L481.72 1321.84 L481.66 1324.71 L481.62 1327.46 L481.58 1330.05 L481.55 1332.42 L481.52 1334.52 L481.49 1336.31 L481.46 1337.75 L477.41 1337.75 L477.38 1336.31 L477.36 1334.52 L477.33 1332.42 L477.29 1330.05 L477.25 1327.46 L477.21 1324.71 L477.16 1321.84 L477.1 1318.89 L477.03 1315.91 L476.96 1312.96 L476.88 1309.94 L476.8 1306.77 L476.71 1303.48 L476.62 1300.09 L476.52 1296.62 L476.41 1293.11 L476.29 1289.58 L476.15 1286.06 L476 1282.58 L475.83 1279.15 L475.64 1275.77 L475.44 1272.39 L475.22 1269.01 L474.98 1265.63 L474.73 1262.25 L474.47 1258.87 L474.2 1255.49 L473.93 1252.11 L473.64 1248.73 L473.35 1245.35 L473.05 1241.97 L472.74 1238.59 L472.41 1235.21 L472.08 1231.83 L471.73 1228.45 L471.38 1225.07 L471.03 1221.69 L470.68 1218.31 L470.32 1214.93 L469.97 1211.55 L469.61 1208.16 L469.24 1204.75 L468.86 1201.34 L468.48 1197.92 L468.1 1194.51 L467.72 1191.11 L467.36 1187.72 L467 1184.36 L466.67 1181.04 L466.37 1177.75 L466.08 1174.44 L465.8 1171.08 L465.53 1167.69 L465.28 1164.32 L465.04 1160.99 L464.82 1157.74 L464.61 1154.6 L464.43 1151.61 L464.26 1148.79 L464.11 1146.2 L463.99 1143.85 L463.89 1141.73 L463.82 1139.79 L463.76 1138.01 L463.72 1136.34 L463.69 1134.73 L463.67 1133.15 L463.67 1131.56 L463.66 1129.91 L463.66 1128.17 L463.67 1126.39 L463.68 1124.64 L463.7 1122.9 L463.73 1121.17 L463.77 1119.44 L463.82 1117.68 L463.88 1115.88 L463.95 1114.03 L464.03 1112.13 L464.11 1110.14 L464.21 1108.07 L464.31 1105.92 L464.42 1103.71 L464.55 1101.45 L464.68 1099.15 L464.82 1096.84 L464.96 1094.51 L465.12 1092.18 L465.29 1089.88 L465.46 1087.61 L465.65 1085.34 L465.85 1083.07 L466.06 1080.79 L466.29 1078.51 L466.51 1076.23 L466.75 1073.95 L466.99 1071.7 L467.23 1069.46 L467.48 1067.25 L467.72 1065.07 L467.98 1062.83 L468.26 1060.48 L468.55 1058.07 L468.85 1055.65 L469.15 1053.3 L469.44 1051.05 L469.71 1048.98 L469.95 1047.13 L470.15 1045.56 L470.31 1044.34Z" stroke="#000" stroke-width="1.3" fill="none" stroke-linejoin="round"/>
<path d="M538.93 1035.32 L539.23 1036.41 L539.63 1037.77 L540.11 1039.38 L540.64 1041.19 L541.21 1043.15 L541.79 1045.23 L542.36 1047.38 L542.89 1049.55 L543.37 1051.71 L543.77 1053.8 L544.11 1055.91 L544.42 1058.12 L544.7 1060.41 L544.95 1062.74 L545.18 1065.1 L545.38 1067.45 L545.57 1069.78 L545.73 1072.05 L545.89 1074.25 L546.03 1076.34 L546.16 1078.31 L546.27 1080.2 L546.36 1082.01 L546.44 1083.77 L546.49 1085.49 L546.53 1087.21 L546.55 1088.93 L546.55 1090.69 L546.52 1092.49 L546.48 1094.37 L546.41 1096.31 L546.31 1098.31 L546.2 1100.36 L546.06 1102.42 L545.9 1104.51 L545.73 1106.59 L545.54 1108.66 L545.34 1110.7 L545.12 1112.7 L544.9 1114.65 L544.67 1116.53 L544.42 1118.36 L544.15 1120.15 L543.87 1121.91 L543.58 1123.66 L543.27 1125.41 L542.96 1127.17 L542.64 1128.96 L542.31 1130.79 L541.97 1132.68 L541.62 1134.6 L541.26 1136.55 L540.89 1138.52 L540.5 1140.52 L540.11 1142.54 L539.71 1144.57 L539.31 1146.64 L538.91 1148.72 L538.52 1150.83 L538.14 1152.96 L537.75 1155.22 L537.33 1157.68 L536.9 1160.26 L536.47 1162.89 L536.04 1165.49 L535.64 1167.99 L535.26 1170.32 L534.93 1172.39 L534.64 1174.14 L534.42 1175.49 L517.07 1175.49 L516.85 1174.14 L516.57 1172.39 L516.23 1170.32 L515.86 1167.99 L515.45 1165.49 L515.03 1162.89 L514.59 1160.26 L514.16 1157.68 L513.75 1155.22 L513.35 1152.96 L512.97 1150.83 L512.58 1148.72 L512.18 1146.64 L511.78 1144.57 L511.39 1142.54 L510.99 1140.52 L510.61 1138.52 L510.23 1136.55 L509.87 1134.6 L509.52 1132.68 L509.19 1130.79 L508.86 1128.96 L508.53 1127.17 L508.22 1125.41 L507.92 1123.66 L507.62 1121.91 L507.34 1120.15 L507.08 1118.36 L506.83 1116.53 L506.59 1114.65 L506.37 1112.7 L506.16 1110.7 L505.96 1108.66 L505.77 1106.59 L505.59 1104.51 L505.43 1102.42 L505.3 1100.36 L505.18 1098.31 L505.08 1096.31 L505.01 1094.37 L504.97 1092.49 L504.95 1090.69 L504.94 1088.93 L504.96 1087.21 L505 1085.49 L505.06 1083.77 L505.13 1082.01 L505.23 1080.2 L505.34 1078.31 L505.46 1076.34 L505.61 1074.25 L505.76 1072.05 L505.93 1069.78 L506.11 1067.45 L506.32 1065.1 L506.54 1062.74 L506.79 1060.41 L507.07 1058.12 L507.38 1055.91 L507.72 1053.8 L508.12 1051.71 L508.6 1049.55 L509.13 1047.38 L509.7 1045.23 L510.28 1043.15 L510.85 1041.19 L511.38 1039.38 L511.86 1037.77 L512.26 1036.41 L512.56 1035.32Z" stroke="#000" stroke-width="1.3" fill="none" stroke-linejoin="round"/>
<line x1="413.1" y1="1158.6" x2="453.4" y2="1158.6" stroke="#000" stroke-width="2.6"/>
<line x1="459.7" y1="1128.4" x2="498.7" y2="1128.4" stroke="#000" stroke-width="2.6"/>
<line x1="505.9" y1="1086" x2="545.4" y2="1086" stroke="#000" stroke-width="2.6"/>
<circle class="fg" cx="434.93" cy="1091.66"/>
<circle class="fg" cx="436.73" cy="1098.42"/>
<circle class="fg" cx="430.87" cy="1099.32"/>
<circle class="fg" cx="429.97" cy="1102.25"/>
<circle class="fg" cx="437.18" cy="1114.2"/>
<circle class="fg" cx="434.93" cy="1125.92"/>
<circle class="fg" cx="429.52" cy="1132"/>
<circle class="fg" cx="437.86" cy="1138.76"/>
<circle class="fg" cx="429.52" cy="1145.52"/>
<circle class="fg" cx="432.23" cy="1145.52"/>
<circle class="fg" cx="434.48" cy="1150.7"/>
<circle class="fg" cx="437.63" cy="1155.21"/>
<circle class="fg" cx="434.25" cy="1157.92"/>
<circle class="fg" cx="432.23" cy="1161.52"/>
<circle class="fg" cx="436.51" cy="1163.32"/>
<circle class="fg" cx="433.13" cy="1175.94"/>
<circle class="fg" cx="435.61" cy="1174.37"/>
<circle class="fg" cx="431.1" cy="1188.56"/>
<circle class="fg" cx="436.73" cy="1193.97"/>
<circle class="fg" cx="432.9" cy="1213.35"/>
<circle class="fg" cx="436.51" cy="1212.9"/>
<circle class="fg" cx="433.35" cy="1243.77"/>
<circle class="fg" cx="431.55" cy="1271.27"/>
<circle class="fg" cx="432.68" cy="1332.56"/>
<circle class="fg" cx="433.8" cy="1160.17"/>
<circle class="fr" cx="476.62" cy="1044.11"/>
<circle class="fr" cx="478.87" cy="1067.32"/>
<circle class="fr" cx="477.07" cy="1079.27"/>
<circle class="fr" cx="481.58" cy="1083.1"/>
<circle class="fr" cx="475.72" cy="1098.87"/>
<circle class="fr" cx="482.93" cy="1117.35"/>
<circle class="fr" cx="478.87" cy="1122.99"/>
<circle class="fr" cx="475.49" cy="1127.72"/>
<circle class="fr" cx="480" cy="1132.23"/>
<circle class="fr" cx="481.13" cy="1129.97"/>
<circle class="fr" cx="483.83" cy="1148.45"/>
<circle class="fr" cx="475.72" cy="1178.42"/>
<circle class="fr" cx="480.68" cy="1228.9"/>
<circle class="fr" cx="481.13" cy="1240.85"/>
<circle class="fr" cx="479.55" cy="1337.75"/>
<circle class="fr" cx="523.49" cy="1035.32"/>
<circle class="fr" cx="525.07" cy="1047.04"/>
<circle class="fr" cx="529.8" cy="1047.49"/>
<circle class="fr" cx="525.3" cy="1050.87"/>
<circle class="fr" cx="524.62" cy="1072.51"/>
<circle class="fr" cx="529.8" cy="1072.28"/>
<circle class="fr" cx="525.75" cy="1076.34"/>
<circle class="fr" cx="528" cy="1085.35"/>
<circle class="fr" cx="528.45" cy="1087.61"/>
<circle class="fr" cx="523.49" cy="1114.65"/>
<circle class="fr" cx="526.65" cy="1113.52"/>
<circle class="fr" cx="527.55" cy="1127.04"/>
<circle class="fr" cx="529.13" cy="1127.49"/>
<circle class="fr" cx="529.58" cy="1135.38"/>
<circle class="fr" cx="521.24" cy="1142.82"/>
<circle class="fr" cx="523.49" cy="1143.49"/>
<circle class="fr" cx="528.45" cy="1175.49"/>
<circle class="fr" cx="528.9" cy="1087.61"/>
<line x1="432" y1="1030.4" x2="525.5" y2="1030.4" stroke="#000" stroke-width="2.7"/>
<text x="478.4" y="1030.5" text-anchor="middle" fill="#a3261d">*</text>
<text x="395.5" y="1370.4"><tspan font-style="italic">n</tspan> =</text>
<text x="431.8" y="1370.4" text-anchor="middle">25</text>
<text x="481.3" y="1370.4" text-anchor="middle">15</text>
<text x="530.8" y="1370.4" text-anchor="middle">18</text>
<text x="428" y="1383.5" text-anchor="end" transform="rotate(-90 428 1383.5)">Cervix</text>
<text x="446.2" y="1383.5" text-anchor="end" transform="rotate(-90 446.2 1383.5)">Head/neck</text>
<text x="485.6" y="1383.5" text-anchor="end" transform="rotate(-90 485.6 1383.5)">Cervix</text>
<text x="535" y="1383.5" text-anchor="end" transform="rotate(-90 535 1383.5)">Head/neck</text>
<text x="584.3" y="987" font-size="17.5" font-weight="bold" stroke="#000" stroke-width="0.55" font-family="Liberation Serif">g</text>
<text x="735.5" y="1011" text-anchor="middle">Head/neck</text>
<rect x="644.7" y="1019.3" width="181.5" height="333" fill="none" stroke="#626262" stroke-width="1.3"/>
<line x1="637.5" y1="1342.1" x2="644.7" y2="1342.1" stroke="#626262" stroke-width="1.3"/>
<text x="630.5" y="1347.4" text-anchor="end">0</text>
<line x1="637.5" y1="1253.4" x2="644.7" y2="1253.4" stroke="#626262" stroke-width="1.3"/>
<text x="630.5" y="1258.7" text-anchor="end">0.2</text>
<line x1="637.5" y1="1164.7" x2="644.7" y2="1164.7" stroke="#626262" stroke-width="1.3"/>
<text x="630.5" y="1170" text-anchor="end">0.4</text>
<line x1="637.5" y1="1076" x2="644.7" y2="1076" stroke="#626262" stroke-width="1.3"/>
<text x="630.5" y="1081.3" text-anchor="end">0.6</text>
<line x1="666.1" y1="1352.3" x2="666.1" y2="1358.3" stroke="#626262" stroke-width="1.3"/>
<line x1="713.4" y1="1352.3" x2="713.4" y2="1358.3" stroke="#626262" stroke-width="1.3"/>
<line x1="759.1" y1="1352.3" x2="759.1" y2="1358.3" stroke="#626262" stroke-width="1.3"/>
<line x1="804.4" y1="1352.3" x2="804.4" y2="1358.3" stroke="#626262" stroke-width="1.3"/>
<text x="597.6" y="1185.6" text-anchor="middle" transform="rotate(-90 597.6 1185.6)">CIBERSORT immune cell abundance</text>
<rect x="658.1" y="1163.1" width="16" height="2.7" fill="#000"/>
<rect x="705.4" y="1163.1" width="16" height="2.7" fill="#000"/>
<rect x="751.1" y="1163.1" width="16" height="2.7" fill="#000"/>
<rect x="796.4" y="1163.1" width="16" height="2.7" fill="#000"/>
<text x="651.9" y="1141"><tspan font-style="italic">P</tspan> =</text>
<text x="666.6" y="1156.6" text-anchor="middle">0.018</text>
<text x="715.7" y="1156.6" text-anchor="middle">0.004</text>
<text x="761.4" y="1156.6" text-anchor="middle">0.012</text>
<text x="806.7" y="1156.6" text-anchor="middle">0.012</text>
<line x1="657.8" y1="1278" x2="657.8" y2="1308" stroke="#4b4b4b" stroke-width="2.2"/>
<line x1="657.8" y1="1336.5" x2="657.8" y2="1342" stroke="#4b4b4b" stroke-width="2.2"/>
<rect x="649.5" y="1308" width="16.6" height="28.5" fill="#d9d9d9" stroke="#4b4b4b" stroke-width="2.3"/>
<line x1="649.5" y1="1325.5" x2="666.1" y2="1325.5" stroke="#4b4b4b" stroke-width="3.8"/>
<line x1="674.7" y1="1256.6" x2="674.7" y2="1266" stroke="#4b4b4b" stroke-width="2.2"/>
<line x1="674.7" y1="1310.4" x2="674.7" y2="1342" stroke="#4b4b4b" stroke-width="2.2"/>
<rect x="666.1" y="1266" width="17.2" height="44.4" fill="#da2b22" stroke="#4b4b4b" stroke-width="2.3"/>
<line x1="666.1" y1="1277.2" x2="683.3" y2="1277.2" stroke="#4b4b4b" stroke-width="3.8"/>
<line x1="705.4" y1="1259.4" x2="705.4" y2="1299" stroke="#4b4b4b" stroke-width="2.2"/>
<line x1="705.4" y1="1339.7" x2="705.4" y2="1342" stroke="#4b4b4b" stroke-width="2.2"/>
<rect x="696.6" y="1299" width="17.6" height="40.7" fill="#d9d9d9" stroke="#4b4b4b" stroke-width="2.3"/>
<line x1="696.6" y1="1321.5" x2="714.2" y2="1321.5" stroke="#4b4b4b" stroke-width="3.8"/>
<line x1="722.65" y1="1187.2" x2="722.65" y2="1206.7" stroke="#4b4b4b" stroke-width="2.2"/>
<line x1="722.65" y1="1275.3" x2="722.65" y2="1335.4" stroke="#4b4b4b" stroke-width="2.2"/>
<rect x="714" y="1206.7" width="17.3" height="68.6" fill="#da2b22" stroke="#4b4b4b" stroke-width="2.3"/>
<line x1="714" y1="1247.4" x2="731.3" y2="1247.4" stroke="#4b4b4b" stroke-width="3.8"/>
<line x1="750.75" y1="1282.7" x2="750.75" y2="1313.1" stroke="#4b4b4b" stroke-width="2.2"/>
<line x1="750.75" y1="1337.6" x2="750.75" y2="1342" stroke="#4b4b4b" stroke-width="2.2"/>
<rect x="742.2" y="1313.1" width="17.1" height="24.5" fill="#d9d9d9" stroke="#4b4b4b" stroke-width="2.3"/>
<line x1="742.2" y1="1328.3" x2="759.3" y2="1328.3" stroke="#4b4b4b" stroke-width="3.8"/>
<line x1="768.05" y1="1262.9" x2="768.05" y2="1277.2" stroke="#4b4b4b" stroke-width="2.2"/>
<line x1="768.05" y1="1312" x2="768.05" y2="1327" stroke="#4b4b4b" stroke-width="2.2"/>
<rect x="759.3" y="1277.2" width="17.5" height="34.8" fill="#da2b22" stroke="#4b4b4b" stroke-width="2.3"/>
<line x1="759.3" y1="1293.8" x2="776.8" y2="1293.8" stroke="#4b4b4b" stroke-width="3.8"/>
<line x1="796.45" y1="1320.2" x2="796.45" y2="1329.4" stroke="#4b4b4b" stroke-width="2.2"/>
<line x1="796.45" y1="1341.8" x2="796.45" y2="1342" stroke="#4b4b4b" stroke-width="2.2"/>
<rect x="787.6" y="1329.4" width="17.7" height="12.4" fill="#d9d9d9" stroke="#4b4b4b" stroke-width="2.3"/>
<line x1="787.6" y1="1335.7" x2="805.3" y2="1335.7" stroke="#4b4b4b" stroke-width="3.8"/>
<line x1="813.65" y1="1246.8" x2="813.65" y2="1291.7" stroke="#4b4b4b" stroke-width="2.2"/>
<line x1="813.65" y1="1325" x2="813.65" y2="1342.9" stroke="#4b4b4b" stroke-width="2.2"/>
<rect x="805" y="1291.7" width="17.3" height="33.3" fill="#da2b22" stroke="#4b4b4b" stroke-width="2.3"/>
<line x1="805" y1="1311.2" x2="822.3" y2="1311.2" stroke="#4b4b4b" stroke-width="3.8"/>
<circle class="gp" cx="656.62" cy="1192.77"/>
<circle class="gp" cx="705.39" cy="1198.79"/>
<circle class="gp" cx="706.81" cy="1211.14"/>
<circle class="gp" cx="795.95" cy="1296.16"/>
<circle class="gp" cx="795.95" cy="1300.6"/>
<circle class="gp" cx="793.89" cy="1304.87"/>
<circle class="gp" cx="723.9" cy="1029.1"/>
<circle class="gp" cx="723.9" cy="1039"/>
<circle class="gp" cx="723.9" cy="1094.6"/>
<circle class="gp" cx="659" cy="1277.95"/>
<circle class="gp" cx="656.62" cy="1287.45"/>
<circle class="gp" cx="658.21" cy="1297.75"/>
<circle class="gp" cx="656.62" cy="1304.08"/>
<circle class="gp" cx="655.04" cy="1309.62"/>
<circle class="gp" cx="659.79" cy="1316.74"/>
<circle class="gp" cx="656.62" cy="1319.91"/>
<circle class="gp" cx="658.21" cy="1323.08"/>
<circle class="gp" cx="655.83" cy="1325.45"/>
<circle class="gp" cx="657.42" cy="1327.83"/>
<circle class="gp" cx="655.04" cy="1333.37"/>
<circle class="gp" cx="658.21" cy="1334.16"/>
<circle class="gp" cx="656.62" cy="1335.74"/>
<circle class="gp" cx="659" cy="1338.91"/>
<circle class="gp" cx="655.83" cy="1341.29"/>
<circle class="gp" cx="658.21" cy="1342.08"/>
<circle class="gp" cx="657.42" cy="1342.87"/>
<circle class="gp" cx="655.52" cy="1342.87"/>
<circle class="gp" cx="673.25" cy="1256.58"/>
<circle class="gp" cx="675.62" cy="1258.96"/>
<circle class="gp" cx="677.21" cy="1260.54"/>
<circle class="gp" cx="672.46" cy="1262.12"/>
<circle class="gp" cx="674.83" cy="1267.66"/>
<circle class="gp" cx="676.42" cy="1274"/>
<circle class="gp" cx="673.25" cy="1277.95"/>
<circle class="gp" cx="672.93" cy="1286.66"/>
<circle class="gp" cx="673.25" cy="1299.33"/>
<circle class="gp" cx="675.62" cy="1309.62"/>
<circle class="gp" cx="674.04" cy="1321.49"/>
<circle class="gp" cx="675.15" cy="1321.81"/>
<circle class="gp" cx="673.25" cy="1342.08"/>
<circle class="gp" cx="703.81" cy="1259.43"/>
<circle class="gp" cx="706.18" cy="1287.45"/>
<circle class="gp" cx="707.76" cy="1296.16"/>
<circle class="gp" cx="703.33" cy="1300.12"/>
<circle class="gp" cx="703.81" cy="1307.25"/>
<circle class="gp" cx="703.33" cy="1308.83"/>
<circle class="gp" cx="706.18" cy="1315.95"/>
<circle class="gp" cx="704.91" cy="1318.33"/>
<circle class="gp" cx="703.33" cy="1319.91"/>
<circle class="gp" cx="707.29" cy="1321.49"/>
<circle class="gp" cx="704.6" cy="1325.45"/>
<circle class="gp" cx="706.5" cy="1327.83"/>
<circle class="gp" cx="704.91" cy="1334.16"/>
<circle class="gp" cx="703.33" cy="1341.29"/>
<circle class="gp" cx="706.5" cy="1342.08"/>
<circle class="gp" cx="704.91" cy="1342.87"/>
<circle class="gp" cx="720.43" cy="1187.23"/>
<circle class="gp" cx="720.75" cy="1208.29"/>
<circle class="gp" cx="721.86" cy="1228.08"/>
<circle class="gp" cx="720.27" cy="1237.11"/>
<circle class="gp" cx="721.06" cy="1247.87"/>
<circle class="gp" cx="720.27" cy="1266.08"/>
<circle class="gp" cx="721.54" cy="1269.25"/>
<circle class="gp" cx="723.91" cy="1272.41"/>
<circle class="gp" cx="721.06" cy="1276.37"/>
<circle class="gp" cx="723.12" cy="1308.83"/>
<circle class="gp" cx="722.01" cy="1317.54"/>
<circle class="gp" cx="723.12" cy="1335.43"/>
<circle class="gp" cx="751.3" cy="1283.18"/>
<circle class="gp" cx="750.51" cy="1289.83"/>
<circle class="gp" cx="752.73" cy="1294.58"/>
<circle class="gp" cx="750.51" cy="1299.33"/>
<circle class="gp" cx="752.73" cy="1304.87"/>
<circle class="gp" cx="748.93" cy="1309.62"/>
<circle class="gp" cx="750.83" cy="1314.37"/>
<circle class="gp" cx="749.25" cy="1319.12"/>
<circle class="gp" cx="751.62" cy="1319.91"/>
<circle class="gp" cx="750.04" cy="1324.66"/>
<circle class="gp" cx="752.73" cy="1327.04"/>
<circle class="gp" cx="749.25" cy="1329.41"/>
<circle class="gp" cx="751.62" cy="1332.58"/>
<circle class="gp" cx="750.04" cy="1335.74"/>
<circle class="gp" cx="752.41" cy="1337.33"/>
<circle class="gp" cx="750.83" cy="1339.7"/>
<circle class="gp" cx="749.25" cy="1342.08"/>
<circle class="gp" cx="769.04" cy="1262.91"/>
<circle class="gp" cx="766.66" cy="1265.29"/>
<circle class="gp" cx="767.45" cy="1269.25"/>
<circle class="gp" cx="768.25" cy="1274"/>
<circle class="gp" cx="768.56" cy="1277.95"/>
<circle class="gp" cx="769.51" cy="1280.33"/>
<circle class="gp" cx="767.93" cy="1291.41"/>
<circle class="gp" cx="769.04" cy="1294.58"/>
<circle class="gp" cx="769.83" cy="1300.12"/>
<circle class="gp" cx="767.93" cy="1305.35"/>
<circle class="gp" cx="768.56" cy="1311.99"/>
<circle class="gp" cx="765.87" cy="1314.37"/>
<circle class="gp" cx="767.45" cy="1315.95"/>
<circle class="gp" cx="769.04" cy="1315.95"/>
<circle class="gp" cx="766.66" cy="1319.12"/>
<circle class="gp" cx="767.45" cy="1327.04"/>
<circle class="gp" cx="795.95" cy="1320.23"/>
<circle class="gp" cx="796.74" cy="1322.29"/>
<circle class="gp" cx="797.54" cy="1325.45"/>
<circle class="gp" cx="795.16" cy="1327.83"/>
<circle class="gp" cx="798.33" cy="1329.41"/>
<circle class="gp" cx="795.95" cy="1330.99"/>
<circle class="gp" cx="797.54" cy="1333.37"/>
<circle class="gp" cx="794.37" cy="1334.16"/>
<circle class="gp" cx="796.74" cy="1335.74"/>
<circle class="gp" cx="798.33" cy="1337.33"/>
<circle class="gp" cx="795.16" cy="1338.91"/>
<circle class="gp" cx="797.54" cy="1340.49"/>
<circle class="gp" cx="795.95" cy="1342.08"/>
<circle class="gp" cx="799.12" cy="1342.87"/>
<circle class="gp" cx="814.64" cy="1246.76"/>
<circle class="gp" cx="814.16" cy="1272.41"/>
<circle class="gp" cx="811.79" cy="1277.95"/>
<circle class="gp" cx="813.05" cy="1294.58"/>
<circle class="gp" cx="814.16" cy="1295.85"/>
<circle class="gp" cx="812.58" cy="1311.2"/>
<circle class="gp" cx="813.84" cy="1318.33"/>
<circle class="gp" cx="814.48" cy="1319.12"/>
<circle class="gp" cx="814.16" cy="1324.66"/>
<circle class="gp" cx="815.43" cy="1327.83"/>
<circle class="gp" cx="813.37" cy="1331.79"/>
<circle class="gp" cx="814.48" cy="1335.74"/>
<circle class="gp" cx="813.37" cy="1339.7"/>
<circle class="gp" cx="812.58" cy="1342.87"/>
<text x="621" y="1376.7"><tspan font-style="italic">n</tspan> =</text>
<text x="666.1" y="1376.7" text-anchor="middle">24/18</text>
<text x="713.4" y="1376.7" text-anchor="middle">24/18</text>
<text x="759.1" y="1376.7" text-anchor="middle">24/18</text>
<text x="804.4" y="1376.7" text-anchor="middle">24/18</text>
<text x="670.6" y="1391.6" text-anchor="end" transform="rotate(-90 670.6 1391.6)">Macrophages M1</text>
<text x="717" y="1391.6" text-anchor="end" transform="rotate(-90 717 1391.6)">T cells CD8</text>
<text x="753.6" y="1391.6" text-anchor="end" transform="rotate(-90 753.6 1391.6)">T cells follicular</text>
<text x="772.2" y="1391.6" text-anchor="end" transform="rotate(-90 772.2 1391.6)">helper</text>
<text x="809.6" y="1391.6" text-anchor="end" transform="rotate(-90 809.6 1391.6)">T cells regulatory</text>
</svg></body></html>
